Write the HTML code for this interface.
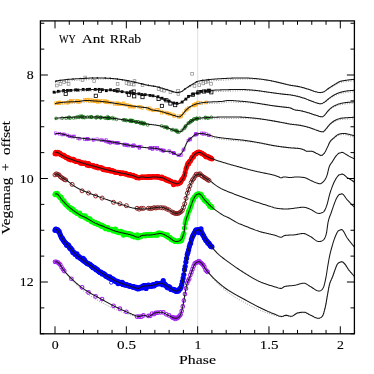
<!DOCTYPE html>
<html><head><meta charset="utf-8"><title>WY Ant RRab</title>
<style>html,body{margin:0;padding:0;background:#fff}svg{display:block}</style></head>
<body>
<svg width="374" height="374" viewBox="0 0 374 374">
<rect width="374" height="374" fill="#fff"/>
<defs><clipPath id="c"><rect x="40.4" y="20.9" width="314.0" height="312.90000000000003"/></clipPath></defs>
<g clip-path="url(#c)">
<line x1="197.65" y1="20.9" x2="197.65" y2="333.8" stroke="#d8d8d8" stroke-width="0.8"/>
<path d="M55.00,82.59 L56.16,82.31 L57.31,82.09 L58.47,81.92 L59.63,81.78 L60.78,81.66 L61.94,81.53 L63.10,81.40 L64.25,81.28 L65.41,81.16 L66.57,81.06 L67.72,80.96 L68.88,80.88 L70.04,80.80 L71.19,80.72 L72.35,80.65 L73.51,80.57 L74.66,80.50 L75.82,80.43 L76.98,80.35 L78.13,80.28 L79.29,80.21 L80.45,80.14 L81.60,80.07 L82.76,80.00 L83.92,79.93 L85.07,79.85 L86.23,79.78 L87.39,79.70 L88.54,79.62 L89.70,79.54 L90.86,79.46 L92.01,79.39 L93.17,79.32 L94.33,79.25 L95.48,79.19 L96.64,79.13 L97.80,79.09 L98.95,79.05 L100.11,79.02 L101.26,79.00 L102.42,78.98 L103.58,78.98 L104.73,78.97 L105.89,78.98 L107.05,78.99 L108.20,79.01 L109.36,79.03 L110.52,79.06 L111.67,79.09 L112.83,79.13 L113.99,79.18 L115.14,79.25 L116.30,79.32 L117.46,79.41 L118.61,79.51 L119.77,79.62 L120.93,79.74 L122.08,79.87 L123.24,80.01 L124.40,80.16 L125.55,80.31 L126.71,80.47 L127.87,80.64 L129.02,80.83 L130.18,81.04 L131.34,81.26 L132.49,81.49 L133.65,81.73 L134.81,81.98 L135.96,82.23 L137.12,82.48 L138.28,82.74 L139.43,83.00 L140.59,83.25 L141.75,83.51 L142.90,83.79 L144.06,84.07 L145.22,84.35 L146.37,84.61 L147.53,84.85 L148.69,85.05 L149.84,85.24 L151.00,85.42 L152.16,85.59 L153.31,85.77 L154.47,85.97 L155.63,86.19 L156.78,86.43 L157.94,86.72 L159.10,87.03 L160.25,87.37 L161.41,87.74 L162.57,88.12 L163.72,88.51 L164.88,88.90 L166.04,89.30 L167.19,89.70 L168.35,90.14 L169.51,90.60 L170.66,91.05 L171.82,91.48 L172.98,91.86 L174.13,92.21 L175.29,92.54 L176.45,92.77 L177.60,92.84 L178.76,92.76 L179.92,92.55 L181.07,92.21 L182.23,91.65 L183.39,90.86 L184.54,89.99 L185.70,89.18 L186.85,88.47 L188.01,87.78 L189.17,87.10 L190.32,86.44 L191.48,85.79 L192.64,85.15 L193.79,84.47 L194.95,83.79 L196.11,83.18 L197.26,82.71 L198.42,82.39 L199.58,82.16 L200.73,81.97 L201.89,81.82 L203.05,81.70 L204.20,81.57 L205.36,81.44 L206.52,81.32 L207.67,81.20 L208.83,81.09 L209.99,80.99 L211.14,80.91 L212.30,80.82 L213.46,80.75 L214.61,80.67 L215.77,80.60 L216.93,80.52 L218.08,80.45 L219.24,80.38 L220.40,80.30 L221.55,80.23 L222.71,80.16 L223.87,80.09 L225.02,80.02 L226.18,79.95 L227.34,79.88 L228.49,79.80 L229.65,79.73 L230.81,79.65 L231.96,79.57 L233.12,79.49 L234.28,79.41 L235.43,79.34 L236.59,79.27 L237.75,79.21 L238.90,79.15 L240.06,79.10 L241.22,79.06 L242.37,79.03 L243.53,79.01 L244.69,78.99 L245.84,78.98 L247.00,78.97 L248.16,78.98 L249.31,78.98 L250.47,79.00 L251.63,79.02 L252.78,79.05 L253.94,79.08 L255.10,79.11 L256.25,79.16 L257.41,79.22 L258.57,79.30 L259.72,79.38 L260.88,79.48 L262.04,79.59 L263.19,79.70 L264.35,79.83 L265.51,79.96 L266.66,80.11 L267.82,80.26 L268.98,80.41 L270.13,80.58 L271.29,80.77 L272.44,80.97 L273.60,81.18 L274.76,81.41 L275.91,81.65 L277.07,81.89 L278.23,82.14 L279.38,82.40 L280.54,82.65 L281.70,82.91 L282.85,83.17 L284.01,83.42 L285.17,83.70 L286.32,83.98 L287.48,84.26 L288.64,84.53 L289.79,84.77 L290.95,84.99 L292.11,85.18 L293.26,85.36 L294.42,85.54 L295.58,85.71 L296.73,85.90 L297.89,86.11 L299.05,86.35 L300.20,86.62 L301.36,86.92 L302.52,87.26 L303.67,87.61 L304.83,87.99 L305.99,88.38 L307.14,88.77 L308.30,89.17 L309.46,89.57 L310.61,89.99 L311.77,90.44 L312.93,90.90 L314.08,91.34 L315.24,91.74 L316.40,92.09 L317.55,92.44 L318.71,92.71 L319.87,92.83 L321.02,92.80 L322.18,92.63 L323.34,92.34 L324.49,91.87 L325.65,91.15 L326.81,90.28 L327.96,89.43 L329.12,88.70 L330.28,88.01 L331.43,87.33 L332.59,86.66 L333.75,86.01 L334.90,85.37 L336.06,84.70 L337.22,84.01 L338.37,83.37 L339.53,82.85 L340.69,82.49 L341.84,82.23 L343.00,82.03 L344.16,81.87 L345.31,81.74 L346.47,81.62 L347.63,81.49 L348.78,81.36 L349.94,81.24 L351.10,81.13 L352.25,81.03 L353.41,80.93 L354.56,80.85" fill="none" stroke="#777" stroke-width="0.85" stroke-dasharray="0.9 1.5"/>
<path d="M55.00,93.59 L56.16,93.31 L57.31,93.06 L58.47,92.84 L59.63,92.64 L60.78,92.47 L61.94,92.33 L63.10,92.21 L64.25,92.12 L65.41,92.04 L66.57,91.98 L67.72,91.92 L68.88,91.87 L70.04,91.82 L71.19,91.77 L72.35,91.72 L73.51,91.67 L74.66,91.62 L75.82,91.57 L76.98,91.52 L78.13,91.47 L79.29,91.42 L80.45,91.37 L81.60,91.33 L82.76,91.28 L83.92,91.24 L85.07,91.19 L86.23,91.15 L87.39,91.10 L88.54,91.05 L89.70,91.00 L90.86,90.96 L92.01,90.91 L93.17,90.86 L94.33,90.82 L95.48,90.77 L96.64,90.73 L97.80,90.69 L98.95,90.65 L100.11,90.63 L101.26,90.62 L102.42,90.62 L103.58,90.63 L104.73,90.65 L105.89,90.67 L107.05,90.70 L108.20,90.74 L109.36,90.79 L110.52,90.83 L111.67,90.88 L112.83,90.94 L113.99,91.01 L115.14,91.10 L116.30,91.21 L117.46,91.32 L118.61,91.44 L119.77,91.57 L120.93,91.71 L122.08,91.84 L123.24,91.97 L124.40,92.11 L125.55,92.23 L126.71,92.35 L127.87,92.47 L129.02,92.59 L130.18,92.71 L131.34,92.84 L132.49,92.97 L133.65,93.09 L134.81,93.22 L135.96,93.35 L137.12,93.47 L138.28,93.60 L139.43,93.73 L140.59,93.85 L141.75,93.96 L142.90,94.06 L144.06,94.15 L145.22,94.25 L146.37,94.38 L147.53,94.54 L148.69,94.72 L149.84,94.92 L151.00,95.14 L152.16,95.38 L153.31,95.64 L154.47,95.91 L155.63,96.21 L156.78,96.52 L157.94,96.86 L159.10,97.23 L160.25,97.63 L161.41,98.06 L162.57,98.50 L163.72,98.95 L164.88,99.41 L166.04,99.87 L167.19,100.33 L168.35,100.82 L169.51,101.34 L170.66,101.85 L171.82,102.33 L172.98,102.76 L174.13,103.16 L175.29,103.55 L176.45,103.87 L177.60,104.04 L178.76,103.97 L179.92,103.59 L181.07,103.02 L182.23,102.39 L183.39,101.55 L184.54,100.59 L185.70,99.68 L186.85,98.89 L188.01,98.10 L189.17,97.34 L190.32,96.62 L191.48,95.96 L192.64,95.39 L193.79,94.87 L194.95,94.42 L196.11,94.03 L197.26,93.69 L198.42,93.40 L199.58,93.14 L200.73,92.91 L201.89,92.70 L203.05,92.53 L204.20,92.37 L205.36,92.25 L206.52,92.15 L207.67,92.06 L208.83,92.00 L209.99,91.94 L211.14,91.88 L212.30,91.83 L213.46,91.78 L214.61,91.73 L215.77,91.68 L216.93,91.63 L218.08,91.58 L219.24,91.53 L220.40,91.48 L221.55,91.44 L222.71,91.39 L223.87,91.34 L225.02,91.30 L226.18,91.25 L227.34,91.21 L228.49,91.16 L229.65,91.11 L230.81,91.07 L231.96,91.02 L233.12,90.97 L234.28,90.93 L235.43,90.88 L236.59,90.83 L237.75,90.79 L238.90,90.74 L240.06,90.70 L241.22,90.66 L242.37,90.64 L243.53,90.62 L244.69,90.62 L245.84,90.62 L247.00,90.64 L248.16,90.66 L249.31,90.69 L250.47,90.73 L251.63,90.77 L252.78,90.82 L253.94,90.87 L255.10,90.92 L256.25,90.99 L257.41,91.07 L258.57,91.17 L259.72,91.28 L260.88,91.40 L262.04,91.53 L263.19,91.66 L264.35,91.80 L265.51,91.93 L266.66,92.06 L267.82,92.19 L268.98,92.31 L270.13,92.43 L271.29,92.55 L272.44,92.67 L273.60,92.80 L274.76,92.92 L275.91,93.05 L277.07,93.18 L278.23,93.30 L279.38,93.43 L280.54,93.56 L281.70,93.68 L282.85,93.81 L284.01,93.93 L285.17,94.02 L286.32,94.12 L287.48,94.21 L288.64,94.33 L289.79,94.48 L290.95,94.66 L292.11,94.85 L293.26,95.07 L294.42,95.30 L295.58,95.55 L296.73,95.82 L297.89,96.11 L299.05,96.42 L300.20,96.74 L301.36,97.11 L302.52,97.50 L303.67,97.92 L304.83,98.35 L305.99,98.80 L307.14,99.26 L308.30,99.72 L309.46,100.17 L310.61,100.66 L311.77,101.17 L312.93,101.68 L314.08,102.18 L315.24,102.62 L316.40,103.03 L317.55,103.43 L318.71,103.77 L319.87,104.00 L321.02,104.04 L322.18,103.74 L323.34,103.22 L324.49,102.62 L325.65,101.85 L326.81,100.91 L327.96,99.97 L329.12,99.15 L330.28,98.36 L331.43,97.59 L332.59,96.85 L333.75,96.17 L334.90,95.57 L336.06,95.04 L337.22,94.57 L338.37,94.15 L339.53,93.79 L340.69,93.49 L341.84,93.22 L343.00,92.98 L344.16,92.77 L345.31,92.58 L346.47,92.42 L347.63,92.29 L348.78,92.18 L349.94,92.09 L351.10,92.02 L352.25,91.96 L353.41,91.90 L354.56,91.85" fill="none" stroke="#777" stroke-width="0.85" stroke-dasharray="0.9 1.5"/>
<path d="M55.00,104.79 L56.16,104.55 L57.31,104.35 L58.47,104.18 L59.63,104.05 L60.78,103.93 L61.94,103.83 L63.10,103.74 L64.25,103.67 L65.41,103.61 L66.57,103.56 L67.72,103.52 L68.88,103.47 L70.04,103.42 L71.19,103.38 L72.35,103.34 L73.51,103.30 L74.66,103.26 L75.82,103.21 L76.98,103.15 L78.13,103.08 L79.29,102.99 L80.45,102.84 L81.60,102.63 L82.76,102.40 L83.92,102.18 L85.07,102.00 L86.23,101.91 L87.39,101.90 L88.54,101.93 L89.70,101.97 L90.86,102.04 L92.01,102.11 L93.17,102.19 L94.33,102.26 L95.48,102.31 L96.64,102.35 L97.80,102.39 L98.95,102.43 L100.11,102.47 L101.26,102.52 L102.42,102.57 L103.58,102.63 L104.73,102.70 L105.89,102.78 L107.05,102.88 L108.20,102.99 L109.36,103.11 L110.52,103.24 L111.67,103.37 L112.83,103.51 L113.99,103.64 L115.14,103.78 L116.30,103.91 L117.46,104.04 L118.61,104.17 L119.77,104.31 L120.93,104.46 L122.08,104.60 L123.24,104.75 L124.40,104.90 L125.55,105.04 L126.71,105.19 L127.87,105.33 L129.02,105.48 L130.18,105.62 L131.34,105.75 L132.49,105.88 L133.65,106.00 L134.81,106.12 L135.96,106.23 L137.12,106.34 L138.28,106.45 L139.43,106.56 L140.59,106.68 L141.75,106.80 L142.90,106.92 L144.06,107.03 L145.22,107.15 L146.37,107.31 L147.53,107.56 L148.69,108.00 L149.84,108.56 L151.00,109.11 L152.16,109.52 L153.31,109.77 L154.47,109.96 L155.63,110.12 L156.78,110.28 L157.94,110.48 L159.10,110.74 L160.25,111.04 L161.41,111.36 L162.57,111.71 L163.72,112.07 L164.88,112.45 L166.04,112.83 L167.19,113.22 L168.35,113.61 L169.51,114.02 L170.66,114.45 L171.82,114.90 L172.98,115.33 L174.13,115.74 L175.29,116.13 L176.45,116.54 L177.60,116.91 L178.76,117.16 L179.92,117.14 L181.07,116.38 L182.23,115.34 L183.39,114.00 L184.54,112.53 L185.70,111.21 L186.85,110.14 L188.01,109.14 L189.17,108.24 L190.32,107.50 L191.48,106.90 L192.64,106.38 L193.79,105.92 L194.95,105.52 L196.11,105.17 L197.26,104.88 L198.42,104.62 L199.58,104.41 L200.73,104.24 L201.89,104.09 L203.05,103.97 L204.20,103.86 L205.36,103.76 L206.52,103.69 L207.67,103.63 L208.83,103.58 L209.99,103.53 L211.14,103.48 L212.30,103.43 L213.46,103.39 L214.61,103.35 L215.77,103.31 L216.93,103.27 L218.08,103.23 L219.24,103.17 L220.40,103.11 L221.55,103.02 L222.71,102.90 L223.87,102.71 L225.02,102.48 L226.18,102.25 L227.34,102.05 L228.49,101.93 L229.65,101.90 L230.81,101.91 L231.96,101.96 L233.12,102.02 L234.28,102.09 L235.43,102.16 L236.59,102.23 L237.75,102.29 L238.90,102.34 L240.06,102.38 L241.22,102.42 L242.37,102.46 L243.53,102.50 L244.69,102.55 L245.84,102.60 L247.00,102.67 L248.16,102.75 L249.31,102.84 L250.47,102.95 L251.63,103.07 L252.78,103.19 L253.94,103.32 L255.10,103.46 L256.25,103.60 L257.41,103.73 L258.57,103.87 L259.72,104.00 L260.88,104.13 L262.04,104.27 L263.19,104.41 L264.35,104.55 L265.51,104.70 L266.66,104.85 L267.82,104.99 L268.98,105.14 L270.13,105.29 L271.29,105.43 L272.44,105.57 L273.60,105.71 L274.76,105.84 L275.91,105.96 L277.07,106.08 L278.23,106.19 L279.38,106.30 L280.54,106.41 L281.70,106.52 L282.85,106.64 L284.01,106.76 L285.17,106.89 L286.32,106.99 L287.48,107.11 L288.64,107.25 L289.79,107.47 L290.95,107.83 L292.11,108.36 L293.26,108.94 L294.42,109.41 L295.58,109.70 L296.73,109.91 L297.89,110.07 L299.05,110.23 L300.20,110.41 L301.36,110.65 L302.52,110.94 L303.67,111.25 L304.83,111.59 L305.99,111.95 L307.14,112.32 L308.30,112.70 L309.46,113.09 L310.61,113.48 L311.77,113.88 L312.93,114.31 L314.08,114.75 L315.24,115.19 L316.40,115.61 L317.55,116.00 L318.71,116.40 L319.87,116.80 L321.02,117.10 L322.18,117.22 L323.34,116.69 L324.49,115.71 L325.65,114.48 L326.81,113.02 L327.96,111.62 L329.12,110.49 L330.28,109.46 L331.43,108.53 L332.59,107.73 L333.75,107.09 L334.90,106.55 L336.06,106.07 L337.22,105.65 L338.37,105.29 L339.53,104.97 L340.69,104.70 L341.84,104.48 L343.00,104.29 L344.16,104.14 L345.31,104.00 L346.47,103.89 L347.63,103.79 L348.78,103.71 L349.94,103.65 L351.10,103.59 L352.25,103.55 L353.41,103.50 L354.56,103.45" fill="none" stroke="#777" stroke-width="0.85" stroke-dasharray="0.9 1.5"/>
<path d="M55.00,119.59 L56.16,119.43 L57.31,119.33 L58.47,119.26 L59.63,119.21 L60.78,119.16 L61.94,119.12 L63.10,119.06 L64.25,119.01 L65.41,118.96 L66.57,118.92 L67.72,118.89 L68.88,118.86 L70.04,118.84 L71.19,118.81 L72.35,118.79 L73.51,118.76 L74.66,118.73 L75.82,118.71 L76.98,118.68 L78.13,118.65 L79.29,118.63 L80.45,118.60 L81.60,118.58 L82.76,118.56 L83.92,118.55 L85.07,118.53 L86.23,118.51 L87.39,118.48 L88.54,118.46 L89.70,118.43 L90.86,118.41 L92.01,118.38 L93.17,118.36 L94.33,118.33 L95.48,118.32 L96.64,118.30 L97.80,118.29 L98.95,118.28 L100.11,118.29 L101.26,118.31 L102.42,118.34 L103.58,118.37 L104.73,118.41 L105.89,118.46 L107.05,118.52 L108.20,118.58 L109.36,118.64 L110.52,118.71 L111.67,118.78 L112.83,118.85 L113.99,118.93 L115.14,119.02 L116.30,119.12 L117.46,119.22 L118.61,119.33 L119.77,119.45 L120.93,119.58 L122.08,119.70 L123.24,119.84 L124.40,119.98 L125.55,120.12 L126.71,120.26 L127.87,120.41 L129.02,120.57 L130.18,120.74 L131.34,120.91 L132.49,121.09 L133.65,121.27 L134.81,121.46 L135.96,121.65 L137.12,121.85 L138.28,122.05 L139.43,122.25 L140.59,122.45 L141.75,122.66 L142.90,122.89 L144.06,123.12 L145.22,123.34 L146.37,123.55 L147.53,123.74 L148.69,123.89 L149.84,124.04 L151.00,124.17 L152.16,124.30 L153.31,124.43 L154.47,124.58 L155.63,124.75 L156.78,124.94 L157.94,125.17 L159.10,125.42 L160.25,125.69 L161.41,125.98 L162.57,126.29 L163.72,126.61 L164.88,126.96 L166.04,127.32 L167.19,127.70 L168.35,128.13 L169.51,128.61 L170.66,129.10 L171.82,129.60 L172.98,130.09 L174.13,130.53 L175.29,130.94 L176.45,131.35 L177.60,131.74 L178.76,132.05 L179.92,132.24 L181.07,131.97 L182.23,130.83 L183.39,129.50 L184.54,128.18 L185.70,126.73 L186.85,125.39 L188.01,124.32 L189.17,123.40 L190.32,122.58 L191.48,121.87 L192.64,121.28 L193.79,120.76 L194.95,120.30 L196.11,119.93 L197.26,119.65 L198.42,119.48 L199.58,119.36 L200.73,119.28 L201.89,119.22 L203.05,119.18 L204.20,119.13 L205.36,119.08 L206.52,119.03 L207.67,118.98 L208.83,118.94 L209.99,118.90 L211.14,118.87 L212.30,118.84 L213.46,118.82 L214.61,118.80 L215.77,118.77 L216.93,118.74 L218.08,118.71 L219.24,118.69 L220.40,118.66 L221.55,118.64 L222.71,118.61 L223.87,118.59 L225.02,118.57 L226.18,118.55 L227.34,118.53 L228.49,118.51 L229.65,118.49 L230.81,118.47 L231.96,118.44 L233.12,118.41 L234.28,118.39 L235.43,118.36 L236.59,118.34 L237.75,118.32 L238.90,118.30 L240.06,118.29 L241.22,118.28 L242.37,118.29 L243.53,118.30 L244.69,118.33 L245.84,118.36 L247.00,118.40 L248.16,118.45 L249.31,118.50 L250.47,118.56 L251.63,118.62 L252.78,118.69 L253.94,118.75 L255.10,118.82 L256.25,118.90 L257.41,118.99 L258.57,119.08 L259.72,119.19 L260.88,119.29 L262.04,119.41 L263.19,119.53 L264.35,119.66 L265.51,119.79 L266.66,119.93 L267.82,120.07 L268.98,120.21 L270.13,120.36 L271.29,120.52 L272.44,120.68 L273.60,120.85 L274.76,121.03 L275.91,121.21 L277.07,121.40 L278.23,121.59 L279.38,121.78 L280.54,121.98 L281.70,122.18 L282.85,122.38 L284.01,122.59 L285.17,122.81 L286.32,123.04 L287.48,123.27 L288.64,123.48 L289.79,123.68 L290.95,123.84 L292.11,123.99 L293.26,124.12 L294.42,124.25 L295.58,124.39 L296.73,124.53 L297.89,124.69 L299.05,124.87 L300.20,125.09 L301.36,125.33 L302.52,125.59 L303.67,125.88 L304.83,126.18 L305.99,126.50 L307.14,126.84 L308.30,127.20 L309.46,127.57 L310.61,127.98 L311.77,128.44 L312.93,128.94 L314.08,129.44 L315.24,129.93 L316.40,130.39 L317.55,130.80 L318.71,131.21 L319.87,131.62 L321.02,131.96 L322.18,132.20 L323.34,132.18 L324.49,131.27 L325.65,129.92 L326.81,128.65 L327.96,127.21 L329.12,125.81 L330.28,124.66 L331.43,123.70 L332.59,122.84 L333.75,122.10 L334.90,121.47 L336.06,120.93 L337.22,120.45 L338.37,120.04 L339.53,119.73 L340.69,119.53 L341.84,119.39 L343.00,119.30 L344.16,119.24 L345.31,119.19 L346.47,119.15 L347.63,119.10 L348.78,119.05 L349.94,119.00 L351.10,118.95 L352.25,118.91 L353.41,118.88 L354.56,118.85" fill="none" stroke="#777" stroke-width="0.85" stroke-dasharray="0.9 1.5"/>
<path d="M55.00,134.97 L56.16,134.73 L57.31,134.56 L58.47,134.58 L59.63,134.71 L60.78,134.93 L61.94,135.19 L63.10,135.48 L64.25,135.78 L65.41,136.09 L66.57,136.45 L67.72,136.85 L68.88,137.25 L70.04,137.64 L71.19,137.97 L72.35,138.23 L73.51,138.45 L74.66,138.64 L75.82,138.83 L76.98,139.00 L78.13,139.15 L79.29,139.30 L80.45,139.44 L81.60,139.57 L82.76,139.69 L83.92,139.81 L85.07,139.93 L86.23,140.04 L87.39,140.16 L88.54,140.27 L89.70,140.37 L90.86,140.46 L92.01,140.55 L93.17,140.63 L94.33,140.70 L95.48,140.78 L96.64,140.86 L97.80,140.94 L98.95,141.03 L100.11,141.13 L101.26,141.25 L102.42,141.37 L103.58,141.49 L104.73,141.62 L105.89,141.76 L107.05,141.90 L108.20,142.04 L109.36,142.19 L110.52,142.34 L111.67,142.50 L112.83,142.66 L113.99,142.82 L115.14,142.98 L116.30,143.14 L117.46,143.32 L118.61,143.50 L119.77,143.69 L120.93,143.89 L122.08,144.10 L123.24,144.30 L124.40,144.51 L125.55,144.72 L126.71,144.93 L127.87,145.13 L129.02,145.32 L130.18,145.51 L131.34,145.68 L132.49,145.85 L133.65,146.00 L134.81,146.16 L135.96,146.30 L137.12,146.45 L138.28,146.59 L139.43,146.73 L140.59,146.86 L141.75,147.00 L142.90,147.13 L144.06,147.25 L145.22,147.38 L146.37,147.50 L147.53,147.62 L148.69,147.73 L149.84,147.81 L151.00,147.89 L152.16,147.96 L153.31,148.04 L154.47,148.14 L155.63,148.27 L156.78,148.43 L157.94,148.67 L159.10,149.02 L160.25,149.46 L161.41,149.93 L162.57,150.55 L163.72,151.22 L164.88,151.31 L166.04,151.30 L167.19,151.29 L168.35,151.31 L169.51,151.51 L170.66,151.93 L171.82,152.50 L172.98,153.14 L174.13,153.74 L175.29,154.30 L176.45,154.98 L177.60,155.58 L178.76,155.84 L179.92,155.39 L181.07,154.32 L182.23,152.88 L183.39,150.76 L184.54,148.30 L185.70,145.86 L186.85,143.31 L188.01,141.64 L189.17,140.44 L190.32,139.44 L191.48,138.48 L192.64,137.50 L193.79,136.58 L194.95,135.80 L196.11,135.28 L197.26,135.04 L198.42,134.81 L199.58,134.60 L200.73,134.56 L201.89,134.66 L203.05,134.85 L204.20,135.10 L205.36,135.38 L206.52,135.69 L207.67,135.98 L208.83,136.32 L209.99,136.71 L211.14,137.12 L212.30,137.51 L213.46,137.87 L214.61,138.15 L215.77,138.38 L216.93,138.58 L218.08,138.77 L219.24,138.94 L220.40,139.10 L221.55,139.25 L222.71,139.39 L223.87,139.53 L225.02,139.65 L226.18,139.77 L227.34,139.89 L228.49,140.01 L229.65,140.12 L230.81,140.24 L231.96,140.34 L233.12,140.44 L234.28,140.52 L235.43,140.60 L236.59,140.68 L237.75,140.75 L238.90,140.83 L240.06,140.91 L241.22,141.00 L242.37,141.10 L243.53,141.21 L244.69,141.32 L245.84,141.45 L247.00,141.58 L248.16,141.71 L249.31,141.85 L250.47,141.99 L251.63,142.14 L252.78,142.29 L253.94,142.45 L255.10,142.60 L256.25,142.76 L257.41,142.93 L258.57,143.09 L259.72,143.26 L260.88,143.44 L262.04,143.63 L263.19,143.82 L264.35,144.03 L265.51,144.23 L266.66,144.44 L267.82,144.65 L268.98,144.86 L270.13,145.06 L271.29,145.26 L272.44,145.45 L273.60,145.63 L274.76,145.79 L275.91,145.95 L277.07,146.11 L278.23,146.26 L279.38,146.40 L280.54,146.54 L281.70,146.68 L282.85,146.82 L284.01,146.95 L285.17,147.08 L286.32,147.21 L287.48,147.34 L288.64,147.46 L289.79,147.58 L290.95,147.70 L292.11,147.79 L293.26,147.86 L294.42,147.94 L295.58,148.02 L296.73,148.11 L297.89,148.23 L299.05,148.37 L300.20,148.57 L301.36,148.89 L302.52,149.31 L303.67,149.77 L304.83,150.30 L305.99,151.05 L307.14,151.31 L308.30,151.31 L309.46,151.29 L310.61,151.30 L311.77,151.41 L312.93,151.77 L314.08,152.30 L315.24,152.92 L316.40,153.55 L317.55,154.10 L318.71,154.75 L319.87,155.41 L321.02,155.81 L322.18,155.62 L323.34,154.73 L324.49,153.41 L325.65,151.53 L326.81,149.13 L327.96,146.72 L329.12,144.11 L330.28,142.11 L331.43,140.81 L332.59,139.76 L333.75,138.81 L334.90,137.83 L336.06,136.87 L337.22,136.04 L338.37,135.42 L339.53,135.11 L340.69,134.89 L341.84,134.66 L343.00,134.55 L344.16,134.61 L345.31,134.78 L346.47,135.01 L347.63,135.29 L348.78,135.59 L349.94,135.88 L351.10,136.20 L352.25,136.58 L353.41,136.98 L354.56,137.38" fill="none" stroke="#777" stroke-width="0.85" stroke-dasharray="0.9 1.5"/>
<path d="M55.00,262.50 L56.16,262.21 L57.31,262.46 L58.47,263.37 L59.63,264.59 L60.78,266.22 L61.94,268.10 L63.10,269.88 L64.25,271.35 L65.41,272.73 L66.57,274.07 L67.72,275.48 L68.88,276.84 L70.04,278.16 L71.19,279.45 L72.35,280.69 L73.51,281.91 L74.66,283.09 L75.82,284.25 L76.98,285.37 L78.13,286.46 L79.29,287.52 L80.45,288.55 L81.60,289.54 L82.76,290.49 L83.92,291.40 L85.07,292.27 L86.23,293.10 L87.39,293.91 L88.54,294.69 L89.70,295.45 L90.86,296.20 L92.01,296.94 L93.17,297.65 L94.33,298.34 L95.48,299.01 L96.64,299.67 L97.80,300.32 L98.95,300.96 L100.11,301.60 L101.26,302.23 L102.42,302.87 L103.58,303.50 L104.73,304.12 L105.89,304.74 L107.05,305.35 L108.20,305.95 L109.36,306.54 L110.52,307.12 L111.67,307.69 L112.83,308.24 L113.99,308.77 L115.14,309.29 L116.30,309.79 L117.46,310.27 L118.61,310.74 L119.77,311.21 L120.93,311.66 L122.08,312.10 L123.24,312.53 L124.40,312.95 L125.55,313.35 L126.71,313.75 L127.87,314.12 L129.02,314.48 L130.18,314.83 L131.34,315.16 L132.49,315.48 L133.65,315.82 L134.81,316.17 L135.96,316.47 L137.12,316.69 L138.28,316.84 L139.43,316.89 L140.59,316.61 L141.75,316.18 L142.90,315.85 L144.06,315.84 L145.22,316.09 L146.37,316.43 L147.53,316.71 L148.69,316.79 L149.84,316.46 L151.00,315.80 L152.16,315.00 L153.31,314.21 L154.47,313.62 L155.63,313.31 L156.78,313.08 L157.94,312.91 L159.10,312.79 L160.25,312.72 L161.41,312.70 L162.57,312.91 L163.72,313.37 L164.88,313.98 L166.04,314.65 L167.19,315.27 L168.35,315.80 L169.51,316.38 L170.66,317.01 L171.82,317.61 L172.98,318.14 L174.13,318.52 L175.29,318.69 L176.45,318.63 L177.60,318.30 L178.76,317.59 L179.92,316.37 L181.07,313.61 L182.23,309.32 L183.39,303.92 L184.54,297.01 L185.70,290.52 L186.85,284.85 L188.01,281.50 L189.17,279.01 L190.32,276.08 L191.48,272.76 L192.64,269.59 L193.79,266.45 L194.95,264.30 L196.11,263.25 L197.26,262.66 L198.42,262.26 L199.58,262.29 L200.73,263.02 L201.89,264.16 L203.05,265.64 L204.20,267.47 L205.36,269.32 L206.52,270.88 L207.67,272.28 L208.83,273.62 L209.99,275.02 L211.14,276.39 L212.30,277.73 L213.46,279.02 L214.61,280.28 L215.77,281.51 L216.93,282.70 L218.08,283.87 L219.24,285.00 L220.40,286.10 L221.55,287.17 L222.71,288.21 L223.87,289.21 L225.02,290.18 L226.18,291.10 L227.34,291.99 L228.49,292.83 L229.65,293.64 L230.81,294.43 L231.96,295.20 L233.12,295.95 L234.28,296.69 L235.43,297.41 L236.59,298.11 L237.75,298.79 L238.90,299.45 L240.06,300.10 L241.22,300.75 L242.37,301.39 L243.53,302.02 L244.69,302.66 L245.84,303.29 L247.00,303.91 L248.16,304.54 L249.31,305.15 L250.47,305.75 L251.63,306.35 L252.78,306.93 L253.94,307.50 L255.10,308.06 L256.25,308.60 L257.41,309.12 L258.57,309.62 L259.72,310.11 L260.88,310.59 L262.04,311.05 L263.19,311.51 L264.35,311.96 L265.51,312.39 L266.66,312.81 L267.82,313.22 L268.98,313.62 L270.13,314.00 L271.29,314.36 L272.44,314.71 L273.60,315.05 L274.76,315.37 L275.91,315.70 L277.07,316.06 L278.23,316.38 L279.38,316.63 L280.54,316.79 L281.70,316.90 L282.85,316.74 L284.01,316.33 L285.17,315.93 L286.32,315.81 L287.48,315.99 L288.64,316.31 L289.79,316.63 L290.95,316.80 L292.11,316.61 L293.26,316.04 L294.42,315.27 L295.58,314.46 L296.73,313.79 L297.89,313.40 L299.05,313.15 L300.20,312.96 L301.36,312.82 L302.52,312.74 L303.67,312.70 L304.83,312.81 L305.99,313.19 L307.14,313.77 L308.30,314.43 L309.46,315.08 L310.61,315.62 L311.77,316.18 L312.93,316.80 L314.08,317.42 L315.24,317.97 L316.40,318.41 L317.55,318.66 L318.71,318.68 L319.87,318.45 L321.02,317.88 L322.18,316.84 L323.34,314.75 L324.49,310.86 L325.65,305.99 L326.81,299.30 L327.96,292.71 L329.12,286.48 L330.28,282.46 L331.43,279.83 L332.59,277.14 L333.75,273.86 L334.90,270.67 L336.06,267.44 L337.22,264.85 L338.37,263.53 L339.53,262.83 L340.69,262.36 L341.84,262.20 L343.00,262.71 L344.16,263.76 L345.31,265.09 L346.47,266.84 L347.63,268.72 L348.78,270.40 L349.94,271.82 L351.10,273.18 L352.25,274.55 L353.41,275.94 L354.56,277.29" fill="none" stroke="#777" stroke-width="0.85" stroke-dasharray="0.9 1.5"/>
<g fill="#ff0000"><circle cx="55.00" cy="153.66" r="2.5"/><circle cx="55.69" cy="152.37" r="2.5"/><circle cx="56.37" cy="154.09" r="2.5"/><circle cx="57.06" cy="152.49" r="2.5"/><circle cx="57.74" cy="152.24" r="2.5"/><circle cx="58.43" cy="152.92" r="2.5"/><circle cx="59.11" cy="153.36" r="2.5"/><circle cx="59.80" cy="153.10" r="2.5"/><circle cx="60.48" cy="154.60" r="2.5"/><circle cx="61.17" cy="154.84" r="2.5"/><circle cx="61.85" cy="154.77" r="2.5"/><circle cx="62.54" cy="155.38" r="2.5"/><circle cx="63.22" cy="156.07" r="2.5"/><circle cx="63.91" cy="155.37" r="2.5"/><circle cx="64.59" cy="156.55" r="2.5"/><circle cx="65.28" cy="156.41" r="2.5"/><circle cx="65.96" cy="157.54" r="2.5"/><circle cx="66.65" cy="157.68" r="2.5"/><circle cx="67.33" cy="158.04" r="2.5"/><circle cx="68.02" cy="157.61" r="2.5"/><circle cx="68.70" cy="159.15" r="2.5"/><circle cx="69.39" cy="158.81" r="2.5"/><circle cx="70.07" cy="158.84" r="2.5"/><circle cx="70.76" cy="160.05" r="2.5"/><circle cx="71.45" cy="159.46" r="2.5"/><circle cx="72.13" cy="159.13" r="2.5"/><circle cx="72.82" cy="159.78" r="2.5"/><circle cx="73.50" cy="159.26" r="2.5"/><circle cx="74.19" cy="160.82" r="2.5"/><circle cx="74.87" cy="160.46" r="2.5"/><circle cx="75.56" cy="161.17" r="2.5"/><circle cx="76.24" cy="161.50" r="2.5"/><circle cx="76.93" cy="161.36" r="2.5"/><circle cx="77.61" cy="161.71" r="2.5"/><circle cx="78.30" cy="161.29" r="2.5"/><circle cx="78.98" cy="161.66" r="2.5"/><circle cx="79.67" cy="161.65" r="2.5"/><circle cx="80.35" cy="162.93" r="2.5"/><circle cx="81.04" cy="163.26" r="2.5"/><circle cx="81.72" cy="162.62" r="2.5"/><circle cx="82.41" cy="163.30" r="2.5"/><circle cx="83.09" cy="163.10" r="2.5"/><circle cx="83.78" cy="163.60" r="2.5"/><circle cx="84.46" cy="163.28" r="2.5"/><circle cx="85.15" cy="163.10" r="2.5"/><circle cx="85.83" cy="163.26" r="2.5"/><circle cx="86.52" cy="164.33" r="2.5"/><circle cx="87.21" cy="165.28" r="2.5"/><circle cx="87.89" cy="164.68" r="2.5"/><circle cx="88.58" cy="163.61" r="2.5"/><circle cx="89.26" cy="165.72" r="2.5"/><circle cx="89.95" cy="165.24" r="2.5"/><circle cx="90.63" cy="165.38" r="2.5"/><circle cx="91.32" cy="165.63" r="2.5"/><circle cx="92.00" cy="165.66" r="2.5"/><circle cx="92.69" cy="165.78" r="2.5"/><circle cx="93.37" cy="165.52" r="2.5"/><circle cx="94.06" cy="166.48" r="2.5"/><circle cx="94.74" cy="166.43" r="2.5"/><circle cx="95.43" cy="167.13" r="2.5"/><circle cx="96.11" cy="166.69" r="2.5"/><circle cx="96.80" cy="166.26" r="2.5"/><circle cx="97.48" cy="167.17" r="2.5"/><circle cx="98.17" cy="168.08" r="2.5"/><circle cx="98.85" cy="167.44" r="2.5"/><circle cx="99.54" cy="167.42" r="2.5"/><circle cx="100.22" cy="167.49" r="2.5"/><circle cx="100.91" cy="167.73" r="2.5"/><circle cx="101.59" cy="168.22" r="2.5"/><circle cx="102.28" cy="168.05" r="2.5"/><circle cx="102.97" cy="169.31" r="2.5"/><circle cx="103.65" cy="169.85" r="2.5"/><circle cx="104.34" cy="169.12" r="2.5"/><circle cx="105.02" cy="169.83" r="2.5"/><circle cx="105.71" cy="170.04" r="2.5"/><circle cx="106.39" cy="169.53" r="2.5"/><circle cx="107.08" cy="169.92" r="2.5"/><circle cx="107.76" cy="170.25" r="2.5"/><circle cx="108.45" cy="170.05" r="2.5"/><circle cx="109.13" cy="169.59" r="2.5"/><circle cx="109.82" cy="170.73" r="2.5"/><circle cx="110.50" cy="170.99" r="2.5"/><circle cx="111.19" cy="170.96" r="2.5"/><circle cx="111.87" cy="170.59" r="2.5"/><circle cx="112.56" cy="171.04" r="2.5"/><circle cx="113.24" cy="171.04" r="2.5"/><circle cx="113.93" cy="171.31" r="2.5"/><circle cx="114.61" cy="172.11" r="2.5"/><circle cx="115.30" cy="172.36" r="2.5"/><circle cx="115.98" cy="172.17" r="2.5"/><circle cx="116.67" cy="172.27" r="2.5"/><circle cx="117.35" cy="172.47" r="2.5"/><circle cx="118.04" cy="172.35" r="2.5"/><circle cx="118.73" cy="172.47" r="2.5"/><circle cx="119.41" cy="172.38" r="2.5"/><circle cx="120.10" cy="172.76" r="2.5"/><circle cx="120.78" cy="173.83" r="2.5"/><circle cx="121.47" cy="173.40" r="2.5"/><circle cx="122.15" cy="173.04" r="2.5"/><circle cx="122.84" cy="173.12" r="2.5"/><circle cx="123.52" cy="173.09" r="2.5"/><circle cx="124.21" cy="173.72" r="2.5"/><circle cx="124.89" cy="173.86" r="2.5"/><circle cx="125.58" cy="173.26" r="2.5"/><circle cx="126.26" cy="174.18" r="2.5"/><circle cx="126.95" cy="173.91" r="2.5"/><circle cx="127.63" cy="174.87" r="2.5"/><circle cx="128.32" cy="174.52" r="2.5"/><circle cx="129.00" cy="175.31" r="2.5"/><circle cx="129.69" cy="174.61" r="2.5"/><circle cx="130.37" cy="174.85" r="2.5"/><circle cx="131.06" cy="175.27" r="2.5"/><circle cx="131.74" cy="175.76" r="2.5"/><circle cx="132.43" cy="175.76" r="2.5"/><circle cx="133.11" cy="175.25" r="2.5"/><circle cx="133.80" cy="176.03" r="2.5"/><circle cx="134.49" cy="176.20" r="2.5"/><circle cx="135.17" cy="176.27" r="2.5"/><circle cx="135.86" cy="176.45" r="2.5"/><circle cx="136.54" cy="177.76" r="2.5"/><circle cx="137.23" cy="177.28" r="2.5"/><circle cx="137.91" cy="177.38" r="2.5"/><circle cx="138.60" cy="178.05" r="2.5"/><circle cx="139.28" cy="177.70" r="2.5"/><circle cx="139.97" cy="177.67" r="2.5"/><circle cx="140.65" cy="177.41" r="2.5"/><circle cx="141.34" cy="177.11" r="2.5"/><circle cx="142.02" cy="177.05" r="2.5"/><circle cx="142.71" cy="177.35" r="2.5"/><circle cx="143.39" cy="177.16" r="2.5"/><circle cx="144.08" cy="176.90" r="2.5"/><circle cx="144.76" cy="177.11" r="2.5"/><circle cx="145.45" cy="177.14" r="2.5"/><circle cx="146.13" cy="177.52" r="2.5"/><circle cx="146.82" cy="177.06" r="2.5"/><circle cx="147.50" cy="176.77" r="2.5"/><circle cx="148.19" cy="177.51" r="2.5"/><circle cx="148.87" cy="176.89" r="2.5"/><circle cx="149.56" cy="176.58" r="2.5"/><circle cx="150.25" cy="177.43" r="2.5"/><circle cx="150.93" cy="176.92" r="2.5"/><circle cx="151.62" cy="177.32" r="2.5"/><circle cx="152.30" cy="176.85" r="2.5"/><circle cx="152.99" cy="176.57" r="2.5"/><circle cx="153.67" cy="177.08" r="2.5"/><circle cx="154.36" cy="176.80" r="2.5"/><circle cx="155.04" cy="176.90" r="2.5"/><circle cx="155.73" cy="176.70" r="2.5"/><circle cx="156.41" cy="176.93" r="2.5"/><circle cx="157.10" cy="176.46" r="2.5"/><circle cx="157.78" cy="177.13" r="2.5"/><circle cx="158.47" cy="176.45" r="2.5"/><circle cx="159.15" cy="177.16" r="2.5"/><circle cx="159.84" cy="177.59" r="2.5"/><circle cx="160.52" cy="177.84" r="2.5"/><circle cx="161.21" cy="178.20" r="2.5"/><circle cx="161.89" cy="177.02" r="2.5"/><circle cx="162.58" cy="178.12" r="2.5"/><circle cx="163.26" cy="178.54" r="2.5"/><circle cx="163.95" cy="178.74" r="2.5"/><circle cx="164.63" cy="178.30" r="2.5"/><circle cx="165.32" cy="179.18" r="2.5"/><circle cx="166.01" cy="180.12" r="2.5"/><circle cx="166.69" cy="179.14" r="2.5"/><circle cx="167.38" cy="180.27" r="2.5"/><circle cx="168.06" cy="180.85" r="2.5"/><circle cx="168.75" cy="180.00" r="2.5"/><circle cx="169.43" cy="181.26" r="2.5"/><circle cx="170.12" cy="181.02" r="2.5"/><circle cx="170.80" cy="181.34" r="2.5"/><circle cx="171.49" cy="181.64" r="2.5"/><circle cx="172.17" cy="182.35" r="2.5"/><circle cx="172.86" cy="182.51" r="2.5"/><circle cx="173.54" cy="184.85" r="2.5"/><circle cx="174.23" cy="182.66" r="2.5"/><circle cx="174.91" cy="182.29" r="2.5"/><circle cx="175.60" cy="183.70" r="2.5"/><circle cx="176.28" cy="183.85" r="2.5"/><circle cx="176.97" cy="183.17" r="2.5"/><circle cx="177.65" cy="183.91" r="2.5"/><circle cx="178.34" cy="183.23" r="2.5"/><circle cx="179.02" cy="183.21" r="2.5"/><circle cx="179.71" cy="182.69" r="2.5"/><circle cx="180.39" cy="182.48" r="2.5"/><circle cx="181.08" cy="181.37" r="2.5"/><circle cx="181.77" cy="179.78" r="2.5"/><circle cx="182.45" cy="178.94" r="2.5"/><circle cx="183.14" cy="178.52" r="2.5"/><circle cx="183.82" cy="176.63" r="2.5"/><circle cx="184.51" cy="175.37" r="2.5"/><circle cx="185.19" cy="172.32" r="2.5"/><circle cx="185.88" cy="168.91" r="2.5"/><circle cx="186.56" cy="167.20" r="2.5"/><circle cx="187.25" cy="164.93" r="2.5"/><circle cx="187.93" cy="163.28" r="2.5"/><circle cx="188.62" cy="163.98" r="2.5"/><circle cx="189.30" cy="161.47" r="2.5"/><circle cx="189.99" cy="161.46" r="2.5"/><circle cx="190.67" cy="160.47" r="2.5"/><circle cx="191.36" cy="159.02" r="2.5"/><circle cx="192.04" cy="157.20" r="2.5"/><circle cx="192.73" cy="157.28" r="2.5"/><circle cx="193.41" cy="156.88" r="2.5"/><circle cx="194.10" cy="154.62" r="2.5"/><circle cx="194.78" cy="154.26" r="2.5"/><circle cx="195.47" cy="154.07" r="2.5"/><circle cx="196.15" cy="153.36" r="2.5"/><circle cx="196.84" cy="153.29" r="2.5"/><circle cx="197.53" cy="152.36" r="2.5"/><circle cx="198.21" cy="152.53" r="2.5"/><circle cx="198.90" cy="151.91" r="2.5"/><circle cx="199.58" cy="152.19" r="2.5"/><circle cx="200.27" cy="152.73" r="2.5"/><circle cx="200.95" cy="152.72" r="2.5"/><circle cx="201.64" cy="153.47" r="2.5"/><circle cx="202.32" cy="153.50" r="2.5"/><circle cx="203.01" cy="153.89" r="2.5"/><circle cx="203.69" cy="154.54" r="2.5"/><circle cx="204.38" cy="154.86" r="2.5"/><circle cx="205.06" cy="155.60" r="2.5"/><circle cx="205.75" cy="156.59" r="2.5"/><circle cx="206.43" cy="156.90" r="2.5"/><circle cx="207.12" cy="156.49" r="2.5"/><circle cx="207.80" cy="156.84" r="2.5"/><circle cx="208.49" cy="156.84" r="2.5"/><circle cx="209.17" cy="157.59" r="2.5"/><circle cx="209.86" cy="158.15" r="2.5"/><circle cx="210.54" cy="157.87" r="2.5"/><circle cx="211.23" cy="158.42" r="2.5"/><circle cx="211.92" cy="158.99" r="2.5"/></g>
<g fill="#00ff00"><circle cx="55.00" cy="194.54" r="2.6"/><circle cx="55.69" cy="193.59" r="2.6"/><circle cx="56.37" cy="193.57" r="2.6"/><circle cx="57.06" cy="193.39" r="2.6"/><circle cx="57.74" cy="194.31" r="2.6"/><circle cx="58.43" cy="195.49" r="2.6"/><circle cx="59.11" cy="196.02" r="2.6"/><circle cx="59.80" cy="197.23" r="2.6"/><circle cx="60.48" cy="197.46" r="2.6"/><circle cx="61.17" cy="197.32" r="2.6"/><circle cx="61.85" cy="199.40" r="2.6"/><circle cx="62.54" cy="200.65" r="2.6"/><circle cx="63.22" cy="201.30" r="2.6"/><circle cx="63.91" cy="200.80" r="2.6"/><circle cx="64.59" cy="202.86" r="2.6"/><circle cx="65.28" cy="204.08" r="2.6"/><circle cx="65.96" cy="204.05" r="2.6"/><circle cx="66.65" cy="205.28" r="2.6"/><circle cx="67.33" cy="205.20" r="2.6"/><circle cx="68.02" cy="206.16" r="2.6"/><circle cx="68.70" cy="207.36" r="2.6"/><circle cx="69.39" cy="207.35" r="2.6"/><circle cx="70.07" cy="208.16" r="2.6"/><circle cx="70.76" cy="208.19" r="2.6"/><circle cx="71.45" cy="209.76" r="2.6"/><circle cx="72.13" cy="208.62" r="2.6"/><circle cx="72.82" cy="209.59" r="2.6"/><circle cx="73.50" cy="210.14" r="2.6"/><circle cx="74.19" cy="211.19" r="2.6"/><circle cx="74.87" cy="211.70" r="2.6"/><circle cx="75.56" cy="211.94" r="2.6"/><circle cx="76.24" cy="212.01" r="2.6"/><circle cx="76.93" cy="213.13" r="2.6"/><circle cx="77.61" cy="213.48" r="2.6"/><circle cx="78.30" cy="213.60" r="2.6"/><circle cx="78.98" cy="213.72" r="2.6"/><circle cx="79.67" cy="213.22" r="2.6"/><circle cx="80.35" cy="215.23" r="2.6"/><circle cx="81.04" cy="215.64" r="2.6"/><circle cx="81.72" cy="215.89" r="2.6"/><circle cx="82.41" cy="216.12" r="2.6"/><circle cx="83.09" cy="215.77" r="2.6"/><circle cx="83.78" cy="216.80" r="2.6"/><circle cx="84.46" cy="216.67" r="2.6"/><circle cx="85.15" cy="215.91" r="2.6"/><circle cx="85.83" cy="217.92" r="2.6"/><circle cx="86.52" cy="217.83" r="2.6"/><circle cx="87.21" cy="218.07" r="2.6"/><circle cx="87.89" cy="219.27" r="2.6"/><circle cx="88.58" cy="219.42" r="2.6"/><circle cx="89.26" cy="219.43" r="2.6"/><circle cx="89.95" cy="218.90" r="2.6"/><circle cx="90.63" cy="220.49" r="2.6"/><circle cx="91.32" cy="221.17" r="2.6"/><circle cx="92.00" cy="221.77" r="2.6"/><circle cx="92.69" cy="221.63" r="2.6"/><circle cx="93.37" cy="221.85" r="2.6"/><circle cx="94.06" cy="222.30" r="2.6"/><circle cx="94.74" cy="223.17" r="2.6"/><circle cx="95.43" cy="222.69" r="2.6"/><circle cx="96.11" cy="223.43" r="2.6"/><circle cx="96.80" cy="223.41" r="2.6"/><circle cx="97.48" cy="224.17" r="2.6"/><circle cx="98.17" cy="223.72" r="2.6"/><circle cx="98.85" cy="224.76" r="2.6"/><circle cx="99.54" cy="224.68" r="2.6"/><circle cx="100.22" cy="225.05" r="2.6"/><circle cx="100.91" cy="225.61" r="2.6"/><circle cx="101.59" cy="226.13" r="2.6"/><circle cx="102.28" cy="225.33" r="2.6"/><circle cx="102.97" cy="226.61" r="2.6"/><circle cx="103.65" cy="226.71" r="2.6"/><circle cx="104.34" cy="226.65" r="2.6"/><circle cx="105.02" cy="227.61" r="2.6"/><circle cx="105.71" cy="228.75" r="2.6"/><circle cx="106.39" cy="228.13" r="2.6"/><circle cx="107.08" cy="227.65" r="2.6"/><circle cx="107.76" cy="227.82" r="2.6"/><circle cx="108.45" cy="228.94" r="2.6"/><circle cx="109.13" cy="229.59" r="2.6"/><circle cx="109.82" cy="229.25" r="2.6"/><circle cx="110.50" cy="229.62" r="2.6"/><circle cx="111.19" cy="229.34" r="2.6"/><circle cx="111.87" cy="229.27" r="2.6"/><circle cx="112.56" cy="229.96" r="2.6"/><circle cx="113.24" cy="230.90" r="2.6"/><circle cx="113.93" cy="229.80" r="2.6"/><circle cx="114.61" cy="230.59" r="2.6"/><circle cx="115.30" cy="229.08" r="2.6"/><circle cx="115.98" cy="231.29" r="2.6"/><circle cx="116.67" cy="231.81" r="2.6"/><circle cx="117.35" cy="231.16" r="2.6"/><circle cx="118.04" cy="231.69" r="2.6"/><circle cx="118.73" cy="232.57" r="2.6"/><circle cx="119.41" cy="232.18" r="2.6"/><circle cx="120.10" cy="231.88" r="2.6"/><circle cx="120.78" cy="231.36" r="2.6"/><circle cx="121.47" cy="231.89" r="2.6"/><circle cx="122.15" cy="233.16" r="2.6"/><circle cx="122.84" cy="232.70" r="2.6"/><circle cx="123.52" cy="235.07" r="2.6"/><circle cx="124.21" cy="233.65" r="2.6"/><circle cx="124.89" cy="233.20" r="2.6"/><circle cx="125.58" cy="233.05" r="2.6"/><circle cx="126.26" cy="234.10" r="2.6"/><circle cx="126.95" cy="234.01" r="2.6"/><circle cx="127.63" cy="234.22" r="2.6"/><circle cx="128.32" cy="233.62" r="2.6"/><circle cx="129.00" cy="234.79" r="2.6"/><circle cx="129.69" cy="234.25" r="2.6"/><circle cx="130.37" cy="233.86" r="2.6"/><circle cx="131.06" cy="234.69" r="2.6"/><circle cx="131.74" cy="235.29" r="2.6"/><circle cx="132.43" cy="236.16" r="2.6"/><circle cx="133.11" cy="235.41" r="2.6"/><circle cx="133.80" cy="235.30" r="2.6"/><circle cx="134.49" cy="236.96" r="2.6"/><circle cx="135.17" cy="236.46" r="2.6"/><circle cx="135.86" cy="236.55" r="2.6"/><circle cx="136.54" cy="236.45" r="2.6"/><circle cx="137.23" cy="234.88" r="2.6"/><circle cx="137.91" cy="237.76" r="2.6"/><circle cx="138.60" cy="237.08" r="2.6"/><circle cx="139.28" cy="236.77" r="2.6"/><circle cx="139.97" cy="236.39" r="2.6"/><circle cx="140.65" cy="236.77" r="2.6"/><circle cx="141.34" cy="235.50" r="2.6"/><circle cx="142.02" cy="235.75" r="2.6"/><circle cx="142.71" cy="235.51" r="2.6"/><circle cx="143.39" cy="235.41" r="2.6"/><circle cx="144.08" cy="234.90" r="2.6"/><circle cx="144.76" cy="235.46" r="2.6"/><circle cx="145.45" cy="235.80" r="2.6"/><circle cx="146.13" cy="235.10" r="2.6"/><circle cx="146.82" cy="234.72" r="2.6"/><circle cx="147.50" cy="234.54" r="2.6"/><circle cx="148.19" cy="235.11" r="2.6"/><circle cx="148.87" cy="234.90" r="2.6"/><circle cx="149.56" cy="234.93" r="2.6"/><circle cx="150.25" cy="234.94" r="2.6"/><circle cx="150.93" cy="234.30" r="2.6"/><circle cx="151.62" cy="235.15" r="2.6"/><circle cx="152.30" cy="234.86" r="2.6"/><circle cx="152.99" cy="234.64" r="2.6"/><circle cx="153.67" cy="234.65" r="2.6"/><circle cx="154.36" cy="234.80" r="2.6"/><circle cx="155.04" cy="234.32" r="2.6"/><circle cx="155.73" cy="234.97" r="2.6"/><circle cx="156.41" cy="234.48" r="2.6"/><circle cx="157.10" cy="235.26" r="2.6"/><circle cx="157.78" cy="233.47" r="2.6"/><circle cx="158.47" cy="233.03" r="2.6"/><circle cx="159.15" cy="233.58" r="2.6"/><circle cx="159.84" cy="233.10" r="2.6"/><circle cx="160.52" cy="233.29" r="2.6"/><circle cx="161.21" cy="233.72" r="2.6"/><circle cx="161.89" cy="233.69" r="2.6"/><circle cx="162.58" cy="234.29" r="2.6"/><circle cx="163.26" cy="234.27" r="2.6"/><circle cx="163.95" cy="234.31" r="2.6"/><circle cx="164.63" cy="234.69" r="2.6"/><circle cx="165.32" cy="235.00" r="2.6"/><circle cx="166.01" cy="235.84" r="2.6"/><circle cx="166.69" cy="235.98" r="2.6"/><circle cx="167.38" cy="234.76" r="2.6"/><circle cx="168.06" cy="237.03" r="2.6"/><circle cx="168.75" cy="237.15" r="2.6"/><circle cx="169.43" cy="237.40" r="2.6"/><circle cx="170.12" cy="237.49" r="2.6"/><circle cx="170.80" cy="238.91" r="2.6"/><circle cx="171.49" cy="239.26" r="2.6"/><circle cx="172.17" cy="239.70" r="2.6"/><circle cx="172.86" cy="240.00" r="2.6"/><circle cx="173.54" cy="240.27" r="2.6"/><circle cx="174.23" cy="240.08" r="2.6"/><circle cx="174.91" cy="241.28" r="2.6"/><circle cx="175.60" cy="241.39" r="2.6"/><circle cx="176.28" cy="241.44" r="2.6"/><circle cx="176.97" cy="241.29" r="2.6"/><circle cx="177.65" cy="241.53" r="2.6"/><circle cx="178.34" cy="241.33" r="2.6"/><circle cx="179.02" cy="240.70" r="2.6"/><circle cx="179.71" cy="240.98" r="2.6"/><circle cx="180.39" cy="240.54" r="2.6"/><circle cx="181.08" cy="240.80" r="2.6"/><circle cx="181.77" cy="240.02" r="2.6"/><circle cx="182.45" cy="237.38" r="2.6"/><circle cx="183.14" cy="235.09" r="2.6"/><circle cx="183.82" cy="233.43" r="2.6"/><circle cx="184.51" cy="228.05" r="2.6"/><circle cx="185.19" cy="223.20" r="2.6"/><circle cx="185.88" cy="220.17" r="2.6"/><circle cx="186.56" cy="218.28" r="2.6"/><circle cx="187.25" cy="216.84" r="2.6"/><circle cx="187.93" cy="213.99" r="2.6"/><circle cx="188.62" cy="211.35" r="2.6"/><circle cx="189.30" cy="210.19" r="2.6"/><circle cx="189.99" cy="208.46" r="2.6"/><circle cx="190.67" cy="206.49" r="2.6"/><circle cx="191.36" cy="204.49" r="2.6"/><circle cx="192.04" cy="202.41" r="2.6"/><circle cx="192.73" cy="199.30" r="2.6"/><circle cx="193.41" cy="199.69" r="2.6"/><circle cx="194.10" cy="197.49" r="2.6"/><circle cx="194.78" cy="196.74" r="2.6"/><circle cx="195.47" cy="196.35" r="2.6"/><circle cx="196.15" cy="195.13" r="2.6"/><circle cx="196.84" cy="194.25" r="2.6"/><circle cx="197.53" cy="194.60" r="2.6"/><circle cx="198.21" cy="193.77" r="2.6"/><circle cx="198.90" cy="193.82" r="2.6"/><circle cx="199.58" cy="194.52" r="2.6"/><circle cx="200.27" cy="195.05" r="2.6"/><circle cx="200.95" cy="194.25" r="2.6"/><circle cx="201.64" cy="196.04" r="2.6"/><circle cx="202.32" cy="197.48" r="2.6"/><circle cx="203.01" cy="197.47" r="2.6"/><circle cx="203.69" cy="198.77" r="2.6"/><circle cx="204.38" cy="200.15" r="2.6"/><circle cx="205.06" cy="200.10" r="2.6"/><circle cx="205.75" cy="201.20" r="2.6"/><circle cx="206.43" cy="201.44" r="2.6"/><circle cx="207.12" cy="201.71" r="2.6"/><circle cx="207.80" cy="203.35" r="2.6"/><circle cx="208.49" cy="203.85" r="2.6"/><circle cx="209.17" cy="205.00" r="2.6"/><circle cx="209.86" cy="206.15" r="2.6"/><circle cx="210.54" cy="206.25" r="2.6"/><circle cx="211.23" cy="206.46" r="2.6"/><circle cx="211.92" cy="207.38" r="2.6"/></g>
<g fill="#0000ff"><circle cx="55.00" cy="230.33" r="2.6"/><circle cx="55.69" cy="229.03" r="2.6"/><circle cx="56.37" cy="229.32" r="2.6"/><circle cx="57.06" cy="230.21" r="2.6"/><circle cx="57.74" cy="229.92" r="2.6"/><circle cx="58.43" cy="231.49" r="2.6"/><circle cx="59.11" cy="231.35" r="2.6"/><circle cx="59.80" cy="233.48" r="2.6"/><circle cx="60.48" cy="235.34" r="2.6"/><circle cx="61.17" cy="236.79" r="2.6"/><circle cx="61.85" cy="238.26" r="2.6"/><circle cx="62.54" cy="238.33" r="2.6"/><circle cx="63.22" cy="240.20" r="2.6"/><circle cx="63.91" cy="240.77" r="2.6"/><circle cx="64.59" cy="242.01" r="2.6"/><circle cx="65.28" cy="242.87" r="2.6"/><circle cx="65.96" cy="243.39" r="2.6"/><circle cx="66.65" cy="245.30" r="2.6"/><circle cx="67.33" cy="244.23" r="2.6"/><circle cx="68.02" cy="245.20" r="2.6"/><circle cx="68.70" cy="245.26" r="2.6"/><circle cx="69.39" cy="247.20" r="2.6"/><circle cx="70.07" cy="248.50" r="2.6"/><circle cx="70.76" cy="248.20" r="2.6"/><circle cx="71.45" cy="249.56" r="2.6"/><circle cx="72.13" cy="249.92" r="2.6"/><circle cx="72.82" cy="252.34" r="2.6"/><circle cx="73.50" cy="252.52" r="2.6"/><circle cx="74.19" cy="252.68" r="2.6"/><circle cx="74.87" cy="253.99" r="2.6"/><circle cx="75.56" cy="254.48" r="2.6"/><circle cx="76.24" cy="254.29" r="2.6"/><circle cx="76.93" cy="253.84" r="2.6"/><circle cx="77.61" cy="256.70" r="2.6"/><circle cx="78.30" cy="256.28" r="2.6"/><circle cx="78.98" cy="256.54" r="2.6"/><circle cx="79.67" cy="257.81" r="2.6"/><circle cx="80.35" cy="258.11" r="2.6"/><circle cx="81.04" cy="258.13" r="2.6"/><circle cx="81.72" cy="258.94" r="2.6"/><circle cx="82.41" cy="259.64" r="2.6"/><circle cx="83.09" cy="258.46" r="2.6"/><circle cx="83.78" cy="260.89" r="2.6"/><circle cx="84.46" cy="259.97" r="2.6"/><circle cx="85.15" cy="261.45" r="2.6"/><circle cx="85.83" cy="262.33" r="2.6"/><circle cx="86.52" cy="262.72" r="2.6"/><circle cx="87.21" cy="263.53" r="2.6"/><circle cx="87.89" cy="263.49" r="2.6"/><circle cx="88.58" cy="264.05" r="2.6"/><circle cx="89.26" cy="264.11" r="2.6"/><circle cx="89.95" cy="264.37" r="2.6"/><circle cx="90.63" cy="264.99" r="2.6"/><circle cx="91.32" cy="266.12" r="2.6"/><circle cx="92.00" cy="266.16" r="2.6"/><circle cx="92.69" cy="267.13" r="2.6"/><circle cx="93.37" cy="267.76" r="2.6"/><circle cx="94.06" cy="267.28" r="2.6"/><circle cx="94.74" cy="268.31" r="2.6"/><circle cx="95.43" cy="268.15" r="2.6"/><circle cx="96.11" cy="269.87" r="2.6"/><circle cx="96.80" cy="269.58" r="2.6"/><circle cx="97.48" cy="269.57" r="2.6"/><circle cx="98.17" cy="270.76" r="2.6"/><circle cx="98.85" cy="271.60" r="2.6"/><circle cx="99.54" cy="272.11" r="2.6"/><circle cx="100.22" cy="272.47" r="2.6"/><circle cx="100.91" cy="272.09" r="2.6"/><circle cx="101.59" cy="272.78" r="2.6"/><circle cx="102.28" cy="273.93" r="2.6"/><circle cx="102.97" cy="273.42" r="2.6"/><circle cx="103.65" cy="274.01" r="2.6"/><circle cx="104.34" cy="274.20" r="2.6"/><circle cx="105.02" cy="274.80" r="2.6"/><circle cx="105.71" cy="275.92" r="2.6"/><circle cx="106.39" cy="276.15" r="2.6"/><circle cx="107.08" cy="276.46" r="2.6"/><circle cx="107.76" cy="276.63" r="2.6"/><circle cx="108.45" cy="277.51" r="2.6"/><circle cx="109.13" cy="278.11" r="2.6"/><circle cx="109.82" cy="276.94" r="2.6"/><circle cx="110.50" cy="278.15" r="2.6"/><circle cx="111.19" cy="278.27" r="2.6"/><circle cx="111.87" cy="279.49" r="2.6"/><circle cx="112.56" cy="279.22" r="2.6"/><circle cx="113.24" cy="279.18" r="2.6"/><circle cx="113.93" cy="280.03" r="2.6"/><circle cx="114.61" cy="280.49" r="2.6"/><circle cx="115.30" cy="281.15" r="2.6"/><circle cx="115.98" cy="281.54" r="2.6"/><circle cx="116.67" cy="281.16" r="2.6"/><circle cx="117.35" cy="281.80" r="2.6"/><circle cx="118.04" cy="283.61" r="2.6"/><circle cx="118.73" cy="281.85" r="2.6"/><circle cx="119.41" cy="282.57" r="2.6"/><circle cx="120.10" cy="283.07" r="2.6"/><circle cx="120.78" cy="283.16" r="2.6"/><circle cx="121.47" cy="282.75" r="2.6"/><circle cx="122.15" cy="282.28" r="2.6"/><circle cx="122.84" cy="284.41" r="2.6"/><circle cx="123.52" cy="283.72" r="2.6"/><circle cx="124.21" cy="284.66" r="2.6"/><circle cx="124.89" cy="284.84" r="2.6"/><circle cx="125.58" cy="284.68" r="2.6"/><circle cx="126.26" cy="284.63" r="2.6"/><circle cx="126.95" cy="285.33" r="2.6"/><circle cx="127.63" cy="285.11" r="2.6"/><circle cx="128.32" cy="285.60" r="2.6"/><circle cx="129.00" cy="285.93" r="2.6"/><circle cx="129.69" cy="285.80" r="2.6"/><circle cx="130.37" cy="286.21" r="2.6"/><circle cx="131.06" cy="286.38" r="2.6"/><circle cx="131.74" cy="286.57" r="2.6"/><circle cx="132.43" cy="286.85" r="2.6"/><circle cx="133.11" cy="286.89" r="2.6"/><circle cx="133.80" cy="286.65" r="2.6"/><circle cx="134.49" cy="287.47" r="2.6"/><circle cx="135.17" cy="287.71" r="2.6"/><circle cx="135.86" cy="287.77" r="2.6"/><circle cx="136.54" cy="287.36" r="2.6"/><circle cx="137.23" cy="288.62" r="2.6"/><circle cx="137.91" cy="288.65" r="2.6"/><circle cx="138.60" cy="288.65" r="2.6"/><circle cx="139.28" cy="288.30" r="2.6"/><circle cx="139.97" cy="287.24" r="2.6"/><circle cx="140.65" cy="287.55" r="2.6"/><circle cx="141.34" cy="287.33" r="2.6"/><circle cx="142.02" cy="287.89" r="2.6"/><circle cx="142.71" cy="286.15" r="2.6"/><circle cx="143.39" cy="286.50" r="2.6"/><circle cx="144.08" cy="285.51" r="2.6"/><circle cx="144.76" cy="285.57" r="2.6"/><circle cx="145.45" cy="285.75" r="2.6"/><circle cx="146.13" cy="288.45" r="2.6"/><circle cx="146.82" cy="286.06" r="2.6"/><circle cx="147.50" cy="285.90" r="2.6"/><circle cx="148.19" cy="284.99" r="2.6"/><circle cx="148.87" cy="286.12" r="2.6"/><circle cx="149.56" cy="285.24" r="2.6"/><circle cx="150.25" cy="286.18" r="2.6"/><circle cx="150.93" cy="286.20" r="2.6"/><circle cx="151.62" cy="285.69" r="2.6"/><circle cx="152.30" cy="285.64" r="2.6"/><circle cx="152.99" cy="284.60" r="2.6"/><circle cx="153.67" cy="285.97" r="2.6"/><circle cx="154.36" cy="284.83" r="2.6"/><circle cx="155.04" cy="284.94" r="2.6"/><circle cx="155.73" cy="283.99" r="2.6"/><circle cx="156.41" cy="284.10" r="2.6"/><circle cx="157.10" cy="283.45" r="2.6"/><circle cx="157.78" cy="283.64" r="2.6"/><circle cx="158.47" cy="283.59" r="2.6"/><circle cx="159.15" cy="283.52" r="2.6"/><circle cx="159.84" cy="283.86" r="2.6"/><circle cx="160.52" cy="283.42" r="2.6"/><circle cx="161.21" cy="283.30" r="2.6"/><circle cx="161.89" cy="283.27" r="2.6"/><circle cx="162.58" cy="284.65" r="2.6"/><circle cx="163.26" cy="280.72" r="2.6"/><circle cx="163.95" cy="284.58" r="2.6"/><circle cx="164.63" cy="283.75" r="2.6"/><circle cx="165.32" cy="284.64" r="2.6"/><circle cx="166.01" cy="286.10" r="2.6"/><circle cx="166.69" cy="285.85" r="2.6"/><circle cx="167.38" cy="287.53" r="2.6"/><circle cx="168.06" cy="287.73" r="2.6"/><circle cx="168.75" cy="286.50" r="2.6"/><circle cx="169.43" cy="287.13" r="2.6"/><circle cx="170.12" cy="287.97" r="2.6"/><circle cx="170.80" cy="289.20" r="2.6"/><circle cx="171.49" cy="289.43" r="2.6"/><circle cx="172.17" cy="289.57" r="2.6"/><circle cx="172.86" cy="289.29" r="2.6"/><circle cx="173.54" cy="289.90" r="2.6"/><circle cx="174.23" cy="289.48" r="2.6"/><circle cx="174.91" cy="290.18" r="2.6"/><circle cx="175.60" cy="291.12" r="2.6"/><circle cx="176.28" cy="291.32" r="2.6"/><circle cx="176.97" cy="290.42" r="2.6"/><circle cx="177.65" cy="290.78" r="2.6"/><circle cx="178.34" cy="291.04" r="2.6"/><circle cx="179.02" cy="289.94" r="2.6"/><circle cx="179.71" cy="289.03" r="2.6"/><circle cx="180.39" cy="288.46" r="2.6"/><circle cx="181.08" cy="286.99" r="2.6"/><circle cx="181.77" cy="284.46" r="2.6"/><circle cx="182.45" cy="281.25" r="2.6"/><circle cx="183.14" cy="278.03" r="2.6"/><circle cx="183.82" cy="274.57" r="2.6"/><circle cx="184.51" cy="269.71" r="2.6"/><circle cx="185.19" cy="266.27" r="2.6"/><circle cx="185.88" cy="262.03" r="2.6"/><circle cx="186.56" cy="258.34" r="2.6"/><circle cx="187.25" cy="254.60" r="2.6"/><circle cx="187.93" cy="252.43" r="2.6"/><circle cx="188.62" cy="249.74" r="2.6"/><circle cx="189.30" cy="246.87" r="2.6"/><circle cx="189.99" cy="244.30" r="2.6"/><circle cx="190.67" cy="243.05" r="2.6"/><circle cx="191.36" cy="239.75" r="2.6"/><circle cx="192.04" cy="237.82" r="2.6"/><circle cx="192.73" cy="235.98" r="2.6"/><circle cx="193.41" cy="234.80" r="2.6"/><circle cx="194.10" cy="233.39" r="2.6"/><circle cx="194.78" cy="232.38" r="2.6"/><circle cx="195.47" cy="230.95" r="2.6"/><circle cx="196.15" cy="229.83" r="2.6"/><circle cx="196.84" cy="230.40" r="2.6"/><circle cx="197.53" cy="230.44" r="2.6"/><circle cx="198.21" cy="229.71" r="2.6"/><circle cx="198.90" cy="232.53" r="2.6"/><circle cx="199.58" cy="230.02" r="2.6"/><circle cx="200.27" cy="231.04" r="2.6"/><circle cx="200.95" cy="228.90" r="2.6"/><circle cx="201.64" cy="232.04" r="2.6"/><circle cx="202.32" cy="233.69" r="2.6"/><circle cx="203.01" cy="235.19" r="2.6"/><circle cx="203.69" cy="235.83" r="2.6"/><circle cx="204.38" cy="238.02" r="2.6"/><circle cx="205.06" cy="238.37" r="2.6"/><circle cx="205.75" cy="240.37" r="2.6"/><circle cx="206.43" cy="240.57" r="2.6"/><circle cx="207.12" cy="241.25" r="2.6"/><circle cx="207.80" cy="242.90" r="2.6"/><circle cx="208.49" cy="242.88" r="2.6"/><circle cx="209.17" cy="243.68" r="2.6"/><circle cx="209.86" cy="244.89" r="2.6"/><circle cx="210.54" cy="245.93" r="2.6"/><circle cx="211.23" cy="246.40" r="2.6"/><circle cx="211.92" cy="246.81" r="2.6"/></g>
<circle cx="111.20" cy="282.60" r="1.7" fill="none" stroke="#0000ff" stroke-width="0.8"/>
<g><rect x="54.41" y="101.99" width="2.6" height="2.6" fill="none" stroke="#ffad1f" stroke-width="0.6"/><rect x="56.67" y="101.56" width="2.6" height="2.6" fill="none" stroke="#ffad1f" stroke-width="0.6"/><rect x="57.12" y="101.55" width="2.6" height="2.6" fill="none" stroke="#ffad1f" stroke-width="0.6"/><rect x="58.13" y="101.69" width="2.6" height="2.6" fill="none" stroke="#ffad1f" stroke-width="0.6"/><rect x="58.22" y="101.02" width="2.6" height="2.6" fill="none" stroke="#ffad1f" stroke-width="0.6"/><rect x="58.27" y="101.68" width="2.6" height="2.6" fill="none" stroke="#ffad1f" stroke-width="0.6"/><rect x="58.53" y="101.23" width="2.6" height="2.6" fill="none" stroke="#ffad1f" stroke-width="0.6"/><rect x="62.10" y="101.47" width="2.6" height="2.6" fill="none" stroke="#ffad1f" stroke-width="0.6"/><rect x="66.05" y="101.36" width="2.6" height="2.6" fill="none" stroke="#ffad1f" stroke-width="0.6"/><rect x="66.37" y="101.53" width="2.6" height="2.6" fill="none" stroke="#ffad1f" stroke-width="0.6"/><rect x="67.41" y="100.52" width="2.6" height="2.6" fill="none" stroke="#ffad1f" stroke-width="0.6"/><rect x="69.16" y="99.83" width="2.6" height="2.6" fill="none" stroke="#ffad1f" stroke-width="0.6"/><rect x="69.31" y="99.66" width="2.6" height="2.6" fill="none" stroke="#ffad1f" stroke-width="0.6"/><rect x="70.27" y="100.31" width="2.6" height="2.6" fill="none" stroke="#ffad1f" stroke-width="0.6"/><rect x="71.23" y="99.71" width="2.6" height="2.6" fill="none" stroke="#ffad1f" stroke-width="0.6"/><rect x="73.07" y="99.52" width="2.6" height="2.6" fill="none" stroke="#ffad1f" stroke-width="0.6"/><rect x="75.24" y="100.07" width="2.6" height="2.6" fill="none" stroke="#ffad1f" stroke-width="0.6"/><rect x="76.35" y="99.69" width="2.6" height="2.6" fill="none" stroke="#ffad1f" stroke-width="0.6"/><rect x="76.97" y="100.49" width="2.6" height="2.6" fill="none" stroke="#ffad1f" stroke-width="0.6"/><rect x="77.73" y="101.06" width="2.6" height="2.6" fill="none" stroke="#ffad1f" stroke-width="0.6"/><rect x="77.79" y="99.97" width="2.6" height="2.6" fill="none" stroke="#ffad1f" stroke-width="0.6"/><rect x="79.18" y="100.08" width="2.6" height="2.6" fill="none" stroke="#ffad1f" stroke-width="0.6"/><rect x="83.27" y="98.42" width="2.6" height="2.6" fill="none" stroke="#ffad1f" stroke-width="0.6"/><rect x="84.38" y="99.19" width="2.6" height="2.6" fill="none" stroke="#ffad1f" stroke-width="0.6"/><rect x="85.60" y="98.73" width="2.6" height="2.6" fill="none" stroke="#ffad1f" stroke-width="0.6"/><rect x="85.70" y="98.53" width="2.6" height="2.6" fill="none" stroke="#ffad1f" stroke-width="0.6"/><rect x="86.80" y="98.19" width="2.6" height="2.6" fill="none" stroke="#ffad1f" stroke-width="0.6"/><rect x="88.24" y="100.00" width="2.6" height="2.6" fill="none" stroke="#ffad1f" stroke-width="0.6"/><rect x="88.87" y="98.45" width="2.6" height="2.6" fill="none" stroke="#ffad1f" stroke-width="0.6"/><rect x="90.85" y="98.83" width="2.6" height="2.6" fill="none" stroke="#ffad1f" stroke-width="0.6"/><rect x="91.51" y="99.50" width="2.6" height="2.6" fill="none" stroke="#ffad1f" stroke-width="0.6"/><rect x="92.43" y="99.72" width="2.6" height="2.6" fill="none" stroke="#ffad1f" stroke-width="0.6"/><rect x="93.62" y="99.82" width="2.6" height="2.6" fill="none" stroke="#ffad1f" stroke-width="0.6"/><rect x="93.90" y="99.75" width="2.6" height="2.6" fill="none" stroke="#ffad1f" stroke-width="0.6"/><rect x="94.40" y="99.29" width="2.6" height="2.6" fill="none" stroke="#ffad1f" stroke-width="0.6"/><rect x="94.75" y="100.14" width="2.6" height="2.6" fill="none" stroke="#ffad1f" stroke-width="0.6"/><rect x="95.26" y="99.89" width="2.6" height="2.6" fill="none" stroke="#ffad1f" stroke-width="0.6"/><rect x="95.62" y="99.10" width="2.6" height="2.6" fill="none" stroke="#ffad1f" stroke-width="0.6"/><rect x="96.32" y="100.67" width="2.6" height="2.6" fill="none" stroke="#ffad1f" stroke-width="0.6"/><rect x="97.83" y="99.81" width="2.6" height="2.6" fill="none" stroke="#ffad1f" stroke-width="0.6"/><rect x="98.13" y="100.47" width="2.6" height="2.6" fill="none" stroke="#ffad1f" stroke-width="0.6"/><rect x="99.41" y="99.37" width="2.6" height="2.6" fill="none" stroke="#ffad1f" stroke-width="0.6"/><rect x="101.35" y="99.66" width="2.6" height="2.6" fill="none" stroke="#ffad1f" stroke-width="0.6"/><rect x="103.46" y="100.17" width="2.6" height="2.6" fill="none" stroke="#ffad1f" stroke-width="0.6"/><rect x="104.04" y="100.18" width="2.6" height="2.6" fill="none" stroke="#ffad1f" stroke-width="0.6"/><rect x="104.41" y="101.08" width="2.6" height="2.6" fill="none" stroke="#ffad1f" stroke-width="0.6"/><rect x="104.52" y="99.77" width="2.6" height="2.6" fill="none" stroke="#ffad1f" stroke-width="0.6"/><rect x="105.07" y="100.73" width="2.6" height="2.6" fill="none" stroke="#ffad1f" stroke-width="0.6"/><rect x="106.10" y="100.28" width="2.6" height="2.6" fill="none" stroke="#ffad1f" stroke-width="0.6"/><rect x="106.92" y="101.16" width="2.6" height="2.6" fill="none" stroke="#ffad1f" stroke-width="0.6"/><rect x="108.55" y="101.25" width="2.6" height="2.6" fill="none" stroke="#ffad1f" stroke-width="0.6"/><rect x="110.93" y="101.25" width="2.6" height="2.6" fill="none" stroke="#ffad1f" stroke-width="0.6"/><rect x="113.45" y="103.04" width="2.6" height="2.6" fill="none" stroke="#ffad1f" stroke-width="0.6"/><rect x="113.72" y="101.95" width="2.6" height="2.6" fill="none" stroke="#ffad1f" stroke-width="0.6"/><rect x="115.75" y="102.84" width="2.6" height="2.6" fill="none" stroke="#ffad1f" stroke-width="0.6"/><rect x="116.30" y="101.72" width="2.6" height="2.6" fill="none" stroke="#ffad1f" stroke-width="0.6"/><rect x="117.90" y="102.58" width="2.6" height="2.6" fill="none" stroke="#ffad1f" stroke-width="0.6"/><rect x="117.98" y="102.70" width="2.6" height="2.6" fill="none" stroke="#ffad1f" stroke-width="0.6"/><rect x="119.76" y="103.01" width="2.6" height="2.6" fill="none" stroke="#ffad1f" stroke-width="0.6"/><rect x="121.08" y="102.99" width="2.6" height="2.6" fill="none" stroke="#ffad1f" stroke-width="0.6"/><rect x="121.95" y="102.89" width="2.6" height="2.6" fill="none" stroke="#ffad1f" stroke-width="0.6"/><rect x="122.29" y="101.82" width="2.6" height="2.6" fill="none" stroke="#ffad1f" stroke-width="0.6"/><rect x="123.92" y="103.35" width="2.6" height="2.6" fill="none" stroke="#ffad1f" stroke-width="0.6"/><rect x="125.62" y="103.45" width="2.6" height="2.6" fill="none" stroke="#ffad1f" stroke-width="0.6"/><rect x="127.94" y="104.15" width="2.6" height="2.6" fill="none" stroke="#ffad1f" stroke-width="0.6"/><rect x="127.96" y="104.71" width="2.6" height="2.6" fill="none" stroke="#ffad1f" stroke-width="0.6"/><rect x="128.68" y="105.50" width="2.6" height="2.6" fill="none" stroke="#ffad1f" stroke-width="0.6"/><rect x="129.34" y="104.75" width="2.6" height="2.6" fill="none" stroke="#ffad1f" stroke-width="0.6"/><rect x="131.50" y="105.30" width="2.6" height="2.6" fill="none" stroke="#ffad1f" stroke-width="0.6"/><rect x="132.68" y="105.26" width="2.6" height="2.6" fill="none" stroke="#ffad1f" stroke-width="0.6"/><rect x="133.00" y="105.35" width="2.6" height="2.6" fill="none" stroke="#ffad1f" stroke-width="0.6"/><rect x="133.06" y="105.29" width="2.6" height="2.6" fill="none" stroke="#ffad1f" stroke-width="0.6"/><rect x="137.18" y="105.34" width="2.6" height="2.6" fill="none" stroke="#ffad1f" stroke-width="0.6"/><rect x="138.71" y="105.48" width="2.6" height="2.6" fill="none" stroke="#ffad1f" stroke-width="0.6"/><rect x="139.72" y="105.93" width="2.6" height="2.6" fill="none" stroke="#ffad1f" stroke-width="0.6"/><rect x="141.05" y="106.83" width="2.6" height="2.6" fill="none" stroke="#ffad1f" stroke-width="0.6"/><rect x="146.58" y="107.15" width="2.6" height="2.6" fill="none" stroke="#ffad1f" stroke-width="0.6"/><rect x="148.00" y="108.18" width="2.6" height="2.6" fill="none" stroke="#ffad1f" stroke-width="0.6"/><rect x="148.45" y="106.95" width="2.6" height="2.6" fill="none" stroke="#ffad1f" stroke-width="0.6"/><rect x="149.49" y="108.23" width="2.6" height="2.6" fill="none" stroke="#ffad1f" stroke-width="0.6"/><rect x="151.62" y="108.96" width="2.6" height="2.6" fill="none" stroke="#ffad1f" stroke-width="0.6"/><rect x="152.43" y="109.17" width="2.6" height="2.6" fill="none" stroke="#ffad1f" stroke-width="0.6"/><rect x="155.45" y="108.61" width="2.6" height="2.6" fill="none" stroke="#ffad1f" stroke-width="0.6"/><rect x="155.76" y="108.41" width="2.6" height="2.6" fill="none" stroke="#ffad1f" stroke-width="0.6"/><rect x="156.93" y="108.46" width="2.6" height="2.6" fill="none" stroke="#ffad1f" stroke-width="0.6"/><rect x="160.23" y="110.11" width="2.6" height="2.6" fill="none" stroke="#ffad1f" stroke-width="0.6"/><rect x="160.30" y="111.50" width="2.6" height="2.6" fill="none" stroke="#ffad1f" stroke-width="0.6"/><rect x="162.65" y="111.10" width="2.6" height="2.6" fill="none" stroke="#ffad1f" stroke-width="0.6"/><rect x="165.43" y="111.23" width="2.6" height="2.6" fill="none" stroke="#ffad1f" stroke-width="0.6"/><rect x="165.99" y="112.17" width="2.6" height="2.6" fill="none" stroke="#ffad1f" stroke-width="0.6"/><rect x="166.40" y="111.97" width="2.6" height="2.6" fill="none" stroke="#ffad1f" stroke-width="0.6"/><rect x="167.87" y="112.66" width="2.6" height="2.6" fill="none" stroke="#ffad1f" stroke-width="0.6"/><rect x="168.28" y="112.49" width="2.6" height="2.6" fill="none" stroke="#ffad1f" stroke-width="0.6"/><rect x="171.27" y="113.09" width="2.6" height="2.6" fill="none" stroke="#ffad1f" stroke-width="0.6"/><rect x="172.48" y="113.86" width="2.6" height="2.6" fill="none" stroke="#ffad1f" stroke-width="0.6"/><rect x="172.84" y="114.60" width="2.6" height="2.6" fill="none" stroke="#ffad1f" stroke-width="0.6"/><rect x="173.16" y="114.49" width="2.6" height="2.6" fill="none" stroke="#ffad1f" stroke-width="0.6"/><rect x="177.19" y="116.04" width="2.6" height="2.6" fill="none" stroke="#ffad1f" stroke-width="0.6"/><rect x="177.22" y="114.90" width="2.6" height="2.6" fill="none" stroke="#ffad1f" stroke-width="0.6"/><rect x="179.39" y="115.44" width="2.6" height="2.6" fill="none" stroke="#ffad1f" stroke-width="0.6"/><rect x="179.45" y="114.89" width="2.6" height="2.6" fill="none" stroke="#ffad1f" stroke-width="0.6"/><rect x="180.12" y="114.36" width="2.6" height="2.6" fill="none" stroke="#ffad1f" stroke-width="0.6"/><rect x="182.66" y="111.97" width="2.6" height="2.6" fill="none" stroke="#ffad1f" stroke-width="0.6"/><rect x="184.30" y="109.26" width="2.6" height="2.6" fill="none" stroke="#ffad1f" stroke-width="0.6"/><rect x="185.54" y="108.24" width="2.6" height="2.6" fill="none" stroke="#ffad1f" stroke-width="0.6"/><rect x="186.05" y="107.95" width="2.6" height="2.6" fill="none" stroke="#ffad1f" stroke-width="0.6"/><rect x="187.52" y="106.69" width="2.6" height="2.6" fill="none" stroke="#ffad1f" stroke-width="0.6"/><rect x="192.22" y="104.11" width="2.6" height="2.6" fill="none" stroke="#ffad1f" stroke-width="0.6"/><rect x="192.42" y="104.27" width="2.6" height="2.6" fill="none" stroke="#ffad1f" stroke-width="0.6"/><rect x="192.44" y="103.88" width="2.6" height="2.6" fill="none" stroke="#ffad1f" stroke-width="0.6"/><rect x="192.74" y="103.27" width="2.6" height="2.6" fill="none" stroke="#ffad1f" stroke-width="0.6"/><rect x="194.04" y="104.23" width="2.6" height="2.6" fill="none" stroke="#ffad1f" stroke-width="0.6"/><rect x="194.25" y="102.92" width="2.6" height="2.6" fill="none" stroke="#ffad1f" stroke-width="0.6"/><rect x="194.67" y="102.99" width="2.6" height="2.6" fill="none" stroke="#ffad1f" stroke-width="0.6"/><rect x="194.86" y="102.37" width="2.6" height="2.6" fill="none" stroke="#ffad1f" stroke-width="0.6"/><rect x="196.71" y="101.13" width="2.6" height="2.6" fill="none" stroke="#ffad1f" stroke-width="0.6"/><rect x="197.16" y="101.73" width="2.6" height="2.6" fill="none" stroke="#ffad1f" stroke-width="0.6"/><rect x="199.46" y="101.69" width="2.6" height="2.6" fill="none" stroke="#ffad1f" stroke-width="0.6"/><rect x="204.79" y="101.25" width="2.6" height="2.6" fill="none" stroke="#ffad1f" stroke-width="0.6"/><rect x="205.07" y="100.98" width="2.6" height="2.6" fill="none" stroke="#ffad1f" stroke-width="0.6"/></g>
<g><circle cx="55.98" cy="118.37" r="1.4" fill="none" stroke="#006400" stroke-width="0.65"/><circle cx="62.19" cy="118.11" r="1.4" fill="none" stroke="#006400" stroke-width="0.65"/><circle cx="66.09" cy="118.09" r="1.4" fill="none" stroke="#006400" stroke-width="0.65"/><circle cx="68.55" cy="117.70" r="1.4" fill="none" stroke="#006400" stroke-width="0.65"/><circle cx="69.26" cy="117.21" r="1.4" fill="none" stroke="#006400" stroke-width="0.65"/><circle cx="70.16" cy="118.14" r="1.4" fill="none" stroke="#006400" stroke-width="0.65"/><circle cx="73.52" cy="117.86" r="1.4" fill="none" stroke="#006400" stroke-width="0.65"/><circle cx="75.91" cy="117.50" r="1.4" fill="none" stroke="#006400" stroke-width="0.65"/><circle cx="77.65" cy="116.76" r="1.4" fill="none" stroke="#006400" stroke-width="0.65"/><circle cx="78.85" cy="117.22" r="1.4" fill="none" stroke="#006400" stroke-width="0.65"/><circle cx="80.15" cy="116.20" r="1.4" fill="none" stroke="#006400" stroke-width="0.65"/><circle cx="81.13" cy="116.90" r="1.4" fill="none" stroke="#006400" stroke-width="0.65"/><circle cx="82.09" cy="116.03" r="1.4" fill="none" stroke="#006400" stroke-width="0.65"/><circle cx="82.20" cy="116.85" r="1.4" fill="none" stroke="#006400" stroke-width="0.65"/><circle cx="82.75" cy="117.43" r="1.4" fill="none" stroke="#006400" stroke-width="0.65"/><circle cx="84.32" cy="117.02" r="1.4" fill="none" stroke="#006400" stroke-width="0.65"/><circle cx="84.61" cy="117.66" r="1.4" fill="none" stroke="#006400" stroke-width="0.65"/><circle cx="87.43" cy="117.02" r="1.4" fill="none" stroke="#006400" stroke-width="0.65"/><circle cx="89.71" cy="117.06" r="1.4" fill="none" stroke="#006400" stroke-width="0.65"/><circle cx="91.24" cy="116.90" r="1.4" fill="none" stroke="#006400" stroke-width="0.65"/><circle cx="91.48" cy="117.24" r="1.4" fill="none" stroke="#006400" stroke-width="0.65"/><circle cx="91.78" cy="117.01" r="1.4" fill="none" stroke="#006400" stroke-width="0.65"/><circle cx="95.65" cy="117.55" r="1.4" fill="none" stroke="#006400" stroke-width="0.65"/><circle cx="96.37" cy="117.73" r="1.4" fill="none" stroke="#006400" stroke-width="0.65"/><circle cx="96.64" cy="117.24" r="1.4" fill="none" stroke="#006400" stroke-width="0.65"/><circle cx="97.75" cy="116.67" r="1.4" fill="none" stroke="#006400" stroke-width="0.65"/><circle cx="100.36" cy="117.45" r="1.4" fill="none" stroke="#006400" stroke-width="0.65"/><circle cx="100.46" cy="117.77" r="1.4" fill="none" stroke="#006400" stroke-width="0.65"/><circle cx="100.51" cy="117.49" r="1.4" fill="none" stroke="#006400" stroke-width="0.65"/><circle cx="101.66" cy="117.41" r="1.4" fill="none" stroke="#006400" stroke-width="0.65"/><circle cx="104.59" cy="117.88" r="1.4" fill="none" stroke="#006400" stroke-width="0.65"/><circle cx="105.78" cy="118.14" r="1.4" fill="none" stroke="#006400" stroke-width="0.65"/><circle cx="107.57" cy="116.73" r="1.4" fill="none" stroke="#006400" stroke-width="0.65"/><circle cx="107.69" cy="118.39" r="1.4" fill="none" stroke="#006400" stroke-width="0.65"/><circle cx="107.93" cy="118.12" r="1.4" fill="none" stroke="#006400" stroke-width="0.65"/><circle cx="108.05" cy="118.01" r="1.4" fill="none" stroke="#006400" stroke-width="0.65"/><circle cx="108.64" cy="117.65" r="1.4" fill="none" stroke="#006400" stroke-width="0.65"/><circle cx="109.27" cy="118.03" r="1.4" fill="none" stroke="#006400" stroke-width="0.65"/><circle cx="109.79" cy="118.23" r="1.4" fill="none" stroke="#006400" stroke-width="0.65"/><circle cx="112.36" cy="117.66" r="1.4" fill="none" stroke="#006400" stroke-width="0.65"/><circle cx="112.81" cy="118.60" r="1.4" fill="none" stroke="#006400" stroke-width="0.65"/><circle cx="114.36" cy="118.51" r="1.4" fill="none" stroke="#006400" stroke-width="0.65"/><circle cx="116.53" cy="119.34" r="1.4" fill="none" stroke="#006400" stroke-width="0.65"/><circle cx="122.99" cy="119.97" r="1.4" fill="none" stroke="#006400" stroke-width="0.65"/><circle cx="124.21" cy="119.82" r="1.4" fill="none" stroke="#006400" stroke-width="0.65"/><circle cx="124.76" cy="120.00" r="1.4" fill="none" stroke="#006400" stroke-width="0.65"/><circle cx="126.30" cy="120.48" r="1.4" fill="none" stroke="#006400" stroke-width="0.65"/><circle cx="126.54" cy="120.32" r="1.4" fill="none" stroke="#006400" stroke-width="0.65"/><circle cx="129.73" cy="121.02" r="1.4" fill="none" stroke="#006400" stroke-width="0.65"/><circle cx="129.74" cy="120.51" r="1.4" fill="none" stroke="#006400" stroke-width="0.65"/><circle cx="130.27" cy="120.39" r="1.4" fill="none" stroke="#006400" stroke-width="0.65"/><circle cx="131.02" cy="120.80" r="1.4" fill="none" stroke="#006400" stroke-width="0.65"/><circle cx="131.42" cy="120.53" r="1.4" fill="none" stroke="#006400" stroke-width="0.65"/><circle cx="131.63" cy="120.83" r="1.4" fill="none" stroke="#006400" stroke-width="0.65"/><circle cx="131.97" cy="121.34" r="1.4" fill="none" stroke="#006400" stroke-width="0.65"/><circle cx="132.47" cy="120.64" r="1.4" fill="none" stroke="#006400" stroke-width="0.65"/><circle cx="133.23" cy="120.94" r="1.4" fill="none" stroke="#006400" stroke-width="0.65"/><circle cx="135.85" cy="122.22" r="1.4" fill="none" stroke="#006400" stroke-width="0.65"/><circle cx="135.92" cy="121.73" r="1.4" fill="none" stroke="#006400" stroke-width="0.65"/><circle cx="136.68" cy="122.08" r="1.4" fill="none" stroke="#006400" stroke-width="0.65"/><circle cx="138.27" cy="121.89" r="1.4" fill="none" stroke="#006400" stroke-width="0.65"/><circle cx="138.58" cy="122.03" r="1.4" fill="none" stroke="#006400" stroke-width="0.65"/><circle cx="140.41" cy="122.67" r="1.4" fill="none" stroke="#006400" stroke-width="0.65"/><circle cx="140.41" cy="123.44" r="1.4" fill="none" stroke="#006400" stroke-width="0.65"/><circle cx="141.79" cy="123.24" r="1.4" fill="none" stroke="#006400" stroke-width="0.65"/><circle cx="142.01" cy="122.43" r="1.4" fill="none" stroke="#006400" stroke-width="0.65"/><circle cx="142.42" cy="123.37" r="1.4" fill="none" stroke="#006400" stroke-width="0.65"/><circle cx="143.31" cy="123.74" r="1.4" fill="none" stroke="#006400" stroke-width="0.65"/><circle cx="143.65" cy="123.72" r="1.4" fill="none" stroke="#006400" stroke-width="0.65"/><circle cx="144.44" cy="123.12" r="1.4" fill="none" stroke="#006400" stroke-width="0.65"/><circle cx="144.69" cy="123.63" r="1.4" fill="none" stroke="#006400" stroke-width="0.65"/><circle cx="147.63" cy="125.02" r="1.4" fill="none" stroke="#006400" stroke-width="0.65"/><circle cx="161.53" cy="125.88" r="1.4" fill="none" stroke="#006400" stroke-width="0.65"/><circle cx="163.99" cy="127.00" r="1.4" fill="none" stroke="#006400" stroke-width="0.65"/><circle cx="165.37" cy="126.95" r="1.4" fill="none" stroke="#006400" stroke-width="0.65"/><circle cx="166.87" cy="127.17" r="1.4" fill="none" stroke="#006400" stroke-width="0.65"/><circle cx="166.92" cy="127.52" r="1.4" fill="none" stroke="#006400" stroke-width="0.65"/><circle cx="167.44" cy="128.27" r="1.4" fill="none" stroke="#006400" stroke-width="0.65"/><circle cx="171.74" cy="129.95" r="1.4" fill="none" stroke="#006400" stroke-width="0.65"/><circle cx="172.95" cy="129.59" r="1.4" fill="none" stroke="#006400" stroke-width="0.65"/><circle cx="175.03" cy="130.44" r="1.4" fill="none" stroke="#006400" stroke-width="0.65"/><circle cx="175.90" cy="130.55" r="1.4" fill="none" stroke="#006400" stroke-width="0.65"/><circle cx="176.88" cy="130.38" r="1.4" fill="none" stroke="#006400" stroke-width="0.65"/><circle cx="176.99" cy="131.49" r="1.4" fill="none" stroke="#006400" stroke-width="0.65"/><circle cx="177.37" cy="131.98" r="1.4" fill="none" stroke="#006400" stroke-width="0.65"/><circle cx="178.74" cy="132.28" r="1.4" fill="none" stroke="#006400" stroke-width="0.65"/><circle cx="182.02" cy="130.37" r="1.4" fill="none" stroke="#006400" stroke-width="0.65"/><circle cx="184.28" cy="128.41" r="1.4" fill="none" stroke="#006400" stroke-width="0.65"/><circle cx="184.78" cy="127.68" r="1.4" fill="none" stroke="#006400" stroke-width="0.65"/><circle cx="185.49" cy="126.19" r="1.4" fill="none" stroke="#006400" stroke-width="0.65"/><circle cx="185.78" cy="125.95" r="1.4" fill="none" stroke="#006400" stroke-width="0.65"/><circle cx="188.25" cy="123.19" r="1.4" fill="none" stroke="#006400" stroke-width="0.65"/><circle cx="188.89" cy="122.89" r="1.4" fill="none" stroke="#006400" stroke-width="0.65"/><circle cx="190.22" cy="122.51" r="1.4" fill="none" stroke="#006400" stroke-width="0.65"/><circle cx="190.75" cy="121.05" r="1.4" fill="none" stroke="#006400" stroke-width="0.65"/><circle cx="190.99" cy="120.78" r="1.4" fill="none" stroke="#006400" stroke-width="0.65"/><circle cx="192.30" cy="120.84" r="1.4" fill="none" stroke="#006400" stroke-width="0.65"/><circle cx="192.46" cy="120.43" r="1.4" fill="none" stroke="#006400" stroke-width="0.65"/><circle cx="193.77" cy="119.00" r="1.4" fill="none" stroke="#006400" stroke-width="0.65"/><circle cx="194.55" cy="119.00" r="1.4" fill="none" stroke="#006400" stroke-width="0.65"/><circle cx="196.31" cy="118.43" r="1.4" fill="none" stroke="#006400" stroke-width="0.65"/><circle cx="196.83" cy="118.37" r="1.4" fill="none" stroke="#006400" stroke-width="0.65"/><circle cx="196.87" cy="118.73" r="1.4" fill="none" stroke="#006400" stroke-width="0.65"/><circle cx="197.18" cy="118.93" r="1.4" fill="none" stroke="#006400" stroke-width="0.65"/><circle cx="199.57" cy="118.07" r="1.4" fill="none" stroke="#006400" stroke-width="0.65"/><circle cx="205.21" cy="117.76" r="1.4" fill="none" stroke="#006400" stroke-width="0.65"/><circle cx="205.31" cy="117.39" r="1.4" fill="none" stroke="#006400" stroke-width="0.65"/><circle cx="207.33" cy="117.96" r="1.4" fill="none" stroke="#006400" stroke-width="0.65"/><circle cx="208.39" cy="118.03" r="1.4" fill="none" stroke="#006400" stroke-width="0.65"/><circle cx="211.31" cy="117.25" r="1.4" fill="none" stroke="#006400" stroke-width="0.65"/></g>
<g><rect x="54.63" y="131.94" width="2.4" height="2.4" fill="none" stroke="#a020f0" stroke-width="0.6"/><rect x="58.31" y="132.67" width="2.4" height="2.4" fill="none" stroke="#a020f0" stroke-width="0.6"/><rect x="61.27" y="133.54" width="2.4" height="2.4" fill="none" stroke="#a020f0" stroke-width="0.6"/><rect x="62.55" y="133.04" width="2.4" height="2.4" fill="none" stroke="#a020f0" stroke-width="0.6"/><rect x="63.00" y="133.19" width="2.4" height="2.4" fill="none" stroke="#a020f0" stroke-width="0.6"/><rect x="66.38" y="134.04" width="2.4" height="2.4" fill="none" stroke="#a020f0" stroke-width="0.6"/><rect x="68.24" y="135.26" width="2.4" height="2.4" fill="none" stroke="#a020f0" stroke-width="0.6"/><rect x="68.77" y="134.96" width="2.4" height="2.4" fill="none" stroke="#a020f0" stroke-width="0.6"/><rect x="70.91" y="135.47" width="2.4" height="2.4" fill="none" stroke="#a020f0" stroke-width="0.6"/><rect x="72.37" y="135.11" width="2.4" height="2.4" fill="none" stroke="#a020f0" stroke-width="0.6"/><rect x="73.08" y="135.11" width="2.4" height="2.4" fill="none" stroke="#a020f0" stroke-width="0.6"/><rect x="77.08" y="137.14" width="2.4" height="2.4" fill="none" stroke="#a020f0" stroke-width="0.6"/><rect x="78.23" y="137.64" width="2.4" height="2.4" fill="none" stroke="#a020f0" stroke-width="0.6"/><rect x="83.43" y="137.86" width="2.4" height="2.4" fill="none" stroke="#a020f0" stroke-width="0.6"/><rect x="85.17" y="138.36" width="2.4" height="2.4" fill="none" stroke="#a020f0" stroke-width="0.6"/><rect x="86.16" y="137.40" width="2.4" height="2.4" fill="none" stroke="#a020f0" stroke-width="0.6"/><rect x="86.44" y="137.70" width="2.4" height="2.4" fill="none" stroke="#a020f0" stroke-width="0.6"/><rect x="87.32" y="138.03" width="2.4" height="2.4" fill="none" stroke="#a020f0" stroke-width="0.6"/><rect x="92.09" y="138.20" width="2.4" height="2.4" fill="none" stroke="#a020f0" stroke-width="0.6"/><rect x="92.19" y="139.22" width="2.4" height="2.4" fill="none" stroke="#a020f0" stroke-width="0.6"/><rect x="95.83" y="137.91" width="2.4" height="2.4" fill="none" stroke="#a020f0" stroke-width="0.6"/><rect x="99.71" y="138.76" width="2.4" height="2.4" fill="none" stroke="#a020f0" stroke-width="0.6"/><rect x="100.82" y="139.03" width="2.4" height="2.4" fill="none" stroke="#a020f0" stroke-width="0.6"/><rect x="102.87" y="139.12" width="2.4" height="2.4" fill="none" stroke="#a020f0" stroke-width="0.6"/><rect x="104.36" y="140.20" width="2.4" height="2.4" fill="none" stroke="#a020f0" stroke-width="0.6"/><rect x="105.26" y="138.77" width="2.4" height="2.4" fill="none" stroke="#a020f0" stroke-width="0.6"/><rect x="106.02" y="140.62" width="2.4" height="2.4" fill="none" stroke="#a020f0" stroke-width="0.6"/><rect x="107.38" y="140.71" width="2.4" height="2.4" fill="none" stroke="#a020f0" stroke-width="0.6"/><rect x="107.85" y="140.46" width="2.4" height="2.4" fill="none" stroke="#a020f0" stroke-width="0.6"/><rect x="108.32" y="141.13" width="2.4" height="2.4" fill="none" stroke="#a020f0" stroke-width="0.6"/><rect x="109.25" y="141.81" width="2.4" height="2.4" fill="none" stroke="#a020f0" stroke-width="0.6"/><rect x="111.29" y="140.97" width="2.4" height="2.4" fill="none" stroke="#a020f0" stroke-width="0.6"/><rect x="111.46" y="141.30" width="2.4" height="2.4" fill="none" stroke="#a020f0" stroke-width="0.6"/><rect x="113.50" y="141.47" width="2.4" height="2.4" fill="none" stroke="#a020f0" stroke-width="0.6"/><rect x="115.06" y="141.82" width="2.4" height="2.4" fill="none" stroke="#a020f0" stroke-width="0.6"/><rect x="115.33" y="141.30" width="2.4" height="2.4" fill="none" stroke="#a020f0" stroke-width="0.6"/><rect x="115.98" y="141.31" width="2.4" height="2.4" fill="none" stroke="#a020f0" stroke-width="0.6"/><rect x="116.73" y="142.18" width="2.4" height="2.4" fill="none" stroke="#a020f0" stroke-width="0.6"/><rect x="117.55" y="141.71" width="2.4" height="2.4" fill="none" stroke="#a020f0" stroke-width="0.6"/><rect x="122.76" y="143.60" width="2.4" height="2.4" fill="none" stroke="#a020f0" stroke-width="0.6"/><rect x="123.56" y="143.69" width="2.4" height="2.4" fill="none" stroke="#a020f0" stroke-width="0.6"/><rect x="123.68" y="143.03" width="2.4" height="2.4" fill="none" stroke="#a020f0" stroke-width="0.6"/><rect x="125.23" y="143.80" width="2.4" height="2.4" fill="none" stroke="#a020f0" stroke-width="0.6"/><rect x="125.71" y="143.74" width="2.4" height="2.4" fill="none" stroke="#a020f0" stroke-width="0.6"/><rect x="126.35" y="143.76" width="2.4" height="2.4" fill="none" stroke="#a020f0" stroke-width="0.6"/><rect x="126.90" y="144.56" width="2.4" height="2.4" fill="none" stroke="#a020f0" stroke-width="0.6"/><rect x="129.70" y="144.49" width="2.4" height="2.4" fill="none" stroke="#a020f0" stroke-width="0.6"/><rect x="131.64" y="144.91" width="2.4" height="2.4" fill="none" stroke="#a020f0" stroke-width="0.6"/><rect x="132.49" y="143.85" width="2.4" height="2.4" fill="none" stroke="#a020f0" stroke-width="0.6"/><rect x="132.58" y="145.26" width="2.4" height="2.4" fill="none" stroke="#a020f0" stroke-width="0.6"/><rect x="133.18" y="144.23" width="2.4" height="2.4" fill="none" stroke="#a020f0" stroke-width="0.6"/><rect x="136.18" y="145.24" width="2.4" height="2.4" fill="none" stroke="#a020f0" stroke-width="0.6"/><rect x="138.07" y="146.59" width="2.4" height="2.4" fill="none" stroke="#a020f0" stroke-width="0.6"/><rect x="138.16" y="146.70" width="2.4" height="2.4" fill="none" stroke="#a020f0" stroke-width="0.6"/><rect x="138.30" y="145.52" width="2.4" height="2.4" fill="none" stroke="#a020f0" stroke-width="0.6"/><rect x="139.66" y="145.22" width="2.4" height="2.4" fill="none" stroke="#a020f0" stroke-width="0.6"/><rect x="148.39" y="147.07" width="2.4" height="2.4" fill="none" stroke="#a020f0" stroke-width="0.6"/><rect x="149.22" y="146.68" width="2.4" height="2.4" fill="none" stroke="#a020f0" stroke-width="0.6"/><rect x="149.94" y="147.13" width="2.4" height="2.4" fill="none" stroke="#a020f0" stroke-width="0.6"/><rect x="151.01" y="146.27" width="2.4" height="2.4" fill="none" stroke="#a020f0" stroke-width="0.6"/><rect x="151.10" y="147.63" width="2.4" height="2.4" fill="none" stroke="#a020f0" stroke-width="0.6"/><rect x="151.45" y="147.88" width="2.4" height="2.4" fill="none" stroke="#a020f0" stroke-width="0.6"/><rect x="153.25" y="146.37" width="2.4" height="2.4" fill="none" stroke="#a020f0" stroke-width="0.6"/><rect x="153.43" y="146.76" width="2.4" height="2.4" fill="none" stroke="#a020f0" stroke-width="0.6"/><rect x="155.96" y="147.10" width="2.4" height="2.4" fill="none" stroke="#a020f0" stroke-width="0.6"/><rect x="155.99" y="147.89" width="2.4" height="2.4" fill="none" stroke="#a020f0" stroke-width="0.6"/><rect x="156.30" y="146.47" width="2.4" height="2.4" fill="none" stroke="#a020f0" stroke-width="0.6"/><rect x="159.40" y="148.64" width="2.4" height="2.4" fill="none" stroke="#a020f0" stroke-width="0.6"/><rect x="160.73" y="148.93" width="2.4" height="2.4" fill="none" stroke="#a020f0" stroke-width="0.6"/><rect x="161.80" y="149.30" width="2.4" height="2.4" fill="none" stroke="#a020f0" stroke-width="0.6"/><rect x="162.07" y="150.28" width="2.4" height="2.4" fill="none" stroke="#a020f0" stroke-width="0.6"/><rect x="162.48" y="149.00" width="2.4" height="2.4" fill="none" stroke="#a020f0" stroke-width="0.6"/><rect x="162.98" y="149.41" width="2.4" height="2.4" fill="none" stroke="#a020f0" stroke-width="0.6"/><rect x="167.94" y="149.71" width="2.4" height="2.4" fill="none" stroke="#a020f0" stroke-width="0.6"/><rect x="169.19" y="150.90" width="2.4" height="2.4" fill="none" stroke="#a020f0" stroke-width="0.6"/><rect x="172.22" y="151.79" width="2.4" height="2.4" fill="none" stroke="#a020f0" stroke-width="0.6"/><rect x="172.34" y="151.58" width="2.4" height="2.4" fill="none" stroke="#a020f0" stroke-width="0.6"/><rect x="172.47" y="152.36" width="2.4" height="2.4" fill="none" stroke="#a020f0" stroke-width="0.6"/><rect x="172.76" y="151.98" width="2.4" height="2.4" fill="none" stroke="#a020f0" stroke-width="0.6"/><rect x="173.32" y="152.14" width="2.4" height="2.4" fill="none" stroke="#a020f0" stroke-width="0.6"/><rect x="177.01" y="154.05" width="2.4" height="2.4" fill="none" stroke="#a020f0" stroke-width="0.6"/><rect x="178.70" y="153.97" width="2.4" height="2.4" fill="none" stroke="#a020f0" stroke-width="0.6"/><rect x="180.16" y="153.81" width="2.4" height="2.4" fill="none" stroke="#a020f0" stroke-width="0.6"/><rect x="181.91" y="148.99" width="2.4" height="2.4" fill="none" stroke="#a020f0" stroke-width="0.6"/><rect x="182.76" y="147.94" width="2.4" height="2.4" fill="none" stroke="#a020f0" stroke-width="0.6"/><rect x="187.01" y="139.42" width="2.4" height="2.4" fill="none" stroke="#a020f0" stroke-width="0.6"/><rect x="188.36" y="137.99" width="2.4" height="2.4" fill="none" stroke="#a020f0" stroke-width="0.6"/><rect x="188.80" y="138.58" width="2.4" height="2.4" fill="none" stroke="#a020f0" stroke-width="0.6"/><rect x="189.34" y="137.71" width="2.4" height="2.4" fill="none" stroke="#a020f0" stroke-width="0.6"/><rect x="194.08" y="133.86" width="2.4" height="2.4" fill="none" stroke="#a020f0" stroke-width="0.6"/><rect x="194.30" y="133.12" width="2.4" height="2.4" fill="none" stroke="#a020f0" stroke-width="0.6"/><rect x="194.59" y="132.77" width="2.4" height="2.4" fill="none" stroke="#a020f0" stroke-width="0.6"/><rect x="195.35" y="133.16" width="2.4" height="2.4" fill="none" stroke="#a020f0" stroke-width="0.6"/><rect x="195.59" y="132.79" width="2.4" height="2.4" fill="none" stroke="#a020f0" stroke-width="0.6"/><rect x="200.32" y="132.00" width="2.4" height="2.4" fill="none" stroke="#a020f0" stroke-width="0.6"/><rect x="201.90" y="132.88" width="2.4" height="2.4" fill="none" stroke="#a020f0" stroke-width="0.6"/><rect x="202.74" y="132.01" width="2.4" height="2.4" fill="none" stroke="#a020f0" stroke-width="0.6"/><rect x="205.02" y="132.80" width="2.4" height="2.4" fill="none" stroke="#a020f0" stroke-width="0.6"/><rect x="207.35" y="134.22" width="2.4" height="2.4" fill="none" stroke="#a020f0" stroke-width="0.6"/><rect x="208.16" y="133.99" width="2.4" height="2.4" fill="none" stroke="#a020f0" stroke-width="0.6"/></g>
<g><circle cx="55.00" cy="174.84" r="2.0" fill="none" stroke="#8b1a1a" stroke-width="0.95"/><circle cx="56.34" cy="173.84" r="2.0" fill="none" stroke="#8b1a1a" stroke-width="0.95"/><circle cx="57.67" cy="174.47" r="2.0" fill="none" stroke="#8b1a1a" stroke-width="0.95"/><circle cx="59.01" cy="174.90" r="2.0" fill="none" stroke="#8b1a1a" stroke-width="0.95"/><circle cx="60.35" cy="176.69" r="2.0" fill="none" stroke="#8b1a1a" stroke-width="0.95"/><circle cx="61.69" cy="177.66" r="2.0" fill="none" stroke="#8b1a1a" stroke-width="0.95"/><circle cx="63.02" cy="178.43" r="2.0" fill="none" stroke="#8b1a1a" stroke-width="0.95"/><circle cx="64.36" cy="179.54" r="2.0" fill="none" stroke="#8b1a1a" stroke-width="0.95"/><circle cx="65.70" cy="179.96" r="2.0" fill="none" stroke="#8b1a1a" stroke-width="0.95"/><circle cx="72.12" cy="184.42" r="2.0" fill="none" stroke="#8b1a1a" stroke-width="0.95"/><circle cx="82.10" cy="190.81" r="2.0" fill="none" stroke="#8b1a1a" stroke-width="0.95"/><circle cx="88.52" cy="193.00" r="2.0" fill="none" stroke="#8b1a1a" stroke-width="0.95"/><circle cx="95.66" cy="196.02" r="2.0" fill="none" stroke="#8b1a1a" stroke-width="0.95"/><circle cx="102.07" cy="198.07" r="2.0" fill="none" stroke="#8b1a1a" stroke-width="0.95"/><circle cx="113.49" cy="202.31" r="2.0" fill="none" stroke="#8b1a1a" stroke-width="0.95"/><circle cx="119.91" cy="203.78" r="2.0" fill="none" stroke="#8b1a1a" stroke-width="0.95"/><circle cx="126.33" cy="205.66" r="2.0" fill="none" stroke="#8b1a1a" stroke-width="0.95"/><circle cx="137.02" cy="208.29" r="2.0" fill="none" stroke="#8b1a1a" stroke-width="0.95"/><circle cx="139.16" cy="209.13" r="2.0" fill="none" stroke="#8b1a1a" stroke-width="0.95"/><circle cx="141.30" cy="208.36" r="2.0" fill="none" stroke="#8b1a1a" stroke-width="0.95"/><circle cx="143.44" cy="208.41" r="2.0" fill="none" stroke="#8b1a1a" stroke-width="0.95"/><circle cx="148.44" cy="208.29" r="2.0" fill="none" stroke="#8b1a1a" stroke-width="0.95"/><circle cx="150.29" cy="208.54" r="2.0" fill="none" stroke="#8b1a1a" stroke-width="0.95"/><circle cx="152.14" cy="208.33" r="2.0" fill="none" stroke="#8b1a1a" stroke-width="0.95"/><circle cx="154.00" cy="207.70" r="2.0" fill="none" stroke="#8b1a1a" stroke-width="0.95"/><circle cx="155.85" cy="207.96" r="2.0" fill="none" stroke="#8b1a1a" stroke-width="0.95"/><circle cx="157.71" cy="207.56" r="2.0" fill="none" stroke="#8b1a1a" stroke-width="0.95"/><circle cx="160.56" cy="207.61" r="2.0" fill="none" stroke="#8b1a1a" stroke-width="0.95"/><circle cx="162.70" cy="207.81" r="2.0" fill="none" stroke="#8b1a1a" stroke-width="0.95"/><circle cx="164.84" cy="208.01" r="2.0" fill="none" stroke="#8b1a1a" stroke-width="0.95"/><circle cx="166.98" cy="209.13" r="2.0" fill="none" stroke="#8b1a1a" stroke-width="0.95"/><circle cx="169.12" cy="209.98" r="2.0" fill="none" stroke="#8b1a1a" stroke-width="0.95"/><circle cx="171.97" cy="211.94" r="2.0" fill="none" stroke="#8b1a1a" stroke-width="0.95"/><circle cx="173.25" cy="212.61" r="2.0" fill="none" stroke="#8b1a1a" stroke-width="0.95"/><circle cx="174.53" cy="213.13" r="2.0" fill="none" stroke="#8b1a1a" stroke-width="0.95"/><circle cx="175.81" cy="213.64" r="2.0" fill="none" stroke="#8b1a1a" stroke-width="0.95"/><circle cx="177.09" cy="213.43" r="2.0" fill="none" stroke="#8b1a1a" stroke-width="0.95"/><circle cx="178.37" cy="213.38" r="2.0" fill="none" stroke="#8b1a1a" stroke-width="0.95"/><circle cx="179.65" cy="212.66" r="2.0" fill="none" stroke="#8b1a1a" stroke-width="0.95"/><circle cx="180.93" cy="211.77" r="2.0" fill="none" stroke="#8b1a1a" stroke-width="0.95"/><circle cx="182.20" cy="210.47" r="2.0" fill="none" stroke="#8b1a1a" stroke-width="0.95"/><circle cx="183.48" cy="207.47" r="2.0" fill="none" stroke="#8b1a1a" stroke-width="0.95"/><circle cx="184.76" cy="203.70" r="2.0" fill="none" stroke="#8b1a1a" stroke-width="0.95"/><circle cx="186.04" cy="198.29" r="2.0" fill="none" stroke="#8b1a1a" stroke-width="0.95"/><circle cx="187.32" cy="193.25" r="2.0" fill="none" stroke="#8b1a1a" stroke-width="0.95"/><circle cx="188.60" cy="189.47" r="2.0" fill="none" stroke="#8b1a1a" stroke-width="0.95"/><circle cx="189.88" cy="185.99" r="2.0" fill="none" stroke="#8b1a1a" stroke-width="0.95"/><circle cx="191.16" cy="182.40" r="2.0" fill="none" stroke="#8b1a1a" stroke-width="0.95"/><circle cx="192.44" cy="179.99" r="2.0" fill="none" stroke="#8b1a1a" stroke-width="0.95"/><circle cx="193.71" cy="178.57" r="2.0" fill="none" stroke="#8b1a1a" stroke-width="0.95"/><circle cx="194.99" cy="176.27" r="2.0" fill="none" stroke="#8b1a1a" stroke-width="0.95"/><circle cx="196.27" cy="174.14" r="2.0" fill="none" stroke="#8b1a1a" stroke-width="0.95"/><circle cx="197.55" cy="174.63" r="2.0" fill="none" stroke="#8b1a1a" stroke-width="0.95"/><circle cx="198.83" cy="174.21" r="2.0" fill="none" stroke="#8b1a1a" stroke-width="0.95"/><circle cx="200.11" cy="173.82" r="2.0" fill="none" stroke="#8b1a1a" stroke-width="0.95"/><circle cx="201.39" cy="175.59" r="2.0" fill="none" stroke="#8b1a1a" stroke-width="0.95"/><circle cx="202.67" cy="176.33" r="2.0" fill="none" stroke="#8b1a1a" stroke-width="0.95"/><circle cx="203.95" cy="177.37" r="2.0" fill="none" stroke="#8b1a1a" stroke-width="0.95"/><circle cx="205.23" cy="177.97" r="2.0" fill="none" stroke="#8b1a1a" stroke-width="0.95"/><circle cx="206.50" cy="178.94" r="2.0" fill="none" stroke="#8b1a1a" stroke-width="0.95"/><circle cx="207.78" cy="179.78" r="2.0" fill="none" stroke="#8b1a1a" stroke-width="0.95"/><circle cx="209.06" cy="180.44" r="2.0" fill="none" stroke="#8b1a1a" stroke-width="0.95"/></g>
<g><circle cx="55.00" cy="261.80" r="1.8" fill="none" stroke="#a020f0" stroke-width="1.1"/><circle cx="56.32" cy="261.84" r="1.8" fill="none" stroke="#a020f0" stroke-width="1.1"/><circle cx="57.65" cy="262.29" r="1.8" fill="none" stroke="#a020f0" stroke-width="1.1"/><circle cx="58.97" cy="263.56" r="1.8" fill="none" stroke="#a020f0" stroke-width="1.1"/><circle cx="60.30" cy="264.64" r="1.8" fill="none" stroke="#a020f0" stroke-width="1.1"/><circle cx="61.62" cy="267.25" r="1.8" fill="none" stroke="#a020f0" stroke-width="1.1"/><circle cx="62.95" cy="269.23" r="1.8" fill="none" stroke="#a020f0" stroke-width="1.1"/><circle cx="64.27" cy="271.03" r="1.8" fill="none" stroke="#a020f0" stroke-width="1.1"/><circle cx="71.40" cy="278.75" r="1.8" fill="none" stroke="#a020f0" stroke-width="1.1"/><circle cx="82.10" cy="287.29" r="1.8" fill="none" stroke="#a020f0" stroke-width="1.1"/><circle cx="88.52" cy="292.43" r="1.8" fill="none" stroke="#a020f0" stroke-width="1.1"/><circle cx="95.66" cy="296.47" r="1.8" fill="none" stroke="#a020f0" stroke-width="1.1"/><circle cx="102.07" cy="299.10" r="1.8" fill="none" stroke="#a020f0" stroke-width="1.1"/><circle cx="113.49" cy="305.79" r="1.8" fill="none" stroke="#a020f0" stroke-width="1.1"/><circle cx="119.91" cy="308.64" r="1.8" fill="none" stroke="#a020f0" stroke-width="1.1"/><circle cx="126.33" cy="311.74" r="1.8" fill="none" stroke="#a020f0" stroke-width="1.1"/><circle cx="137.02" cy="316.55" r="1.8" fill="none" stroke="#a020f0" stroke-width="1.1"/><circle cx="139.16" cy="316.67" r="1.8" fill="none" stroke="#a020f0" stroke-width="1.1"/><circle cx="141.30" cy="316.70" r="1.8" fill="none" stroke="#a020f0" stroke-width="1.1"/><circle cx="143.44" cy="315.39" r="1.8" fill="none" stroke="#a020f0" stroke-width="1.1"/><circle cx="148.44" cy="315.91" r="1.8" fill="none" stroke="#a020f0" stroke-width="1.1"/><circle cx="150.29" cy="315.83" r="1.8" fill="none" stroke="#a020f0" stroke-width="1.1"/><circle cx="152.14" cy="313.58" r="1.8" fill="none" stroke="#a020f0" stroke-width="1.1"/><circle cx="154.00" cy="314.09" r="1.8" fill="none" stroke="#a020f0" stroke-width="1.1"/><circle cx="155.85" cy="312.92" r="1.8" fill="none" stroke="#a020f0" stroke-width="1.1"/><circle cx="157.71" cy="312.66" r="1.8" fill="none" stroke="#a020f0" stroke-width="1.1"/><circle cx="160.56" cy="312.32" r="1.8" fill="none" stroke="#a020f0" stroke-width="1.1"/><circle cx="163.41" cy="312.43" r="1.8" fill="none" stroke="#a020f0" stroke-width="1.1"/><circle cx="166.27" cy="314.28" r="1.8" fill="none" stroke="#a020f0" stroke-width="1.1"/><circle cx="169.12" cy="315.41" r="1.8" fill="none" stroke="#a020f0" stroke-width="1.1"/><circle cx="171.97" cy="317.03" r="1.8" fill="none" stroke="#a020f0" stroke-width="1.1"/><circle cx="173.05" cy="317.84" r="1.8" fill="none" stroke="#a020f0" stroke-width="1.1"/><circle cx="174.13" cy="317.58" r="1.8" fill="none" stroke="#a020f0" stroke-width="1.1"/><circle cx="175.22" cy="318.88" r="1.8" fill="none" stroke="#a020f0" stroke-width="1.1"/><circle cx="176.30" cy="317.77" r="1.8" fill="none" stroke="#a020f0" stroke-width="1.1"/><circle cx="177.38" cy="318.26" r="1.8" fill="none" stroke="#a020f0" stroke-width="1.1"/><circle cx="178.46" cy="317.10" r="1.8" fill="none" stroke="#a020f0" stroke-width="1.1"/><circle cx="179.54" cy="315.87" r="1.8" fill="none" stroke="#a020f0" stroke-width="1.1"/><circle cx="180.62" cy="314.61" r="1.8" fill="none" stroke="#a020f0" stroke-width="1.1"/><circle cx="181.70" cy="311.00" r="1.8" fill="none" stroke="#a020f0" stroke-width="1.1"/><circle cx="182.78" cy="306.47" r="1.8" fill="none" stroke="#a020f0" stroke-width="1.1"/><circle cx="183.86" cy="300.61" r="1.8" fill="none" stroke="#a020f0" stroke-width="1.1"/><circle cx="184.94" cy="294.07" r="1.8" fill="none" stroke="#a020f0" stroke-width="1.1"/><circle cx="186.02" cy="288.43" r="1.8" fill="none" stroke="#a020f0" stroke-width="1.1"/><circle cx="187.10" cy="283.32" r="1.8" fill="none" stroke="#a020f0" stroke-width="1.1"/><circle cx="188.18" cy="280.64" r="1.8" fill="none" stroke="#a020f0" stroke-width="1.1"/><circle cx="189.26" cy="278.76" r="1.8" fill="none" stroke="#a020f0" stroke-width="1.1"/><circle cx="190.34" cy="275.01" r="1.8" fill="none" stroke="#a020f0" stroke-width="1.1"/><circle cx="191.43" cy="272.20" r="1.8" fill="none" stroke="#a020f0" stroke-width="1.1"/><circle cx="192.51" cy="269.21" r="1.8" fill="none" stroke="#a020f0" stroke-width="1.1"/><circle cx="193.59" cy="266.17" r="1.8" fill="none" stroke="#a020f0" stroke-width="1.1"/><circle cx="194.67" cy="263.66" r="1.8" fill="none" stroke="#a020f0" stroke-width="1.1"/><circle cx="195.75" cy="262.91" r="1.8" fill="none" stroke="#a020f0" stroke-width="1.1"/><circle cx="196.83" cy="262.42" r="1.8" fill="none" stroke="#a020f0" stroke-width="1.1"/><circle cx="197.91" cy="261.86" r="1.8" fill="none" stroke="#a020f0" stroke-width="1.1"/><circle cx="198.99" cy="261.07" r="1.8" fill="none" stroke="#a020f0" stroke-width="1.1"/><circle cx="200.07" cy="262.30" r="1.8" fill="none" stroke="#a020f0" stroke-width="1.1"/><circle cx="201.15" cy="263.19" r="1.8" fill="none" stroke="#a020f0" stroke-width="1.1"/><circle cx="202.23" cy="264.07" r="1.8" fill="none" stroke="#a020f0" stroke-width="1.1"/><circle cx="203.31" cy="265.14" r="1.8" fill="none" stroke="#a020f0" stroke-width="1.1"/><circle cx="204.39" cy="266.94" r="1.8" fill="none" stroke="#a020f0" stroke-width="1.1"/><circle cx="205.47" cy="269.77" r="1.8" fill="none" stroke="#a020f0" stroke-width="1.1"/><circle cx="206.55" cy="271.12" r="1.8" fill="none" stroke="#a020f0" stroke-width="1.1"/><circle cx="207.64" cy="271.92" r="1.8" fill="none" stroke="#a020f0" stroke-width="1.1"/></g>
<g><rect x="55.45" y="84.15" width="2.7" height="2.7" fill="none" stroke="#8a8a8a" stroke-width="0.7"/><rect x="59.15" y="82.55" width="2.7" height="2.7" fill="none" stroke="#8a8a8a" stroke-width="0.7"/><rect x="62.75" y="80.95" width="2.7" height="2.7" fill="none" stroke="#8a8a8a" stroke-width="0.7"/><rect x="65.15" y="79.65" width="2.7" height="2.7" fill="none" stroke="#8a8a8a" stroke-width="0.7"/><rect x="67.25" y="82.55" width="2.7" height="2.7" fill="none" stroke="#8a8a8a" stroke-width="0.7"/><rect x="81.15" y="78.85" width="2.7" height="2.7" fill="none" stroke="#8a8a8a" stroke-width="0.7"/><rect x="83.85" y="76.15" width="2.7" height="2.7" fill="none" stroke="#8a8a8a" stroke-width="0.7"/><rect x="92.85" y="79.65" width="2.7" height="2.7" fill="none" stroke="#8a8a8a" stroke-width="0.7"/><rect x="116.25" y="82.55" width="2.7" height="2.7" fill="none" stroke="#8a8a8a" stroke-width="0.7"/><rect x="125.15" y="81.65" width="2.7" height="2.7" fill="none" stroke="#8a8a8a" stroke-width="0.7"/><rect x="127.55" y="82.55" width="2.7" height="2.7" fill="none" stroke="#8a8a8a" stroke-width="0.7"/><rect x="129.95" y="82.95" width="2.7" height="2.7" fill="none" stroke="#8a8a8a" stroke-width="0.7"/><rect x="132.35" y="83.25" width="2.7" height="2.7" fill="none" stroke="#8a8a8a" stroke-width="0.7"/><rect x="133.15" y="79.65" width="2.7" height="2.7" fill="none" stroke="#8a8a8a" stroke-width="0.7"/><rect x="141.15" y="83.75" width="2.7" height="2.7" fill="none" stroke="#8a8a8a" stroke-width="0.7"/><rect x="157.25" y="87.65" width="2.7" height="2.7" fill="none" stroke="#8a8a8a" stroke-width="0.7"/><rect x="160.25" y="88.55" width="2.7" height="2.7" fill="none" stroke="#8a8a8a" stroke-width="0.7"/><rect x="162.65" y="89.35" width="2.7" height="2.7" fill="none" stroke="#8a8a8a" stroke-width="0.7"/><rect x="169.05" y="90.95" width="2.7" height="2.7" fill="none" stroke="#8a8a8a" stroke-width="0.7"/><rect x="176.65" y="89.35" width="2.7" height="2.7" fill="none" stroke="#8a8a8a" stroke-width="0.7"/><rect x="177.05" y="92.55" width="2.7" height="2.7" fill="none" stroke="#8a8a8a" stroke-width="0.7"/><rect x="190.75" y="72.45" width="2.7" height="2.7" fill="none" stroke="#8a8a8a" stroke-width="0.7"/><rect x="193.15" y="84.55" width="2.7" height="2.7" fill="none" stroke="#8a8a8a" stroke-width="0.7"/><rect x="197.95" y="83.75" width="2.7" height="2.7" fill="none" stroke="#8a8a8a" stroke-width="0.7"/><rect x="201.95" y="82.05" width="2.7" height="2.7" fill="none" stroke="#8a8a8a" stroke-width="0.7"/><rect x="204.35" y="80.95" width="2.7" height="2.7" fill="none" stroke="#8a8a8a" stroke-width="0.7"/><rect x="206.75" y="80.15" width="2.7" height="2.7" fill="none" stroke="#8a8a8a" stroke-width="0.7"/><rect x="209.65" y="82.45" width="2.7" height="2.7" fill="none" stroke="#8a8a8a" stroke-width="0.7"/></g>
<g fill="#000"><circle cx="56.10" cy="81.09" r="0.8"/><circle cx="60.04" cy="80.38" r="0.8"/><circle cx="67.84" cy="79.43" r="0.8"/><circle cx="73.12" cy="79.01" r="0.8"/><circle cx="80.21" cy="78.57" r="0.8"/><circle cx="85.87" cy="78.29" r="0.8"/><circle cx="92.61" cy="77.99" r="0.8"/><circle cx="97.37" cy="77.90" r="0.8"/><circle cx="105.25" cy="78.08" r="0.8"/><circle cx="110.21" cy="78.37" r="0.8"/><circle cx="117.32" cy="79.03" r="0.8"/><circle cx="122.31" cy="79.74" r="0.8"/><circle cx="128.12" cy="80.73" r="0.8"/><circle cx="134.75" cy="82.21" r="0.8"/><circle cx="141.67" cy="83.86" r="0.8"/><circle cx="148.40" cy="85.40" r="0.8"/><circle cx="153.59" cy="86.19" r="0.8"/><circle cx="159.38" cy="87.38" r="0.8"/><circle cx="166.91" cy="89.67" r="0.8"/><circle cx="172.64" cy="91.61" r="0.8"/><circle cx="178.14" cy="92.44" r="0.8"/><circle cx="184.76" cy="89.17" r="0.8"/><circle cx="190.01" cy="85.73" r="0.8"/><circle cx="196.73" cy="81.75" r="0.8"/><circle cx="202.67" cy="80.39" r="0.8"/><circle cx="208.48" cy="79.63" r="0.8"/></g>
<g fill="#000"><rect x="52.66" y="90.76" width="2.8" height="2.8"/><rect x="56.93" y="89.88" width="2.8" height="2.8"/><rect x="62.18" y="89.09" width="2.8" height="2.8"/><rect x="66.04" y="89.07" width="2.8" height="2.8"/><rect x="69.26" y="88.98" width="2.8" height="2.8"/><rect x="74.22" y="88.43" width="2.8" height="2.8"/><rect x="76.52" y="88.62" width="2.8" height="2.8"/><rect x="81.79" y="87.98" width="2.8" height="2.8"/><rect x="85.80" y="88.09" width="2.8" height="2.8"/><rect x="88.16" y="87.87" width="2.8" height="2.8"/><rect x="93.94" y="87.96" width="2.8" height="2.8"/><rect x="97.68" y="87.94" width="2.8" height="2.8"/><rect x="100.92" y="88.27" width="2.8" height="2.8"/><rect x="104.94" y="89.29" width="2.8" height="2.8"/><rect x="109.10" y="88.42" width="2.8" height="2.8"/><rect x="112.81" y="89.07" width="2.8" height="2.8"/><rect x="115.79" y="89.68" width="2.8" height="2.8"/><rect x="120.60" y="90.27" width="2.8" height="2.8"/><rect x="125.54" y="91.33" width="2.8" height="2.8"/><rect x="128.73" y="91.16" width="2.8" height="2.8"/><rect x="132.02" y="92.06" width="2.8" height="2.8"/><rect x="137.49" y="92.39" width="2.8" height="2.8"/><rect x="140.34" y="93.12" width="2.8" height="2.8"/><rect x="143.74" y="93.27" width="2.8" height="2.8"/><rect x="148.63" y="94.01" width="2.8" height="2.8"/><rect x="151.61" y="94.39" width="2.8" height="2.8"/><rect x="156.59" y="95.31" width="2.8" height="2.8"/><rect x="160.66" y="96.83" width="2.8" height="2.8"/><rect x="163.51" y="98.32" width="2.8" height="2.8"/><rect x="167.74" y="99.69" width="2.8" height="2.8"/><rect x="172.31" y="101.61" width="2.8" height="2.8"/><rect x="175.42" y="101.89" width="2.8" height="2.8"/><rect x="180.74" y="100.65" width="2.8" height="2.8"/><rect x="184.49" y="97.69" width="2.8" height="2.8"/><rect x="187.17" y="94.95" width="2.8" height="2.8"/><rect x="192.06" y="92.66" width="2.8" height="2.8"/><rect x="195.98" y="91.56" width="2.8" height="2.8"/><rect x="199.47" y="89.99" width="2.8" height="2.8"/><rect x="204.07" y="89.66" width="2.8" height="2.8"/><rect x="207.50" y="89.10" width="2.8" height="2.8"/></g>
<g><rect x="64.10" y="92.30" width="3.2" height="3.2" fill="none" stroke="#000" stroke-width="0.8"/><rect x="94.20" y="94.20" width="3.2" height="3.2" fill="none" stroke="#000" stroke-width="0.8"/><rect x="98.40" y="89.10" width="3.2" height="3.2" fill="none" stroke="#000" stroke-width="0.8"/><rect x="116.00" y="88.70" width="3.2" height="3.2" fill="none" stroke="#000" stroke-width="0.8"/><rect x="127.30" y="93.10" width="3.2" height="3.2" fill="none" stroke="#000" stroke-width="0.8"/><rect x="129.70" y="90.70" width="3.2" height="3.2" fill="none" stroke="#000" stroke-width="0.8"/><rect x="132.10" y="89.90" width="3.2" height="3.2" fill="none" stroke="#000" stroke-width="0.8"/><rect x="132.60" y="94.70" width="3.2" height="3.2" fill="none" stroke="#000" stroke-width="0.8"/><rect x="140.90" y="95.50" width="3.2" height="3.2" fill="none" stroke="#000" stroke-width="0.8"/><rect x="157.00" y="97.40" width="3.2" height="3.2" fill="none" stroke="#000" stroke-width="0.8"/><rect x="160.30" y="104.30" width="3.2" height="3.2" fill="none" stroke="#000" stroke-width="0.8"/><rect x="164.80" y="98.70" width="3.2" height="3.2" fill="none" stroke="#000" stroke-width="0.8"/><rect x="168.80" y="101.90" width="3.2" height="3.2" fill="none" stroke="#000" stroke-width="0.8"/><rect x="173.60" y="103.50" width="3.2" height="3.2" fill="none" stroke="#000" stroke-width="0.8"/><rect x="191.30" y="93.10" width="3.2" height="3.2" fill="none" stroke="#000" stroke-width="0.8"/><rect x="196.90" y="90.70" width="3.2" height="3.2" fill="none" stroke="#000" stroke-width="0.8"/><rect x="202.50" y="89.90" width="3.2" height="3.2" fill="none" stroke="#000" stroke-width="0.8"/><rect x="207.30" y="89.10" width="3.2" height="3.2" fill="none" stroke="#000" stroke-width="0.8"/><rect x="209.70" y="90.70" width="3.2" height="3.2" fill="none" stroke="#000" stroke-width="0.8"/></g>
<path d="M55.00,81.40 L55.70,81.20 L56.40,81.02 L57.09,80.87 L57.79,80.73 L58.49,80.61 L59.19,80.50 L59.89,80.41 L60.59,80.31 L61.28,80.22 L61.98,80.12 L62.68,80.02 L63.38,79.93 L64.08,79.84 L64.78,79.75 L65.47,79.67 L66.17,79.59 L66.87,79.52 L67.57,79.45 L68.27,79.39 L68.97,79.32 L69.66,79.27 L70.36,79.21 L71.06,79.16 L71.76,79.11 L72.46,79.05 L73.16,79.00 L73.85,78.96 L74.55,78.91 L75.25,78.86 L75.95,78.82 L76.65,78.77 L77.35,78.73 L78.04,78.69 L78.74,78.65 L79.44,78.61 L80.14,78.57 L80.84,78.53 L81.53,78.50 L82.23,78.46 L82.93,78.43 L83.63,78.40 L84.33,78.36 L85.03,78.33 L85.72,78.29 L86.42,78.26 L87.12,78.23 L87.82,78.19 L88.52,78.16 L89.22,78.13 L89.91,78.10 L90.61,78.07 L91.31,78.04 L92.01,78.01 L92.71,77.99 L93.41,77.97 L94.10,77.95 L94.80,77.93 L95.50,77.92 L96.20,77.91 L96.90,77.90 L97.60,77.90 L98.29,77.90 L98.99,77.90 L99.69,77.91 L100.39,77.92 L101.09,77.94 L101.79,77.95 L102.48,77.97 L103.18,78.00 L103.88,78.02 L104.58,78.05 L105.28,78.08 L105.97,78.11 L106.67,78.15 L107.37,78.19 L108.07,78.23 L108.77,78.27 L109.47,78.32 L110.16,78.36 L110.86,78.41 L111.56,78.46 L112.26,78.52 L112.96,78.57 L113.66,78.63 L114.35,78.70 L115.05,78.77 L115.75,78.85 L116.45,78.93 L117.15,79.01 L117.85,79.10 L118.54,79.19 L119.24,79.28 L119.94,79.38 L120.64,79.48 L121.34,79.59 L122.04,79.69 L122.73,79.80 L123.43,79.91 L124.13,80.03 L124.83,80.14 L125.53,80.26 L126.23,80.38 L126.92,80.51 L127.62,80.64 L128.32,80.77 L129.02,80.91 L129.72,81.06 L130.41,81.21 L131.11,81.36 L131.81,81.52 L132.51,81.68 L133.21,81.84 L133.91,82.00 L134.60,82.17 L135.30,82.34 L136.00,82.51 L136.70,82.67 L137.40,82.84 L138.10,83.01 L138.79,83.18 L139.49,83.34 L140.19,83.51 L140.89,83.67 L141.59,83.84 L142.29,84.01 L142.98,84.19 L143.68,84.36 L144.38,84.54 L145.08,84.71 L145.78,84.87 L146.48,85.03 L147.17,85.18 L147.87,85.31 L148.57,85.43 L149.27,85.55 L149.97,85.66 L150.67,85.76 L151.36,85.86 L152.06,85.96 L152.76,86.06 L153.46,86.17 L154.16,86.27 L154.86,86.39 L155.55,86.51 L156.25,86.65 L156.95,86.79 L157.65,86.95 L158.35,87.12 L159.04,87.30 L159.74,87.48 L160.44,87.68 L161.14,87.88 L161.84,88.09 L162.54,88.30 L163.23,88.52 L163.93,88.73 L164.63,88.95 L165.33,89.17 L166.03,89.39 L166.73,89.61 L167.42,89.84 L168.12,90.07 L168.82,90.32 L169.52,90.58 L170.22,90.83 L170.92,91.07 L171.61,91.30 L172.31,91.52 L173.01,91.71 L173.71,91.90 L174.41,92.08 L175.11,92.25 L175.80,92.38 L176.50,92.47 L177.20,92.50 L177.90,92.47 L178.60,92.38 L179.30,92.25 L179.99,92.08 L180.69,91.85 L181.39,91.58 L182.09,91.19 L182.79,90.72 L183.48,90.19 L184.18,89.63 L184.88,89.07 L185.58,88.56 L186.28,88.09 L186.98,87.64 L187.67,87.19 L188.37,86.75 L189.07,86.31 L189.77,85.88 L190.47,85.45 L191.17,85.03 L191.86,84.62 L192.56,84.20 L193.26,83.77 L193.96,83.32 L194.66,82.89 L195.36,82.47 L196.05,82.08 L196.75,81.74 L197.45,81.47 L198.15,81.25 L198.85,81.07 L199.55,80.91 L200.24,80.77 L200.94,80.64 L201.64,80.53 L202.34,80.43 L203.04,80.34 L203.74,80.24 L204.43,80.15 L205.13,80.05 L205.83,79.95 L206.53,79.86 L207.23,79.78 L207.92,79.69 L208.62,79.61 L209.32,79.54 L210.02,79.47 L210.72,79.40 L211.42,79.34 L212.11,79.28 L212.81,79.23 L213.51,79.17 L214.21,79.12 L214.91,79.07 L215.61,79.02 L216.30,78.97 L217.00,78.92 L217.70,78.88 L218.40,78.83 L219.10,78.79 L219.80,78.74 L220.49,78.70 L221.19,78.66 L221.89,78.62 L222.59,78.58 L223.29,78.54 L223.99,78.51 L224.68,78.47 L225.38,78.44 L226.08,78.40 L226.78,78.37 L227.48,78.34 L228.18,78.30 L228.87,78.27 L229.57,78.24 L230.27,78.20 L230.97,78.17 L231.67,78.14 L232.36,78.11 L233.06,78.08 L233.76,78.05 L234.46,78.02 L235.16,78.00 L235.86,77.97 L236.55,77.95 L237.25,77.94 L237.95,77.92 L238.65,77.91 L239.35,77.90 L240.05,77.90 L240.74,77.90 L241.44,77.90 L242.14,77.91 L242.84,77.92 L243.54,77.93 L244.24,77.95 L244.93,77.97 L245.63,77.99 L246.33,78.01 L247.03,78.04 L247.73,78.07 L248.43,78.10 L249.12,78.14 L249.82,78.18 L250.52,78.22 L251.22,78.26 L251.92,78.30 L252.62,78.35 L253.31,78.40 L254.01,78.45 L254.71,78.50 L255.41,78.56 L256.11,78.62 L256.80,78.68 L257.50,78.75 L258.20,78.83 L258.90,78.90 L259.60,78.99 L260.30,79.07 L260.99,79.16 L261.69,79.26 L262.39,79.35 L263.09,79.45 L263.79,79.56 L264.49,79.66 L265.18,79.77 L265.88,79.88 L266.58,80.00 L267.28,80.11 L267.98,80.23 L268.68,80.35 L269.37,80.47 L270.07,80.60 L270.77,80.73 L271.47,80.87 L272.17,81.01 L272.87,81.16 L273.56,81.31 L274.26,81.47 L274.96,81.63 L275.66,81.79 L276.36,81.96 L277.06,82.12 L277.75,82.29 L278.45,82.46 L279.15,82.63 L279.85,82.80 L280.55,82.96 L281.24,83.13 L281.94,83.30 L282.64,83.46 L283.34,83.62 L284.04,83.79 L284.74,83.96 L285.43,84.14 L286.13,84.31 L286.83,84.49 L287.53,84.66 L288.23,84.83 L288.93,84.99 L289.62,85.14 L290.32,85.27 L291.02,85.40 L291.72,85.52 L292.42,85.63 L293.12,85.73 L293.81,85.83 L294.51,85.93 L295.21,86.03 L295.91,86.14 L296.61,86.24 L297.31,86.36 L298.00,86.48 L298.70,86.61 L299.40,86.75 L300.10,86.90 L300.80,87.07 L301.50,87.24 L302.19,87.43 L302.89,87.62 L303.59,87.82 L304.29,88.03 L304.99,88.24 L305.68,88.45 L306.38,88.67 L307.08,88.89 L307.78,89.11 L308.48,89.33 L309.18,89.55 L309.87,89.77 L310.57,90.01 L311.27,90.25 L311.97,90.50 L312.67,90.76 L313.37,91.00 L314.06,91.24 L314.76,91.46 L315.46,91.66 L316.16,91.84 L316.86,92.03 L317.56,92.20 L318.25,92.35 L318.95,92.45 L319.65,92.50 L320.35,92.48 L321.05,92.41 L321.75,92.30 L322.44,92.13 L323.14,91.92 L323.84,91.66 L324.54,91.31 L325.24,90.86 L325.94,90.34 L326.63,89.79 L327.33,89.23 L328.03,88.70 L328.73,88.22 L329.43,87.77 L330.12,87.32 L330.82,86.87 L331.52,86.44 L332.22,86.00 L332.92,85.57 L333.62,85.15 L334.31,84.73 L335.01,84.32 L335.71,83.89 L336.41,83.45 L337.11,83.01 L337.81,82.58 L338.50,82.19 L339.20,81.83 L339.90,81.54 L340.60,81.31 L341.30,81.12 L342.00,80.95 L342.69,80.81 L343.39,80.68 L344.09,80.56 L344.79,80.46 L345.49,80.36 L346.19,80.27 L346.88,80.18 L347.58,80.08 L348.28,79.98 L348.98,79.89 L349.68,79.80 L350.38,79.72 L351.07,79.64 L351.77,79.56 L352.47,79.49 L353.17,79.42 L353.87,79.36 L354.56,79.30" fill="none" stroke="#161616" stroke-width="1.05" stroke-linejoin="round"/>
<path d="M55.00,92.40 L55.70,92.20 L56.40,92.02 L57.09,91.85 L57.79,91.68 L58.49,91.53 L59.19,91.39 L59.89,91.25 L60.59,91.13 L61.28,91.02 L61.98,90.92 L62.68,90.83 L63.38,90.75 L64.08,90.67 L64.78,90.61 L65.47,90.55 L66.17,90.50 L66.87,90.45 L67.57,90.40 L68.27,90.36 L68.97,90.32 L69.66,90.28 L70.36,90.24 L71.06,90.20 L71.76,90.16 L72.46,90.13 L73.16,90.09 L73.85,90.06 L74.55,90.02 L75.25,89.99 L75.95,89.96 L76.65,89.93 L77.35,89.90 L78.04,89.87 L78.74,89.85 L79.44,89.82 L80.14,89.80 L80.84,89.78 L81.53,89.75 L82.23,89.73 L82.93,89.72 L83.63,89.70 L84.33,89.68 L85.03,89.66 L85.72,89.65 L86.42,89.63 L87.12,89.62 L87.82,89.61 L88.52,89.59 L89.22,89.58 L89.91,89.57 L90.61,89.56 L91.31,89.55 L92.01,89.54 L92.71,89.53 L93.41,89.52 L94.10,89.52 L94.80,89.51 L95.50,89.51 L96.20,89.50 L96.90,89.50 L97.60,89.50 L98.29,89.50 L98.99,89.51 L99.69,89.52 L100.39,89.54 L101.09,89.56 L101.79,89.58 L102.48,89.61 L103.18,89.64 L103.88,89.68 L104.58,89.72 L105.28,89.76 L105.97,89.81 L106.67,89.86 L107.37,89.91 L108.07,89.96 L108.77,90.02 L109.47,90.08 L110.16,90.13 L110.86,90.19 L111.56,90.26 L112.26,90.32 L112.96,90.39 L113.66,90.46 L114.35,90.54 L115.05,90.63 L115.75,90.72 L116.45,90.81 L117.15,90.91 L117.85,91.01 L118.54,91.12 L119.24,91.22 L119.94,91.33 L120.64,91.44 L121.34,91.55 L122.04,91.66 L122.73,91.77 L123.43,91.88 L124.13,91.98 L124.83,92.09 L125.53,92.19 L126.23,92.29 L126.92,92.38 L127.62,92.48 L128.32,92.57 L129.02,92.67 L129.72,92.77 L130.41,92.86 L131.11,92.96 L131.81,93.06 L132.51,93.15 L133.21,93.25 L133.91,93.34 L134.60,93.44 L135.30,93.53 L136.00,93.62 L136.70,93.71 L137.40,93.80 L138.10,93.89 L138.79,93.98 L139.49,94.07 L140.19,94.15 L140.89,94.23 L141.59,94.31 L142.29,94.38 L142.98,94.44 L143.68,94.50 L144.38,94.56 L145.08,94.63 L145.78,94.70 L146.48,94.79 L147.17,94.88 L147.87,94.99 L148.57,95.10 L149.27,95.22 L149.97,95.34 L150.67,95.47 L151.36,95.60 L152.06,95.74 L152.76,95.89 L153.46,96.04 L154.16,96.20 L154.86,96.36 L155.55,96.53 L156.25,96.71 L156.95,96.89 L157.65,97.08 L158.35,97.28 L159.04,97.49 L159.74,97.72 L160.44,97.95 L161.14,98.19 L161.84,98.43 L162.54,98.68 L163.23,98.94 L163.93,99.19 L164.63,99.45 L165.33,99.70 L166.03,99.96 L166.73,100.21 L167.42,100.47 L168.12,100.75 L168.82,101.03 L169.52,101.32 L170.22,101.60 L170.92,101.88 L171.61,102.15 L172.31,102.39 L173.01,102.61 L173.71,102.83 L174.41,103.04 L175.11,103.25 L175.80,103.43 L176.50,103.58 L177.20,103.67 L177.90,103.70 L178.60,103.61 L179.30,103.40 L179.99,103.10 L180.69,102.74 L181.39,102.34 L182.09,101.94 L182.79,101.44 L183.48,100.87 L184.18,100.25 L184.88,99.64 L185.58,99.07 L186.28,98.56 L186.98,98.05 L187.67,97.54 L188.37,97.04 L189.07,96.55 L189.77,96.08 L190.47,95.63 L191.17,95.20 L191.86,94.80 L192.56,94.43 L193.26,94.08 L193.96,93.76 L194.66,93.46 L195.36,93.17 L196.05,92.91 L196.75,92.68 L197.45,92.46 L198.15,92.26 L198.85,92.07 L199.55,91.89 L200.24,91.73 L200.94,91.57 L201.64,91.43 L202.34,91.29 L203.04,91.17 L203.74,91.05 L204.43,90.95 L205.13,90.85 L205.83,90.77 L206.53,90.70 L207.23,90.63 L207.92,90.57 L208.62,90.51 L209.32,90.46 L210.02,90.41 L210.72,90.37 L211.42,90.33 L212.11,90.29 L212.81,90.25 L213.51,90.21 L214.21,90.17 L214.91,90.14 L215.61,90.10 L216.30,90.07 L217.00,90.03 L217.70,90.00 L218.40,89.97 L219.10,89.94 L219.80,89.91 L220.49,89.88 L221.19,89.86 L221.89,89.83 L222.59,89.81 L223.29,89.78 L223.99,89.76 L224.68,89.74 L225.38,89.72 L226.08,89.70 L226.78,89.69 L227.48,89.67 L228.18,89.65 L228.87,89.64 L229.57,89.62 L230.27,89.61 L230.97,89.60 L231.67,89.58 L232.36,89.57 L233.06,89.56 L233.76,89.55 L234.46,89.54 L235.16,89.53 L235.86,89.52 L236.55,89.52 L237.25,89.51 L237.95,89.51 L238.65,89.50 L239.35,89.50 L240.05,89.50 L240.74,89.50 L241.44,89.51 L242.14,89.52 L242.84,89.53 L243.54,89.55 L244.24,89.57 L244.93,89.60 L245.63,89.63 L246.33,89.67 L247.03,89.71 L247.73,89.75 L248.43,89.80 L249.12,89.84 L249.82,89.89 L250.52,89.95 L251.22,90.00 L251.92,90.06 L252.62,90.12 L253.31,90.18 L254.01,90.24 L254.71,90.30 L255.41,90.37 L256.11,90.44 L256.80,90.52 L257.50,90.60 L258.20,90.69 L258.90,90.78 L259.60,90.88 L260.30,90.98 L260.99,91.09 L261.69,91.19 L262.39,91.30 L263.09,91.41 L263.79,91.52 L264.49,91.63 L265.18,91.74 L265.88,91.85 L266.58,91.95 L267.28,92.06 L267.98,92.16 L268.68,92.26 L269.37,92.35 L270.07,92.45 L270.77,92.55 L271.47,92.64 L272.17,92.74 L272.87,92.84 L273.56,92.93 L274.26,93.03 L274.96,93.12 L275.66,93.22 L276.36,93.31 L277.06,93.41 L277.75,93.50 L278.45,93.59 L279.15,93.69 L279.85,93.78 L280.55,93.87 L281.24,93.96 L281.94,94.04 L282.64,94.13 L283.34,94.21 L284.04,94.29 L284.74,94.36 L285.43,94.42 L286.13,94.48 L286.83,94.55 L287.53,94.61 L288.23,94.68 L288.93,94.76 L289.62,94.85 L290.32,94.96 L291.02,95.07 L291.72,95.18 L292.42,95.31 L293.12,95.43 L293.81,95.57 L294.51,95.70 L295.21,95.85 L295.91,96.00 L296.61,96.15 L297.31,96.31 L298.00,96.48 L298.70,96.66 L299.40,96.84 L300.10,97.02 L300.80,97.22 L301.50,97.43 L302.19,97.65 L302.89,97.88 L303.59,98.12 L304.29,98.36 L304.99,98.61 L305.68,98.86 L306.38,99.12 L307.08,99.37 L307.78,99.63 L308.48,99.89 L309.18,100.14 L309.87,100.40 L310.57,100.67 L311.27,100.95 L311.97,101.24 L312.67,101.52 L313.37,101.80 L314.06,102.07 L314.76,102.32 L315.46,102.55 L316.16,102.76 L316.86,102.98 L317.56,103.19 L318.25,103.38 L318.95,103.54 L319.65,103.65 L320.35,103.70 L321.05,103.65 L321.75,103.47 L322.44,103.19 L323.14,102.85 L323.84,102.46 L324.54,102.06 L325.24,101.59 L325.94,101.03 L326.63,100.43 L327.33,99.81 L328.03,99.23 L328.73,98.70 L329.43,98.19 L330.12,97.69 L330.82,97.18 L331.52,96.69 L332.22,96.21 L332.92,95.75 L333.62,95.32 L334.31,94.91 L335.01,94.53 L335.71,94.18 L336.41,93.85 L337.11,93.54 L337.81,93.25 L338.50,92.99 L339.20,92.74 L339.90,92.52 L340.60,92.31 L341.30,92.12 L342.00,91.94 L342.69,91.77 L343.39,91.61 L344.09,91.47 L344.79,91.33 L345.49,91.20 L346.19,91.08 L346.88,90.98 L347.58,90.88 L348.28,90.79 L348.98,90.72 L349.68,90.65 L350.38,90.58 L351.07,90.53 L351.77,90.47 L352.47,90.43 L353.17,90.38 L353.87,90.34 L354.56,90.30" fill="none" stroke="#161616" stroke-width="1.05" stroke-linejoin="round"/>
<path d="M55.00,103.60 L55.70,103.43 L56.40,103.27 L57.09,103.13 L57.79,103.00 L58.49,102.88 L59.19,102.77 L59.89,102.67 L60.59,102.58 L61.28,102.50 L61.98,102.42 L62.68,102.34 L63.38,102.28 L64.08,102.22 L64.78,102.17 L65.47,102.12 L66.17,102.08 L66.87,102.03 L67.57,102.00 L68.27,101.96 L68.97,101.92 L69.66,101.88 L70.36,101.84 L71.06,101.81 L71.76,101.78 L72.46,101.75 L73.16,101.72 L73.85,101.69 L74.55,101.67 L75.25,101.64 L75.95,101.61 L76.65,101.57 L77.35,101.53 L78.04,101.49 L78.74,101.44 L79.44,101.38 L80.14,101.30 L80.84,101.20 L81.53,101.07 L82.23,100.94 L82.93,100.81 L83.63,100.68 L84.33,100.57 L85.03,100.48 L85.72,100.42 L86.42,100.40 L87.12,100.41 L87.82,100.43 L88.52,100.46 L89.22,100.51 L89.91,100.56 L90.61,100.62 L91.31,100.68 L92.01,100.74 L92.71,100.81 L93.41,100.87 L94.10,100.93 L94.80,100.99 L95.50,101.04 L96.20,101.09 L96.90,101.14 L97.60,101.19 L98.29,101.24 L98.99,101.29 L99.69,101.34 L100.39,101.39 L101.09,101.44 L101.79,101.50 L102.48,101.56 L103.18,101.62 L103.88,101.69 L104.58,101.76 L105.28,101.84 L105.97,101.92 L106.67,102.01 L107.37,102.10 L108.07,102.20 L108.77,102.30 L109.47,102.41 L110.16,102.51 L110.86,102.62 L111.56,102.73 L112.26,102.85 L112.96,102.96 L113.66,103.07 L114.35,103.19 L115.05,103.30 L115.75,103.41 L116.45,103.52 L117.15,103.63 L117.85,103.74 L118.54,103.85 L119.24,103.96 L119.94,104.08 L120.64,104.19 L121.34,104.31 L122.04,104.42 L122.73,104.54 L123.43,104.65 L124.13,104.77 L124.83,104.88 L125.53,105.00 L126.23,105.11 L126.92,105.23 L127.62,105.34 L128.32,105.45 L129.02,105.56 L129.72,105.66 L130.41,105.77 L131.11,105.87 L131.81,105.97 L132.51,106.07 L133.21,106.16 L133.91,106.25 L134.60,106.33 L135.30,106.42 L136.00,106.50 L136.70,106.58 L137.40,106.66 L138.10,106.74 L138.79,106.82 L139.49,106.90 L140.19,106.98 L140.89,107.06 L141.59,107.15 L142.29,107.23 L142.98,107.31 L143.68,107.38 L144.38,107.45 L145.08,107.53 L145.78,107.62 L146.48,107.73 L147.17,107.87 L147.87,108.07 L148.57,108.34 L149.27,108.67 L149.97,109.01 L150.67,109.35 L151.36,109.65 L152.06,109.88 L152.76,110.04 L153.46,110.17 L154.16,110.28 L154.86,110.37 L155.55,110.45 L156.25,110.54 L156.95,110.63 L157.65,110.73 L158.35,110.86 L159.04,111.00 L159.74,111.17 L160.44,111.34 L161.14,111.51 L161.84,111.70 L162.54,111.89 L163.23,112.09 L163.93,112.30 L164.63,112.50 L165.33,112.71 L166.03,112.92 L166.73,113.13 L167.42,113.35 L168.12,113.56 L168.82,113.77 L169.52,114.00 L170.22,114.23 L170.92,114.47 L171.61,114.72 L172.31,114.95 L173.01,115.19 L173.71,115.41 L174.41,115.62 L175.11,115.82 L175.80,116.04 L176.50,116.26 L177.20,116.46 L177.90,116.63 L178.60,116.75 L179.30,116.80 L179.99,116.66 L180.69,116.21 L181.39,115.60 L182.09,114.94 L182.79,114.16 L183.48,113.27 L184.18,112.35 L184.88,111.45 L185.58,110.64 L186.28,109.94 L186.98,109.27 L187.67,108.63 L188.37,108.03 L189.07,107.46 L189.77,106.96 L190.47,106.51 L191.17,106.12 L191.86,105.76 L192.56,105.42 L193.26,105.11 L193.96,104.81 L194.66,104.54 L195.36,104.29 L196.05,104.06 L196.75,103.85 L197.45,103.65 L198.15,103.47 L198.85,103.31 L199.55,103.17 L200.24,103.03 L200.94,102.91 L201.64,102.80 L202.34,102.70 L203.04,102.61 L203.74,102.52 L204.43,102.44 L205.13,102.36 L205.83,102.30 L206.53,102.24 L207.23,102.18 L207.92,102.13 L208.62,102.09 L209.32,102.05 L210.02,102.01 L210.72,101.97 L211.42,101.93 L212.11,101.89 L212.81,101.85 L213.51,101.82 L214.21,101.79 L214.91,101.76 L215.61,101.73 L216.30,101.70 L217.00,101.67 L217.70,101.65 L218.40,101.62 L219.10,101.58 L219.80,101.54 L220.49,101.50 L221.19,101.45 L221.89,101.40 L222.59,101.33 L223.29,101.23 L223.99,101.11 L224.68,100.98 L225.38,100.84 L226.08,100.71 L226.78,100.60 L227.48,100.50 L228.18,100.43 L228.87,100.40 L229.57,100.40 L230.27,100.42 L230.97,100.45 L231.67,100.49 L232.36,100.54 L233.06,100.60 L233.76,100.66 L234.46,100.72 L235.16,100.79 L235.86,100.85 L236.55,100.92 L237.25,100.97 L237.95,101.03 L238.65,101.08 L239.35,101.13 L240.05,101.18 L240.74,101.22 L241.44,101.27 L242.14,101.32 L242.84,101.38 L243.54,101.43 L244.24,101.48 L244.93,101.54 L245.63,101.60 L246.33,101.67 L247.03,101.74 L247.73,101.82 L248.43,101.90 L249.12,101.98 L249.82,102.08 L250.52,102.17 L251.22,102.27 L251.92,102.38 L252.62,102.48 L253.31,102.59 L254.01,102.70 L254.71,102.81 L255.41,102.93 L256.11,103.04 L256.80,103.15 L257.50,103.27 L258.20,103.38 L258.90,103.49 L259.60,103.59 L260.30,103.70 L260.99,103.82 L261.69,103.93 L262.39,104.04 L263.09,104.16 L263.79,104.27 L264.49,104.39 L265.18,104.50 L265.88,104.62 L266.58,104.74 L267.28,104.85 L267.98,104.97 L268.68,105.08 L269.37,105.19 L270.07,105.31 L270.77,105.42 L271.47,105.53 L272.17,105.63 L272.87,105.74 L273.56,105.84 L274.26,105.94 L274.96,106.04 L275.66,106.13 L276.36,106.22 L277.06,106.31 L277.75,106.39 L278.45,106.48 L279.15,106.56 L279.85,106.64 L280.55,106.72 L281.24,106.80 L281.94,106.88 L282.64,106.96 L283.34,107.04 L284.04,107.12 L284.74,107.21 L285.43,107.29 L286.13,107.36 L286.83,107.43 L287.53,107.50 L288.23,107.59 L288.93,107.70 L289.62,107.83 L290.32,108.00 L291.02,108.26 L291.72,108.57 L292.42,108.92 L293.12,109.26 L293.81,109.57 L294.51,109.82 L295.21,110.00 L295.91,110.14 L296.61,110.25 L297.31,110.34 L298.00,110.43 L298.70,110.51 L299.40,110.60 L300.10,110.70 L300.80,110.82 L301.50,110.96 L302.19,111.12 L302.89,111.29 L303.59,111.46 L304.29,111.65 L304.99,111.84 L305.68,112.04 L306.38,112.24 L307.08,112.44 L307.78,112.65 L308.48,112.86 L309.18,113.07 L309.87,113.29 L310.57,113.50 L311.27,113.71 L311.97,113.93 L312.67,114.17 L313.37,114.40 L314.06,114.65 L314.76,114.89 L315.46,115.12 L316.16,115.35 L316.86,115.56 L317.56,115.76 L318.25,115.98 L318.95,116.20 L319.65,116.40 L320.35,116.58 L321.05,116.72 L321.75,116.79 L322.44,116.73 L323.14,116.36 L323.84,115.78 L324.54,115.13 L325.24,114.39 L325.94,113.53 L326.63,112.61 L327.33,111.70 L328.03,110.86 L328.73,110.14 L329.43,109.46 L330.12,108.81 L330.82,108.19 L331.52,107.62 L332.22,107.10 L332.92,106.63 L333.62,106.23 L334.31,105.86 L335.01,105.52 L335.71,105.19 L336.41,104.90 L337.11,104.62 L337.81,104.36 L338.50,104.12 L339.20,103.91 L339.90,103.71 L340.60,103.52 L341.30,103.36 L342.00,103.21 L342.69,103.07 L343.39,102.94 L344.09,102.83 L344.79,102.73 L345.49,102.63 L346.19,102.54 L346.88,102.46 L347.58,102.38 L348.28,102.31 L348.98,102.25 L349.68,102.20 L350.38,102.15 L351.07,102.10 L351.77,102.06 L352.47,102.02 L353.17,101.98 L353.87,101.94 L354.56,101.90" fill="none" stroke="#161616" stroke-width="1.05" stroke-linejoin="round"/>
<path d="M55.00,118.40 L55.70,118.28 L56.40,118.17 L57.09,118.09 L57.79,118.01 L58.49,117.95 L59.19,117.90 L59.89,117.85 L60.59,117.80 L61.28,117.76 L61.98,117.71 L62.68,117.66 L63.38,117.61 L64.08,117.56 L64.78,117.52 L65.47,117.48 L66.17,117.44 L66.87,117.40 L67.57,117.37 L68.27,117.34 L68.97,117.31 L69.66,117.29 L70.36,117.26 L71.06,117.24 L71.76,117.22 L72.46,117.20 L73.16,117.18 L73.85,117.16 L74.55,117.14 L75.25,117.12 L75.95,117.10 L76.65,117.09 L77.35,117.07 L78.04,117.06 L78.74,117.04 L79.44,117.03 L80.14,117.02 L80.84,117.01 L81.53,117.01 L82.23,117.00 L82.93,117.00 L83.63,117.00 L84.33,117.00 L85.03,117.00 L85.72,117.00 L86.42,117.00 L87.12,117.00 L87.82,117.00 L88.52,117.00 L89.22,117.00 L89.91,117.00 L90.61,117.00 L91.31,117.00 L92.01,117.01 L92.71,117.01 L93.41,117.02 L94.10,117.03 L94.80,117.04 L95.50,117.05 L96.20,117.06 L96.90,117.08 L97.60,117.09 L98.29,117.11 L98.99,117.14 L99.69,117.17 L100.39,117.20 L101.09,117.24 L101.79,117.28 L102.48,117.33 L103.18,117.38 L103.88,117.43 L104.58,117.48 L105.28,117.54 L105.97,117.60 L106.67,117.67 L107.37,117.73 L108.07,117.80 L108.77,117.86 L109.47,117.93 L110.16,118.00 L110.86,118.08 L111.56,118.15 L112.26,118.22 L112.96,118.30 L113.66,118.38 L114.35,118.46 L115.05,118.54 L115.75,118.63 L116.45,118.72 L117.15,118.81 L117.85,118.91 L118.54,119.01 L119.24,119.11 L119.94,119.21 L120.64,119.31 L121.34,119.42 L122.04,119.52 L122.73,119.63 L123.43,119.74 L124.13,119.85 L124.83,119.96 L125.53,120.07 L126.23,120.18 L126.92,120.30 L127.62,120.41 L128.32,120.53 L129.02,120.65 L129.72,120.77 L130.41,120.89 L131.11,121.02 L131.81,121.15 L132.51,121.28 L133.21,121.40 L133.91,121.54 L134.60,121.67 L135.30,121.80 L136.00,121.93 L136.70,122.06 L137.40,122.20 L138.10,122.33 L138.79,122.46 L139.49,122.59 L140.19,122.73 L140.89,122.86 L141.59,122.99 L142.29,123.14 L142.98,123.28 L143.68,123.43 L144.38,123.57 L145.08,123.71 L145.78,123.84 L146.48,123.97 L147.17,124.08 L147.87,124.18 L148.57,124.28 L149.27,124.37 L149.97,124.45 L150.67,124.52 L151.36,124.60 L152.06,124.67 L152.76,124.74 L153.46,124.82 L154.16,124.90 L154.86,124.98 L155.55,125.08 L156.25,125.18 L156.95,125.29 L157.65,125.42 L158.35,125.55 L159.04,125.68 L159.74,125.83 L160.44,125.98 L161.14,126.14 L161.84,126.30 L162.54,126.47 L163.23,126.65 L163.93,126.83 L164.63,127.02 L165.33,127.21 L166.03,127.41 L166.73,127.61 L167.42,127.83 L168.12,128.06 L168.82,128.32 L169.52,128.58 L170.22,128.86 L170.92,129.14 L171.61,129.41 L172.31,129.68 L173.01,129.94 L173.71,130.19 L174.41,130.42 L175.11,130.63 L175.80,130.85 L176.50,131.07 L177.20,131.28 L177.90,131.47 L178.60,131.63 L179.30,131.74 L179.99,131.80 L180.69,131.70 L181.39,131.21 L182.09,130.45 L182.79,129.59 L183.48,128.79 L184.18,127.98 L184.88,127.09 L185.58,126.18 L186.28,125.30 L186.98,124.50 L187.67,123.83 L188.37,123.21 L189.07,122.62 L189.77,122.08 L190.47,121.58 L191.17,121.12 L191.86,120.70 L192.56,120.32 L193.26,119.97 L193.96,119.64 L194.66,119.33 L195.36,119.06 L196.05,118.81 L196.75,118.61 L197.45,118.44 L198.15,118.31 L198.85,118.20 L199.55,118.11 L200.24,118.03 L200.94,117.97 L201.64,117.91 L202.34,117.86 L203.04,117.82 L203.74,117.77 L204.43,117.73 L205.13,117.67 L205.83,117.62 L206.53,117.58 L207.23,117.53 L207.92,117.49 L208.62,117.45 L209.32,117.41 L210.02,117.38 L210.72,117.34 L211.42,117.32 L212.11,117.29 L212.81,117.27 L213.51,117.25 L214.21,117.23 L214.91,117.21 L215.61,117.18 L216.30,117.16 L217.00,117.14 L217.70,117.13 L218.40,117.11 L219.10,117.09 L219.80,117.08 L220.49,117.06 L221.19,117.05 L221.89,117.04 L222.59,117.03 L223.29,117.02 L223.99,117.01 L224.68,117.00 L225.38,117.00 L226.08,117.00 L226.78,117.00 L227.48,117.00 L228.18,117.00 L228.87,117.00 L229.57,117.00 L230.27,117.00 L230.97,117.00 L231.67,117.00 L232.36,117.00 L233.06,117.00 L233.76,117.00 L234.46,117.01 L235.16,117.01 L235.86,117.02 L236.55,117.03 L237.25,117.03 L237.95,117.05 L238.65,117.06 L239.35,117.07 L240.05,117.09 L240.74,117.11 L241.44,117.13 L242.14,117.16 L242.84,117.19 L243.54,117.23 L244.24,117.27 L244.93,117.32 L245.63,117.36 L246.33,117.41 L247.03,117.47 L247.73,117.53 L248.43,117.59 L249.12,117.65 L249.82,117.71 L250.52,117.78 L251.22,117.85 L251.92,117.91 L252.62,117.98 L253.31,118.06 L254.01,118.13 L254.71,118.20 L255.41,118.27 L256.11,118.35 L256.80,118.43 L257.50,118.52 L258.20,118.60 L258.90,118.69 L259.60,118.79 L260.30,118.88 L260.99,118.98 L261.69,119.08 L262.39,119.18 L263.09,119.28 L263.79,119.39 L264.49,119.49 L265.18,119.60 L265.88,119.71 L266.58,119.82 L267.28,119.93 L267.98,120.04 L268.68,120.15 L269.37,120.26 L270.07,120.38 L270.77,120.50 L271.47,120.61 L272.17,120.74 L272.87,120.86 L273.56,120.98 L274.26,121.11 L274.96,121.24 L275.66,121.37 L276.36,121.50 L277.06,121.63 L277.75,121.76 L278.45,121.89 L279.15,122.03 L279.85,122.16 L280.55,122.29 L281.24,122.42 L281.94,122.56 L282.64,122.69 L283.34,122.82 L284.04,122.95 L284.74,123.09 L285.43,123.24 L286.13,123.38 L286.83,123.53 L287.53,123.67 L288.23,123.80 L288.93,123.93 L289.62,124.05 L290.32,124.16 L291.02,124.25 L291.72,124.34 L292.42,124.42 L293.12,124.50 L293.81,124.57 L294.51,124.65 L295.21,124.72 L295.91,124.80 L296.61,124.87 L297.31,124.96 L298.00,125.05 L298.70,125.15 L299.40,125.26 L300.10,125.38 L300.80,125.51 L301.50,125.64 L302.19,125.79 L302.89,125.94 L303.59,126.09 L304.29,126.26 L304.99,126.42 L305.68,126.60 L306.38,126.78 L307.08,126.96 L307.78,127.16 L308.48,127.35 L309.18,127.55 L309.87,127.76 L310.57,127.99 L311.27,128.24 L311.97,128.51 L312.67,128.78 L313.37,129.06 L314.06,129.33 L314.76,129.61 L315.46,129.87 L316.16,130.12 L316.86,130.35 L317.56,130.57 L318.25,130.78 L318.95,131.01 L319.65,131.22 L320.35,131.42 L321.05,131.59 L321.75,131.71 L322.44,131.79 L323.14,131.77 L323.84,131.38 L324.54,130.68 L325.24,129.84 L325.94,129.01 L326.63,128.22 L327.33,127.35 L328.03,126.44 L328.73,125.55 L329.43,124.72 L330.12,124.01 L330.82,123.38 L331.52,122.79 L332.22,122.23 L332.92,121.72 L333.62,121.25 L334.31,120.82 L335.01,120.43 L335.71,120.07 L336.41,119.73 L337.11,119.42 L337.81,119.13 L338.50,118.88 L339.20,118.66 L339.90,118.48 L340.60,118.34 L341.30,118.23 L342.00,118.13 L342.69,118.05 L343.39,117.99 L344.09,117.93 L344.79,117.88 L345.49,117.83 L346.19,117.79 L346.88,117.74 L347.58,117.69 L348.28,117.64 L348.98,117.59 L349.68,117.54 L350.38,117.50 L351.07,117.46 L351.77,117.42 L352.47,117.38 L353.17,117.35 L353.87,117.32 L354.56,117.30" fill="none" stroke="#161616" stroke-width="1.05" stroke-linejoin="round"/>
<path d="M55.00,133.90 L55.70,133.74 L56.40,133.58 L57.09,133.45 L57.79,133.40 L58.49,133.42 L59.19,133.47 L59.89,133.56 L60.59,133.67 L61.28,133.81 L61.98,133.96 L62.68,134.12 L63.38,134.29 L64.08,134.45 L64.78,134.62 L65.47,134.80 L66.17,135.00 L66.87,135.22 L67.57,135.45 L68.27,135.69 L68.97,135.92 L69.66,136.15 L70.36,136.37 L71.06,136.56 L71.76,136.73 L72.46,136.86 L73.16,136.99 L73.85,137.11 L74.55,137.23 L75.25,137.34 L75.95,137.45 L76.65,137.55 L77.35,137.65 L78.04,137.74 L78.74,137.84 L79.44,137.93 L80.14,138.01 L80.84,138.10 L81.53,138.18 L82.23,138.26 L82.93,138.34 L83.63,138.42 L84.33,138.50 L85.03,138.58 L85.72,138.66 L86.42,138.74 L87.12,138.82 L87.82,138.90 L88.52,138.98 L89.22,139.06 L89.91,139.13 L90.61,139.20 L91.31,139.27 L92.01,139.33 L92.71,139.39 L93.41,139.46 L94.10,139.52 L94.80,139.58 L95.50,139.65 L96.20,139.71 L96.90,139.78 L97.60,139.85 L98.29,139.93 L98.99,140.00 L99.69,140.08 L100.39,140.17 L101.09,140.26 L101.79,140.35 L102.48,140.44 L103.18,140.54 L103.88,140.64 L104.58,140.74 L105.28,140.85 L105.97,140.95 L106.67,141.06 L107.37,141.17 L108.07,141.28 L108.77,141.40 L109.47,141.51 L110.16,141.63 L110.86,141.75 L111.56,141.87 L112.26,141.98 L112.96,142.11 L113.66,142.23 L114.35,142.35 L115.05,142.47 L115.75,142.60 L116.45,142.72 L117.15,142.85 L117.85,142.98 L118.54,143.11 L119.24,143.25 L119.94,143.39 L120.64,143.53 L121.34,143.68 L122.04,143.83 L122.73,143.97 L123.43,144.12 L124.13,144.27 L124.83,144.42 L125.53,144.56 L126.23,144.71 L126.92,144.85 L127.62,144.99 L128.32,145.13 L129.02,145.27 L129.72,145.40 L130.41,145.53 L131.11,145.65 L131.81,145.76 L132.51,145.88 L133.21,145.99 L133.91,146.09 L134.60,146.20 L135.30,146.30 L136.00,146.40 L136.70,146.50 L137.40,146.60 L138.10,146.70 L138.79,146.79 L139.49,146.88 L140.19,146.97 L140.89,147.06 L141.59,147.15 L142.29,147.23 L142.98,147.32 L143.68,147.40 L144.38,147.48 L145.08,147.56 L145.78,147.64 L146.48,147.71 L147.17,147.79 L147.87,147.86 L148.57,147.92 L149.27,147.97 L149.97,148.02 L150.67,148.06 L151.36,148.10 L152.06,148.14 L152.76,148.18 L153.46,148.23 L154.16,148.28 L154.86,148.34 L155.55,148.41 L156.25,148.50 L156.95,148.59 L157.65,148.72 L158.35,148.90 L159.04,149.11 L159.74,149.35 L160.44,149.61 L161.14,149.88 L161.84,150.16 L162.54,150.57 L163.23,151.01 L163.93,151.28 L164.63,151.30 L165.33,151.28 L166.03,151.26 L166.73,151.23 L167.42,151.21 L168.12,151.20 L168.82,151.24 L169.52,151.37 L170.22,151.59 L170.92,151.87 L171.61,152.19 L172.31,152.55 L173.01,152.91 L173.71,153.26 L174.41,153.58 L175.11,153.89 L175.80,154.26 L176.50,154.66 L177.20,155.01 L177.90,155.28 L178.60,155.40 L179.30,155.27 L179.99,154.85 L180.69,154.21 L181.39,153.43 L182.09,152.53 L182.79,151.35 L183.48,149.95 L184.18,148.44 L184.88,146.94 L185.58,145.45 L186.28,143.83 L186.98,142.36 L187.67,141.30 L188.37,140.46 L189.07,139.73 L189.77,139.08 L190.47,138.48 L191.17,137.88 L191.86,137.27 L192.56,136.65 L193.26,136.05 L193.96,135.49 L194.66,135.00 L195.36,134.58 L196.05,134.28 L196.75,134.09 L197.45,133.94 L198.15,133.79 L198.85,133.62 L199.55,133.48 L200.24,133.41 L200.94,133.41 L201.64,133.45 L202.34,133.53 L203.04,133.64 L203.74,133.77 L204.43,133.91 L205.13,134.07 L205.83,134.24 L206.53,134.41 L207.23,134.57 L207.92,134.74 L208.62,134.94 L209.32,135.15 L210.02,135.38 L210.72,135.62 L211.42,135.86 L212.11,136.09 L212.81,136.31 L213.51,136.51 L214.21,136.68 L214.91,136.83 L215.61,136.95 L216.30,137.08 L217.00,137.20 L217.70,137.31 L218.40,137.42 L219.10,137.52 L219.80,137.62 L220.49,137.72 L221.19,137.81 L221.89,137.90 L222.59,137.99 L223.29,138.08 L223.99,138.16 L224.68,138.24 L225.38,138.32 L226.08,138.40 L226.78,138.48 L227.48,138.56 L228.18,138.64 L228.87,138.72 L229.57,138.80 L230.27,138.88 L230.97,138.96 L231.67,139.04 L232.36,139.11 L233.06,139.18 L233.76,139.25 L234.46,139.31 L235.16,139.38 L235.86,139.44 L236.55,139.50 L237.25,139.57 L237.95,139.63 L238.65,139.70 L239.35,139.76 L240.05,139.83 L240.74,139.90 L241.44,139.98 L242.14,140.06 L242.84,140.14 L243.54,140.23 L244.24,140.32 L244.93,140.42 L245.63,140.51 L246.33,140.61 L247.03,140.71 L247.73,140.82 L248.43,140.92 L249.12,141.03 L249.82,141.14 L250.52,141.25 L251.22,141.37 L251.92,141.48 L252.62,141.60 L253.31,141.71 L254.01,141.83 L254.71,141.95 L255.41,142.07 L256.11,142.19 L256.80,142.31 L257.50,142.44 L258.20,142.56 L258.90,142.68 L259.60,142.81 L260.30,142.94 L260.99,143.07 L261.69,143.21 L262.39,143.35 L263.09,143.49 L263.79,143.64 L264.49,143.78 L265.18,143.93 L265.88,144.08 L266.58,144.23 L267.28,144.38 L267.98,144.52 L268.68,144.67 L269.37,144.81 L270.07,144.95 L270.77,145.09 L271.47,145.23 L272.17,145.36 L272.87,145.49 L273.56,145.61 L274.26,145.73 L274.96,145.84 L275.66,145.96 L276.36,146.06 L277.06,146.17 L277.75,146.27 L278.45,146.38 L279.15,146.48 L279.85,146.57 L280.55,146.67 L281.24,146.76 L281.94,146.86 L282.64,146.95 L283.34,147.04 L284.04,147.12 L284.74,147.21 L285.43,147.29 L286.13,147.38 L286.83,147.46 L287.53,147.54 L288.23,147.61 L288.93,147.69 L289.62,147.77 L290.32,147.84 L291.02,147.90 L291.72,147.96 L292.42,148.00 L293.12,148.05 L293.81,148.09 L294.51,148.13 L295.21,148.17 L295.91,148.22 L296.61,148.27 L297.31,148.33 L298.00,148.39 L298.70,148.47 L299.40,148.56 L300.10,148.68 L300.80,148.84 L301.50,149.04 L302.19,149.28 L302.89,149.53 L303.59,149.80 L304.29,150.08 L304.99,150.44 L305.68,150.89 L306.38,151.24 L307.08,151.30 L307.78,151.29 L308.48,151.26 L309.18,151.24 L309.87,151.22 L310.57,151.20 L311.27,151.21 L311.97,151.32 L312.67,151.52 L313.37,151.78 L314.06,152.10 L314.76,152.44 L315.46,152.80 L316.16,153.16 L316.86,153.50 L317.56,153.80 L318.25,154.15 L318.95,154.54 L319.65,154.92 L320.35,155.22 L321.05,155.38 L321.75,155.34 L322.44,155.00 L323.14,154.42 L323.84,153.66 L324.54,152.81 L325.24,151.72 L325.94,150.37 L326.63,148.88 L327.33,147.36 L328.03,145.90 L328.73,144.29 L329.43,142.75 L330.12,141.57 L330.82,140.69 L331.52,139.93 L332.22,139.26 L332.92,138.65 L333.62,138.05 L334.31,137.44 L335.01,136.82 L335.71,136.22 L336.41,135.65 L337.11,135.13 L337.81,134.69 L338.50,134.35 L339.20,134.13 L339.90,133.98 L340.60,133.83 L341.30,133.67 L342.00,133.52 L342.69,133.42 L343.39,133.40 L344.09,133.44 L344.79,133.50 L345.49,133.60 L346.19,133.73 L346.88,133.87 L347.58,134.03 L348.28,134.19 L348.98,134.36 L349.68,134.53 L350.38,134.69 L351.07,134.88 L351.77,135.09 L352.47,135.32 L353.17,135.55 L353.87,135.79 L354.56,136.02" fill="none" stroke="#161616" stroke-width="1.05" stroke-linejoin="round"/>
<path d="M55.00,152.80 L55.70,152.55 L56.40,152.33 L57.09,152.34 L57.79,152.57 L58.49,152.96 L59.19,153.41 L59.89,153.86 L60.59,154.25 L61.28,154.67 L61.98,155.10 L62.68,155.53 L63.38,155.96 L64.08,156.37 L64.78,156.74 L65.47,157.08 L66.17,157.42 L66.87,157.73 L67.57,158.03 L68.27,158.32 L68.97,158.59 L69.66,158.85 L70.36,159.10 L71.06,159.34 L71.76,159.59 L72.46,159.83 L73.16,160.06 L73.85,160.29 L74.55,160.52 L75.25,160.75 L75.95,160.97 L76.65,161.20 L77.35,161.41 L78.04,161.63 L78.74,161.85 L79.44,162.06 L80.14,162.28 L80.84,162.49 L81.53,162.70 L82.23,162.91 L82.93,163.12 L83.63,163.33 L84.33,163.54 L85.03,163.74 L85.72,163.95 L86.42,164.15 L87.12,164.35 L87.82,164.55 L88.52,164.75 L89.22,164.95 L89.91,165.14 L90.61,165.33 L91.31,165.53 L92.01,165.72 L92.71,165.91 L93.41,166.10 L94.10,166.29 L94.80,166.48 L95.50,166.67 L96.20,166.86 L96.90,167.05 L97.60,167.25 L98.29,167.44 L98.99,167.63 L99.69,167.82 L100.39,168.01 L101.09,168.20 L101.79,168.39 L102.48,168.58 L103.18,168.77 L103.88,168.96 L104.58,169.14 L105.28,169.33 L105.97,169.51 L106.67,169.69 L107.37,169.86 L108.07,170.04 L108.77,170.21 L109.47,170.38 L110.16,170.55 L110.86,170.71 L111.56,170.88 L112.26,171.05 L112.96,171.21 L113.66,171.37 L114.35,171.53 L115.05,171.69 L115.75,171.85 L116.45,172.00 L117.15,172.16 L117.85,172.31 L118.54,172.46 L119.24,172.61 L119.94,172.76 L120.64,172.89 L121.34,173.03 L122.04,173.16 L122.73,173.29 L123.43,173.42 L124.13,173.55 L124.83,173.69 L125.53,173.83 L126.23,173.98 L126.92,174.13 L127.62,174.29 L128.32,174.46 L129.02,174.63 L129.72,174.80 L130.41,174.98 L131.11,175.17 L131.81,175.36 L132.51,175.56 L133.21,175.77 L133.91,176.00 L134.60,176.24 L135.30,176.49 L136.00,176.78 L136.70,177.15 L137.40,177.52 L138.10,177.76 L138.79,177.77 L139.49,177.57 L140.19,177.28 L140.89,177.01 L141.59,176.90 L142.29,176.92 L142.98,176.99 L143.68,177.08 L144.38,177.19 L145.08,177.30 L145.78,177.40 L146.48,177.47 L147.17,177.50 L147.87,177.49 L148.57,177.45 L149.27,177.39 L149.97,177.31 L150.67,177.23 L151.36,177.15 L152.06,177.08 L152.76,177.03 L153.46,177.00 L154.16,177.00 L154.86,177.01 L155.55,177.02 L156.25,177.04 L156.95,177.07 L157.65,177.11 L158.35,177.16 L159.04,177.22 L159.74,177.30 L160.44,177.39 L161.14,177.50 L161.84,177.63 L162.54,177.81 L163.23,178.05 L163.93,178.34 L164.63,178.67 L165.33,179.02 L166.03,179.39 L166.73,179.75 L167.42,180.11 L168.12,180.44 L168.82,180.75 L169.52,181.07 L170.22,181.39 L170.92,181.71 L171.61,182.03 L172.31,182.33 L173.01,182.61 L173.71,182.86 L174.41,183.10 L175.11,183.33 L175.80,183.53 L176.50,183.66 L177.20,183.70 L177.90,183.58 L178.60,183.30 L179.30,182.88 L179.99,182.34 L180.69,181.71 L181.39,180.99 L182.09,180.06 L182.79,178.90 L183.48,177.49 L184.18,175.85 L184.88,173.53 L185.58,170.50 L186.28,167.66 L186.98,165.80 L187.67,164.51 L188.37,163.48 L189.07,162.55 L189.77,161.55 L190.47,160.43 L191.17,159.28 L191.86,158.15 L192.56,157.10 L193.26,156.18 L193.96,155.33 L194.66,154.54 L195.36,153.85 L196.05,153.31 L196.75,152.99 L197.45,152.85 L198.15,152.63 L198.85,152.38 L199.55,152.31 L200.24,152.49 L200.94,152.84 L201.64,153.28 L202.34,153.74 L203.04,154.14 L203.74,154.55 L204.43,154.97 L205.13,155.41 L205.83,155.84 L206.53,156.25 L207.23,156.64 L207.92,156.99 L208.62,157.32 L209.32,157.64 L210.02,157.95 L210.72,158.24 L211.42,158.51 L212.11,158.77 L212.81,159.02 L213.51,159.27 L214.21,159.52 L214.91,159.76 L215.61,159.99 L216.30,160.23 L217.00,160.46 L217.70,160.69 L218.40,160.91 L219.10,161.13 L219.80,161.35 L220.49,161.57 L221.19,161.79 L221.89,162.00 L222.59,162.22 L223.29,162.43 L223.99,162.64 L224.68,162.85 L225.38,163.06 L226.08,163.27 L226.78,163.48 L227.48,163.69 L228.18,163.89 L228.87,164.09 L229.57,164.30 L230.27,164.49 L230.97,164.69 L231.67,164.89 L232.36,165.08 L233.06,165.28 L233.76,165.47 L234.46,165.66 L235.16,165.86 L235.86,166.05 L236.55,166.24 L237.25,166.43 L237.95,166.62 L238.65,166.81 L239.35,167.00 L240.05,167.19 L240.74,167.38 L241.44,167.57 L242.14,167.77 L242.84,167.96 L243.54,168.15 L244.24,168.34 L244.93,168.53 L245.63,168.72 L246.33,168.90 L247.03,169.09 L247.73,169.27 L248.43,169.46 L249.12,169.64 L249.82,169.81 L250.52,169.99 L251.22,170.16 L251.92,170.33 L252.62,170.50 L253.31,170.67 L254.01,170.83 L254.71,171.00 L255.41,171.16 L256.11,171.32 L256.80,171.48 L257.50,171.64 L258.20,171.80 L258.90,171.96 L259.60,172.11 L260.30,172.27 L260.99,172.42 L261.69,172.57 L262.39,172.72 L263.09,172.86 L263.79,172.99 L264.49,173.12 L265.18,173.25 L265.88,173.38 L266.58,173.51 L267.28,173.65 L267.98,173.79 L268.68,173.93 L269.37,174.09 L270.07,174.25 L270.77,174.41 L271.47,174.58 L272.17,174.75 L272.87,174.93 L273.56,175.11 L274.26,175.30 L274.96,175.50 L275.66,175.71 L276.36,175.93 L277.06,176.17 L277.75,176.42 L278.45,176.68 L279.15,177.04 L279.85,177.43 L280.55,177.71 L281.24,177.79 L281.94,177.64 L282.64,177.36 L283.34,177.08 L284.04,176.91 L284.74,176.91 L285.43,176.97 L286.13,177.05 L286.83,177.16 L287.53,177.27 L288.23,177.37 L288.93,177.45 L289.62,177.49 L290.32,177.50 L291.02,177.46 L291.72,177.41 L292.42,177.33 L293.12,177.25 L293.81,177.17 L294.51,177.10 L295.21,177.04 L295.91,177.01 L296.61,177.00 L297.31,177.00 L298.00,177.02 L298.70,177.03 L299.40,177.06 L300.10,177.10 L300.80,177.15 L301.50,177.21 L302.19,177.28 L302.89,177.37 L303.59,177.47 L304.29,177.59 L304.99,177.75 L305.68,177.97 L306.38,178.25 L307.08,178.57 L307.78,178.92 L308.48,179.28 L309.18,179.65 L309.87,180.01 L310.57,180.35 L311.27,180.66 L311.97,180.97 L312.67,181.30 L313.37,181.62 L314.06,181.94 L314.76,182.24 L315.46,182.53 L316.16,182.79 L316.86,183.03 L317.56,183.26 L318.25,183.47 L318.95,183.63 L319.65,183.70 L320.35,183.63 L321.05,183.40 L321.75,183.02 L322.44,182.51 L323.14,181.90 L323.84,181.21 L324.54,180.35 L325.24,179.25 L325.94,177.92 L326.63,176.34 L327.33,174.30 L328.03,171.38 L328.73,168.40 L329.43,166.24 L330.12,164.84 L330.82,163.76 L331.52,162.82 L332.22,161.86 L332.92,160.76 L333.62,159.61 L334.31,158.47 L335.01,157.39 L335.71,156.43 L336.41,155.56 L337.11,154.75 L337.81,154.04 L338.50,153.45 L339.20,153.05 L339.90,152.89 L340.60,152.70 L341.30,152.44 L342.00,152.30 L342.69,152.42 L343.39,152.73 L344.09,153.15 L344.79,153.61 L345.49,154.03 L346.19,154.43 L346.88,154.85 L347.58,155.29 L348.28,155.72 L348.98,156.14 L349.68,156.53 L350.38,156.89 L351.07,157.23 L351.77,157.55 L352.47,157.86 L353.17,158.16 L353.87,158.44 L354.56,158.70" fill="none" stroke="#161616" stroke-width="1.05" stroke-linejoin="round"/>
<path d="M55.00,174.60 L55.70,174.32 L56.40,174.04 L57.09,174.04 L57.79,174.27 L58.49,174.68 L59.19,175.22 L59.89,175.83 L60.59,176.46 L61.28,177.07 L61.98,177.60 L62.68,178.05 L63.38,178.47 L64.08,178.87 L64.78,179.28 L65.47,179.68 L66.17,180.10 L66.87,180.54 L67.57,181.01 L68.27,181.51 L68.97,182.05 L69.66,182.61 L70.36,183.17 L71.06,183.74 L71.76,184.29 L72.46,184.83 L73.16,185.33 L73.85,185.80 L74.55,186.26 L75.25,186.70 L75.95,187.12 L76.65,187.54 L77.35,187.94 L78.04,188.33 L78.74,188.70 L79.44,189.07 L80.14,189.42 L80.84,189.75 L81.53,190.06 L82.23,190.36 L82.93,190.64 L83.63,190.92 L84.33,191.19 L85.03,191.47 L85.72,191.74 L86.42,192.02 L87.12,192.30 L87.82,192.57 L88.52,192.85 L89.22,193.13 L89.91,193.40 L90.61,193.68 L91.31,193.95 L92.01,194.22 L92.71,194.49 L93.41,194.76 L94.10,195.03 L94.80,195.29 L95.50,195.56 L96.20,195.82 L96.90,196.08 L97.60,196.34 L98.29,196.60 L98.99,196.86 L99.69,197.12 L100.39,197.37 L101.09,197.63 L101.79,197.88 L102.48,198.13 L103.18,198.38 L103.88,198.63 L104.58,198.88 L105.28,199.12 L105.97,199.37 L106.67,199.61 L107.37,199.85 L108.07,200.09 L108.77,200.33 L109.47,200.57 L110.16,200.80 L110.86,201.04 L111.56,201.27 L112.26,201.51 L112.96,201.74 L113.66,201.97 L114.35,202.20 L115.05,202.43 L115.75,202.66 L116.45,202.89 L117.15,203.12 L117.85,203.34 L118.54,203.56 L119.24,203.79 L119.94,204.01 L120.64,204.22 L121.34,204.44 L122.04,204.66 L122.73,204.88 L123.43,205.09 L124.13,205.31 L124.83,205.53 L125.53,205.75 L126.23,205.97 L126.92,206.20 L127.62,206.44 L128.32,206.69 L129.02,206.94 L129.72,207.18 L130.41,207.41 L131.11,207.61 L131.81,207.79 L132.51,207.94 L133.21,208.07 L133.91,208.20 L134.60,208.32 L135.30,208.43 L136.00,208.54 L136.70,208.63 L137.40,208.71 L138.10,208.78 L138.79,208.84 L139.49,208.88 L140.19,208.90 L140.89,208.90 L141.59,208.90 L142.29,208.90 L142.98,208.90 L143.68,208.90 L144.38,208.90 L145.08,208.90 L145.78,208.88 L146.48,208.85 L147.17,208.80 L147.87,208.73 L148.57,208.65 L149.27,208.56 L149.97,208.47 L150.67,208.37 L151.36,208.27 L152.06,208.17 L152.76,208.07 L153.46,207.97 L154.16,207.88 L154.86,207.80 L155.55,207.72 L156.25,207.62 L156.95,207.53 L157.65,207.43 L158.35,207.34 L159.04,207.27 L159.74,207.22 L160.44,207.20 L161.14,207.22 L161.84,207.31 L162.54,207.44 L163.23,207.63 L163.93,207.85 L164.63,208.09 L165.33,208.36 L166.03,208.64 L166.73,208.92 L167.42,209.20 L168.12,209.48 L168.82,209.82 L169.52,210.21 L170.22,210.63 L170.92,211.08 L171.61,211.53 L172.31,211.96 L173.01,212.37 L173.71,212.73 L174.41,213.03 L175.11,213.25 L175.80,213.38 L176.50,213.40 L177.20,213.35 L177.90,213.23 L178.60,213.04 L179.30,212.77 L179.99,212.41 L180.69,211.95 L181.39,211.36 L182.09,210.36 L182.79,208.90 L183.48,207.13 L184.18,205.17 L184.88,202.84 L185.58,200.01 L186.28,197.06 L186.98,194.39 L187.67,192.14 L188.37,190.02 L189.07,188.03 L189.77,186.17 L190.47,184.45 L191.17,182.86 L191.86,181.39 L192.56,180.04 L193.26,178.80 L193.96,177.69 L194.66,176.68 L195.36,175.80 L196.05,175.11 L196.75,174.70 L197.45,174.64 L198.15,174.41 L198.85,174.10 L199.55,174.01 L200.24,174.18 L200.94,174.55 L201.64,175.05 L202.34,175.65 L203.04,176.28 L203.74,176.90 L204.43,177.46 L205.13,177.92 L205.83,178.35 L206.53,178.76 L207.23,179.16 L207.92,179.57 L208.62,179.98 L209.32,180.41 L210.02,180.87 L210.72,181.37 L211.42,181.89 L212.11,182.44 L212.81,183.01 L213.51,183.58 L214.21,184.13 L214.91,184.68 L215.61,185.19 L216.30,185.67 L217.00,186.13 L217.70,186.57 L218.40,187.00 L219.10,187.42 L219.80,187.83 L220.49,188.22 L221.19,188.60 L221.89,188.96 L222.59,189.32 L223.29,189.65 L223.99,189.97 L224.68,190.27 L225.38,190.56 L226.08,190.84 L226.78,191.12 L227.48,191.39 L228.18,191.66 L228.87,191.94 L229.57,192.22 L230.27,192.50 L230.97,192.77 L231.67,193.05 L232.36,193.33 L233.06,193.60 L233.76,193.87 L234.46,194.15 L235.16,194.42 L235.86,194.68 L236.55,194.95 L237.25,195.22 L237.95,195.48 L238.65,195.74 L239.35,196.01 L240.05,196.27 L240.74,196.53 L241.44,196.79 L242.14,197.04 L242.84,197.30 L243.54,197.55 L244.24,197.81 L244.93,198.06 L245.63,198.31 L246.33,198.56 L247.03,198.81 L247.73,199.05 L248.43,199.30 L249.12,199.54 L249.82,199.78 L250.52,200.02 L251.22,200.26 L251.92,200.50 L252.62,200.74 L253.31,200.97 L254.01,201.21 L254.71,201.44 L255.41,201.67 L256.11,201.91 L256.80,202.14 L257.50,202.37 L258.20,202.60 L258.90,202.82 L259.60,203.05 L260.30,203.28 L260.99,203.50 L261.69,203.72 L262.39,203.94 L263.09,204.16 L263.79,204.38 L264.49,204.60 L265.18,204.81 L265.88,205.03 L266.58,205.25 L267.28,205.47 L267.98,205.69 L268.68,205.91 L269.37,206.13 L270.07,206.37 L270.77,206.62 L271.47,206.87 L272.17,207.11 L272.87,207.34 L273.56,207.56 L274.26,207.75 L274.96,207.90 L275.66,208.03 L276.36,208.16 L277.06,208.28 L277.75,208.40 L278.45,208.51 L279.15,208.60 L279.85,208.69 L280.55,208.76 L281.24,208.82 L281.94,208.87 L282.64,208.89 L283.34,208.90 L284.04,208.90 L284.74,208.90 L285.43,208.90 L286.13,208.90 L286.83,208.90 L287.53,208.90 L288.23,208.89 L288.93,208.86 L289.62,208.81 L290.32,208.75 L291.02,208.68 L291.72,208.59 L292.42,208.50 L293.12,208.40 L293.81,208.30 L294.51,208.20 L295.21,208.09 L295.91,208.00 L296.61,207.91 L297.31,207.82 L298.00,207.74 L298.70,207.65 L299.40,207.55 L300.10,207.46 L300.80,207.37 L301.50,207.29 L302.19,207.23 L302.89,207.20 L303.59,207.21 L304.29,207.28 L304.99,207.40 L305.68,207.57 L306.38,207.78 L307.08,208.02 L307.78,208.28 L308.48,208.56 L309.18,208.84 L309.87,209.12 L310.57,209.39 L311.27,209.71 L311.97,210.09 L312.67,210.51 L313.37,210.95 L314.06,211.40 L314.76,211.84 L315.46,212.26 L316.16,212.63 L316.86,212.95 L317.56,213.20 L318.25,213.35 L318.95,213.40 L319.65,213.37 L320.35,213.27 L321.05,213.11 L321.75,212.86 L322.44,212.52 L323.14,212.09 L323.84,211.55 L324.54,210.70 L325.24,209.36 L325.94,207.66 L326.63,205.74 L327.33,203.57 L328.03,200.85 L328.73,197.89 L329.43,195.11 L330.12,192.77 L330.82,190.62 L331.52,188.59 L332.22,186.69 L332.92,184.93 L333.62,183.30 L334.31,181.80 L335.01,180.41 L335.71,179.14 L336.41,177.99 L337.11,176.96 L337.81,176.03 L338.50,175.28 L339.20,174.78 L339.90,174.65 L340.60,174.50 L341.30,174.18 L342.00,174.00 L342.69,174.11 L343.39,174.43 L344.09,174.90 L344.79,175.47 L345.49,176.10 L346.19,176.73 L346.88,177.31 L347.58,177.80 L348.28,178.23 L348.98,178.64 L349.68,179.05 L350.38,179.45 L351.07,179.86 L351.77,180.29 L352.47,180.74 L353.17,181.22 L353.87,181.74 L354.56,182.29" fill="none" stroke="#161616" stroke-width="1.05" stroke-linejoin="round"/>
<path d="M55.00,194.30 L55.70,194.00 L56.40,193.80 L57.09,193.96 L57.79,194.44 L58.49,195.15 L59.19,196.03 L59.89,197.01 L60.59,198.02 L61.28,198.99 L61.98,199.84 L62.68,200.58 L63.38,201.32 L64.08,202.07 L64.78,202.81 L65.47,203.55 L66.17,204.27 L66.87,204.98 L67.57,205.66 L68.27,206.32 L68.97,206.94 L69.66,207.53 L70.36,208.11 L71.06,208.68 L71.76,209.23 L72.46,209.77 L73.16,210.30 L73.85,210.82 L74.55,211.33 L75.25,211.83 L75.95,212.32 L76.65,212.80 L77.35,213.26 L78.04,213.72 L78.74,214.16 L79.44,214.60 L80.14,215.02 L80.84,215.41 L81.53,215.77 L82.23,216.10 L82.93,216.41 L83.63,216.71 L84.33,217.02 L85.03,217.34 L85.72,217.68 L86.42,218.05 L87.12,218.44 L87.82,218.84 L88.52,219.24 L89.22,219.66 L89.91,220.08 L90.61,220.50 L91.31,220.92 L92.01,221.33 L92.71,221.73 L93.41,222.13 L94.10,222.50 L94.80,222.86 L95.50,223.20 L96.20,223.52 L96.90,223.82 L97.60,224.11 L98.29,224.39 L98.99,224.67 L99.69,224.94 L100.39,225.20 L101.09,225.47 L101.79,225.74 L102.48,226.02 L103.18,226.30 L103.88,226.58 L104.58,226.87 L105.28,227.15 L105.97,227.44 L106.67,227.72 L107.37,228.01 L108.07,228.29 L108.77,228.58 L109.47,228.86 L110.16,229.13 L110.86,229.41 L111.56,229.68 L112.26,229.94 L112.96,230.20 L113.66,230.45 L114.35,230.70 L115.05,230.94 L115.75,231.17 L116.45,231.39 L117.15,231.60 L117.85,231.80 L118.54,231.99 L119.24,232.17 L119.94,232.34 L120.64,232.51 L121.34,232.67 L122.04,232.82 L122.73,232.98 L123.43,233.13 L124.13,233.29 L124.83,233.45 L125.53,233.61 L126.23,233.78 L126.92,233.94 L127.62,234.11 L128.32,234.27 L129.02,234.44 L129.72,234.61 L130.41,234.78 L131.11,234.95 L131.81,235.14 L132.51,235.35 L133.21,235.59 L133.91,235.87 L134.60,236.16 L135.30,236.45 L136.00,236.71 L136.70,236.93 L137.40,237.10 L138.10,237.19 L138.79,237.16 L139.49,236.88 L140.19,236.45 L140.89,235.99 L141.59,235.62 L142.29,235.46 L142.98,235.37 L143.68,235.29 L144.38,235.23 L145.08,235.18 L145.78,235.14 L146.48,235.10 L147.17,235.07 L147.87,235.05 L148.57,235.02 L149.27,234.99 L149.97,234.96 L150.67,234.91 L151.36,234.86 L152.06,234.79 L152.76,234.71 L153.46,234.60 L154.16,234.47 L154.86,234.33 L155.55,234.19 L156.25,234.05 L156.95,233.91 L157.65,233.78 L158.35,233.67 L159.04,233.59 L159.74,233.53 L160.44,233.50 L161.14,233.53 L161.84,233.66 L162.54,233.87 L163.23,234.14 L163.93,234.46 L164.63,234.82 L165.33,235.20 L166.03,235.60 L166.73,235.99 L167.42,236.36 L168.12,236.73 L168.82,237.16 L169.52,237.65 L170.22,238.17 L170.92,238.72 L171.61,239.26 L172.31,239.78 L173.01,240.27 L173.71,240.70 L174.41,241.06 L175.11,241.32 L175.80,241.47 L176.50,241.50 L177.20,241.45 L177.90,241.35 L178.60,241.16 L179.30,240.89 L179.99,240.50 L180.69,240.00 L181.39,239.35 L182.09,238.25 L182.79,236.59 L183.48,234.38 L184.18,231.57 L184.88,225.32 L185.58,221.51 L186.28,218.87 L186.98,216.69 L187.67,214.99 L188.37,213.22 L189.07,211.18 L189.77,209.07 L190.47,207.03 L191.17,205.11 L191.86,203.17 L192.56,201.32 L193.26,199.63 L193.96,198.19 L194.66,196.94 L195.36,195.86 L196.05,195.01 L196.75,194.46 L197.45,194.34 L198.15,194.09 L198.85,193.83 L199.55,193.88 L200.24,194.27 L200.94,194.93 L201.64,195.77 L202.34,196.73 L203.04,197.73 L203.74,198.72 L204.43,199.61 L205.13,200.37 L205.83,201.11 L206.53,201.85 L207.23,202.60 L207.92,203.34 L208.62,204.07 L209.32,204.78 L210.02,205.47 L210.72,206.14 L211.42,206.77 L212.11,207.37 L212.81,207.95 L213.51,208.51 L214.21,209.07 L214.91,209.62 L215.61,210.15 L216.30,210.68 L217.00,211.19 L217.70,211.69 L218.40,212.18 L219.10,212.66 L219.80,213.13 L220.49,213.59 L221.19,214.04 L221.89,214.47 L222.59,214.90 L223.29,215.30 L223.99,215.67 L224.68,216.01 L225.38,216.32 L226.08,216.63 L226.78,216.93 L227.48,217.25 L228.18,217.58 L228.87,217.94 L229.57,218.32 L230.27,218.72 L230.97,219.13 L231.67,219.54 L232.36,219.96 L233.06,220.38 L233.76,220.80 L234.46,221.21 L235.16,221.62 L235.86,222.01 L236.55,222.40 L237.25,222.76 L237.95,223.10 L238.65,223.43 L239.35,223.74 L240.05,224.03 L240.74,224.31 L241.44,224.59 L242.14,224.86 L242.84,225.13 L243.54,225.39 L244.24,225.66 L244.93,225.94 L245.63,226.22 L246.33,226.50 L247.03,226.78 L247.73,227.07 L248.43,227.36 L249.12,227.64 L249.82,227.93 L250.52,228.21 L251.22,228.50 L251.92,228.78 L252.62,229.06 L253.31,229.33 L254.01,229.60 L254.71,229.87 L255.41,230.13 L256.11,230.38 L256.80,230.63 L257.50,230.87 L258.20,231.10 L258.90,231.33 L259.60,231.54 L260.30,231.74 L260.99,231.94 L261.69,232.12 L262.39,232.29 L263.09,232.46 L263.79,232.62 L264.49,232.78 L265.18,232.94 L265.88,233.09 L266.58,233.24 L267.28,233.40 L267.98,233.56 L268.68,233.73 L269.37,233.90 L270.07,234.06 L270.77,234.23 L271.47,234.39 L272.17,234.56 L272.87,234.73 L273.56,234.90 L274.26,235.09 L274.96,235.28 L275.66,235.52 L276.36,235.79 L277.06,236.08 L277.75,236.37 L278.45,236.64 L279.15,236.87 L279.85,237.06 L280.55,237.17 L281.24,237.19 L281.94,236.98 L282.64,236.58 L283.34,236.11 L284.04,235.71 L284.74,235.49 L285.43,235.39 L286.13,235.31 L286.83,235.24 L287.53,235.19 L288.23,235.15 L288.93,235.11 L289.62,235.08 L290.32,235.06 L291.02,235.03 L291.72,235.00 L292.42,234.97 L293.12,234.93 L293.81,234.88 L294.51,234.81 L295.21,234.73 L295.91,234.63 L296.61,234.51 L297.31,234.37 L298.00,234.23 L298.70,234.09 L299.40,233.95 L300.10,233.82 L300.80,233.70 L301.50,233.61 L302.19,233.54 L302.89,233.50 L303.59,233.52 L304.29,233.62 L304.99,233.80 L305.68,234.05 L306.38,234.36 L307.08,234.71 L307.78,235.09 L308.48,235.48 L309.18,235.88 L309.87,236.26 L310.57,236.62 L311.27,237.03 L311.97,237.50 L312.67,238.02 L313.37,238.56 L314.06,239.11 L314.76,239.64 L315.46,240.14 L316.16,240.59 L316.86,240.97 L317.56,241.26 L318.25,241.44 L318.95,241.50 L319.65,241.47 L320.35,241.38 L321.05,241.22 L321.75,240.97 L322.44,240.62 L323.14,240.15 L323.84,239.55 L324.54,238.62 L325.24,237.12 L325.94,235.07 L326.63,232.48 L327.33,227.17 L328.03,222.42 L328.73,219.56 L329.43,217.26 L330.12,215.45 L330.82,213.77 L331.52,211.77 L332.22,209.67 L332.92,207.60 L333.62,205.66 L334.31,203.72 L335.01,201.84 L335.71,200.09 L336.41,198.58 L337.11,197.28 L337.81,196.15 L338.50,195.22 L339.20,194.57 L339.90,194.37 L340.60,194.19 L341.30,193.88 L342.00,193.83 L342.69,194.13 L343.39,194.72 L344.09,195.51 L344.79,196.44 L345.49,197.45 L346.19,198.44 L346.88,199.37 L347.58,200.16 L348.28,200.89 L348.98,201.64 L349.68,202.39 L350.38,203.13 L351.07,203.86 L351.77,204.58 L352.47,205.28 L353.17,205.95 L353.87,206.59 L354.56,207.20" fill="none" stroke="#161616" stroke-width="1.05" stroke-linejoin="round"/>
<path d="M55.00,230.00 L55.70,229.62 L56.40,229.53 L57.09,229.93 L57.79,230.69 L58.49,231.74 L59.19,232.99 L59.89,234.33 L60.59,235.69 L61.28,236.98 L61.98,238.09 L62.68,239.04 L63.38,239.96 L64.08,240.87 L64.78,241.76 L65.47,242.65 L66.17,243.51 L66.87,244.37 L67.57,245.21 L68.27,246.04 L68.97,246.85 L69.66,247.66 L70.36,248.46 L71.06,249.25 L71.76,250.04 L72.46,250.81 L73.16,251.56 L73.85,252.30 L74.55,253.02 L75.25,253.71 L75.95,254.38 L76.65,255.03 L77.35,255.64 L78.04,256.23 L78.74,256.80 L79.44,257.35 L80.14,257.89 L80.84,258.42 L81.53,258.94 L82.23,259.45 L82.93,259.96 L83.63,260.47 L84.33,260.99 L85.03,261.50 L85.72,262.01 L86.42,262.52 L87.12,263.03 L87.82,263.54 L88.52,264.04 L89.22,264.54 L89.91,265.04 L90.61,265.54 L91.31,266.03 L92.01,266.52 L92.71,267.01 L93.41,267.49 L94.10,267.96 L94.80,268.44 L95.50,268.90 L96.20,269.36 L96.90,269.82 L97.60,270.27 L98.29,270.72 L98.99,271.17 L99.69,271.62 L100.39,272.06 L101.09,272.51 L101.79,272.96 L102.48,273.41 L103.18,273.85 L103.88,274.29 L104.58,274.73 L105.28,275.17 L105.97,275.60 L106.67,276.03 L107.37,276.46 L108.07,276.88 L108.77,277.29 L109.47,277.70 L110.16,278.10 L110.86,278.49 L111.56,278.88 L112.26,279.26 L112.96,279.63 L113.66,280.00 L114.35,280.35 L115.05,280.69 L115.75,281.03 L116.45,281.35 L117.15,281.66 L117.85,281.97 L118.54,282.26 L119.24,282.54 L119.94,282.82 L120.64,283.09 L121.34,283.35 L122.04,283.61 L122.73,283.86 L123.43,284.10 L124.13,284.33 L124.83,284.57 L125.53,284.80 L126.23,285.02 L126.92,285.24 L127.62,285.46 L128.32,285.67 L129.02,285.89 L129.72,286.10 L130.41,286.31 L131.11,286.52 L131.81,286.73 L132.51,286.95 L133.21,287.18 L133.91,287.41 L134.60,287.65 L135.30,287.86 L136.00,288.05 L136.70,288.21 L137.40,288.33 L138.10,288.39 L138.79,288.36 L139.49,288.06 L140.19,287.58 L140.89,287.07 L141.59,286.65 L142.29,286.44 L142.98,286.31 L143.68,286.19 L144.38,286.09 L145.08,286.01 L145.78,285.94 L146.48,285.87 L147.17,285.81 L147.87,285.76 L148.57,285.70 L149.27,285.64 L149.97,285.57 L150.67,285.49 L151.36,285.40 L152.06,285.29 L152.76,285.16 L153.46,284.99 L154.16,284.80 L154.86,284.60 L155.55,284.39 L156.25,284.18 L156.95,283.97 L157.65,283.77 L158.35,283.59 L159.04,283.44 L159.74,283.32 L160.44,283.24 L161.14,283.20 L161.84,283.25 L162.54,283.43 L163.23,283.72 L163.93,284.09 L164.63,284.53 L165.33,285.00 L166.03,285.47 L166.73,285.93 L167.42,286.35 L168.12,286.73 L168.82,287.16 L169.52,287.61 L170.22,288.10 L170.92,288.58 L171.61,289.07 L172.31,289.53 L173.01,289.95 L173.71,290.32 L174.41,290.62 L175.11,290.85 L175.80,290.98 L176.50,290.99 L177.20,290.89 L177.90,290.63 L178.60,290.22 L179.30,289.61 L179.99,288.79 L180.69,287.71 L181.39,285.81 L182.09,283.09 L182.79,279.88 L183.48,276.50 L184.18,272.12 L184.88,267.59 L185.58,263.42 L186.28,259.41 L186.98,255.89 L187.67,252.84 L188.37,250.08 L189.07,247.53 L189.77,245.12 L190.47,242.79 L191.17,240.59 L191.86,238.56 L192.56,236.73 L193.26,235.07 L193.96,233.52 L194.66,232.18 L195.36,231.17 L196.05,230.58 L196.75,230.30 L197.45,230.08 L198.15,229.73 L198.85,229.50 L199.55,229.77 L200.24,230.44 L200.94,231.42 L201.64,232.62 L202.34,233.94 L203.04,235.31 L203.74,236.62 L204.43,237.80 L205.13,238.77 L205.83,239.70 L206.53,240.61 L207.23,241.51 L207.92,242.40 L208.62,243.27 L209.32,244.12 L210.02,244.97 L210.72,245.80 L211.42,246.62 L212.11,247.43 L212.81,248.23 L213.51,249.03 L214.21,249.81 L214.91,250.59 L215.61,251.35 L216.30,252.09 L217.00,252.81 L217.70,253.52 L218.40,254.19 L219.10,254.85 L219.80,255.47 L220.49,256.07 L221.19,256.64 L221.89,257.20 L222.59,257.74 L223.29,258.27 L223.99,258.79 L224.68,259.30 L225.38,259.81 L226.08,260.33 L226.78,260.84 L227.48,261.35 L228.18,261.87 L228.87,262.38 L229.57,262.89 L230.27,263.39 L230.97,263.90 L231.67,264.40 L232.36,264.90 L233.06,265.40 L233.76,265.89 L234.46,266.38 L235.16,266.87 L235.86,267.35 L236.55,267.83 L237.25,268.30 L237.95,268.77 L238.65,269.23 L239.35,269.69 L240.05,270.14 L240.74,270.59 L241.44,271.04 L242.14,271.49 L242.84,271.94 L243.54,272.38 L244.24,272.83 L244.93,273.28 L245.63,273.72 L246.33,274.17 L247.03,274.61 L247.73,275.05 L248.43,275.48 L249.12,275.91 L249.82,276.34 L250.52,276.76 L251.22,277.17 L251.92,277.58 L252.62,277.99 L253.31,278.38 L254.01,278.77 L254.71,279.15 L255.41,279.53 L256.11,279.89 L256.80,280.25 L257.50,280.60 L258.20,280.93 L258.90,281.26 L259.60,281.57 L260.30,281.88 L260.99,282.18 L261.69,282.46 L262.39,282.74 L263.09,283.01 L263.79,283.28 L264.49,283.53 L265.18,283.78 L265.88,284.03 L266.58,284.27 L267.28,284.50 L267.98,284.73 L268.68,284.96 L269.37,285.18 L270.07,285.40 L270.77,285.61 L271.47,285.83 L272.17,286.04 L272.87,286.25 L273.56,286.46 L274.26,286.67 L274.96,286.89 L275.66,287.11 L276.36,287.35 L277.06,287.58 L277.75,287.80 L278.45,288.00 L279.15,288.17 L279.85,288.30 L280.55,288.38 L281.24,288.39 L281.94,288.17 L282.64,287.73 L283.34,287.21 L284.04,286.75 L284.74,286.48 L285.43,286.34 L286.13,286.22 L286.83,286.12 L287.53,286.03 L288.23,285.96 L288.93,285.89 L289.62,285.83 L290.32,285.77 L291.02,285.71 L291.72,285.65 L292.42,285.59 L293.12,285.51 L293.81,285.43 L294.51,285.32 L295.21,285.20 L295.91,285.04 L296.61,284.86 L297.31,284.66 L298.00,284.45 L298.70,284.24 L299.40,284.03 L300.10,283.82 L300.80,283.64 L301.50,283.48 L302.19,283.35 L302.89,283.26 L303.59,283.21 L304.29,283.22 L304.99,283.36 L305.68,283.63 L306.38,283.98 L307.08,284.40 L307.78,284.86 L308.48,285.34 L309.18,285.81 L309.87,286.24 L310.57,286.62 L311.27,287.03 L311.97,287.48 L312.67,287.96 L313.37,288.45 L314.06,288.93 L314.76,289.40 L315.46,289.83 L316.16,290.22 L316.86,290.55 L317.56,290.79 L318.25,290.95 L318.95,291.00 L319.65,290.93 L320.35,290.72 L321.05,290.35 L321.75,289.80 L322.44,289.05 L323.14,288.06 L323.84,286.45 L324.54,283.93 L325.24,280.83 L325.94,277.48 L326.63,273.47 L327.33,268.79 L328.03,264.60 L328.73,260.52 L329.43,256.83 L330.12,253.68 L330.82,250.85 L331.52,248.24 L332.22,245.80 L332.92,243.45 L333.62,241.21 L334.31,239.12 L335.01,237.23 L335.71,235.54 L336.41,233.94 L337.11,232.53 L337.81,231.42 L338.50,230.71 L339.20,230.36 L339.90,230.15 L340.60,229.84 L341.30,229.51 L342.00,229.65 L342.69,230.21 L343.39,231.11 L344.09,232.26 L344.79,233.56 L345.49,234.92 L346.19,236.26 L346.88,237.48 L347.58,238.50 L348.28,239.43 L348.98,240.35 L349.68,241.25 L350.38,242.14 L351.07,243.02 L351.77,243.88 L352.47,244.73 L353.17,245.57 L353.87,246.39 L354.56,247.20" fill="none" stroke="#161616" stroke-width="1.05" stroke-linejoin="round"/>
<path d="M55.00,262.00 L55.70,261.78 L56.40,261.70 L57.09,261.85 L57.79,262.28 L58.49,262.89 L59.19,263.61 L59.89,264.42 L60.59,265.42 L61.28,266.52 L61.98,267.67 L62.68,268.77 L63.38,269.77 L64.08,270.64 L64.78,271.48 L65.47,272.30 L66.17,273.11 L66.87,273.89 L67.57,274.66 L68.27,275.41 L68.97,276.15 L69.66,276.87 L70.36,277.58 L71.06,278.27 L71.76,278.95 L72.46,279.62 L73.16,280.28 L73.85,280.93 L74.55,281.57 L75.25,282.20 L75.95,282.82 L76.65,283.42 L77.35,284.02 L78.04,284.60 L78.74,285.18 L79.44,285.74 L80.14,286.30 L80.84,286.84 L81.53,287.37 L82.23,287.90 L82.93,288.40 L83.63,288.89 L84.33,289.37 L85.03,289.84 L85.72,290.29 L86.42,290.73 L87.12,291.17 L87.82,291.60 L88.52,292.02 L89.22,292.44 L89.91,292.86 L90.61,293.27 L91.31,293.68 L92.01,294.09 L92.71,294.48 L93.41,294.88 L94.10,295.27 L94.80,295.65 L95.50,296.03 L96.20,296.41 L96.90,296.78 L97.60,297.16 L98.29,297.53 L98.99,297.91 L99.69,298.28 L100.39,298.66 L101.09,299.04 L101.79,299.42 L102.48,299.80 L103.18,300.19 L103.88,300.57 L104.58,300.95 L105.28,301.34 L105.97,301.72 L106.67,302.11 L107.37,302.49 L108.07,302.87 L108.77,303.25 L109.47,303.63 L110.16,304.01 L110.86,304.39 L111.56,304.76 L112.26,305.13 L112.96,305.49 L113.66,305.85 L114.35,306.21 L115.05,306.56 L115.75,306.91 L116.45,307.25 L117.15,307.59 L117.85,307.93 L118.54,308.27 L119.24,308.61 L119.94,308.94 L120.64,309.27 L121.34,309.60 L122.04,309.93 L122.73,310.25 L123.43,310.57 L124.13,310.89 L124.83,311.20 L125.53,311.51 L126.23,311.82 L126.92,312.12 L127.62,312.42 L128.32,312.72 L129.02,313.01 L129.72,313.29 L130.41,313.57 L131.11,313.85 L131.81,314.12 L132.51,314.39 L133.21,314.67 L133.91,314.96 L134.60,315.25 L135.30,315.53 L136.00,315.78 L136.70,316.01 L137.40,316.19 L138.10,316.32 L138.79,316.39 L139.49,316.38 L140.19,316.24 L140.89,316.01 L141.59,315.74 L142.29,315.50 L142.98,315.34 L143.68,315.31 L144.38,315.39 L145.08,315.55 L145.78,315.75 L146.48,315.96 L147.17,316.14 L147.87,316.26 L148.57,316.30 L149.27,316.17 L149.97,315.90 L150.67,315.51 L151.36,315.06 L152.06,314.56 L152.76,314.07 L153.46,313.62 L154.16,313.25 L154.86,313.00 L155.55,312.83 L156.25,312.68 L156.95,312.55 L157.65,312.45 L158.35,312.36 L159.04,312.29 L159.74,312.24 L160.44,312.21 L161.14,312.20 L161.84,312.24 L162.54,312.40 L163.23,312.65 L163.93,312.97 L164.63,313.34 L165.33,313.74 L166.03,314.15 L166.73,314.53 L167.42,314.88 L168.12,315.19 L168.82,315.53 L169.52,315.89 L170.22,316.27 L170.92,316.65 L171.61,317.01 L172.31,317.35 L173.01,317.65 L173.71,317.90 L174.41,318.08 L175.11,318.18 L175.80,318.19 L176.50,318.13 L177.20,317.96 L177.90,317.66 L178.60,317.22 L179.30,316.59 L179.99,315.75 L180.69,314.23 L181.39,312.03 L182.09,309.39 L182.79,306.51 L183.48,302.85 L184.18,298.64 L184.88,294.62 L185.58,290.69 L186.28,286.91 L186.98,283.91 L187.67,281.83 L188.37,280.20 L189.07,278.72 L189.77,277.09 L190.47,275.17 L191.17,273.16 L191.86,271.21 L192.56,269.30 L193.26,267.34 L193.96,265.56 L194.66,264.20 L195.36,263.36 L196.05,262.78 L196.75,262.39 L197.45,262.08 L198.15,261.83 L198.85,261.71 L199.55,261.78 L200.24,262.14 L200.94,262.71 L201.64,263.40 L202.34,264.17 L203.04,265.12 L203.74,266.20 L204.43,267.34 L205.13,268.47 L205.83,269.50 L206.53,270.39 L207.23,271.24 L207.92,272.07 L208.62,272.88 L209.32,273.67 L210.02,274.44 L210.72,275.20 L211.42,275.94 L212.11,276.67 L212.81,277.38 L213.51,278.08 L214.21,278.76 L214.91,279.43 L215.61,280.10 L216.30,280.75 L217.00,281.39 L217.70,282.02 L218.40,282.64 L219.10,283.25 L219.80,283.85 L220.49,284.44 L221.19,285.02 L221.89,285.58 L222.59,286.14 L223.29,286.69 L223.99,287.22 L224.68,287.75 L225.38,288.26 L226.08,288.76 L226.78,289.24 L227.48,289.71 L228.18,290.16 L228.87,290.61 L229.57,291.05 L230.27,291.48 L230.97,291.90 L231.67,292.32 L232.36,292.74 L233.06,293.15 L233.76,293.57 L234.46,293.97 L235.16,294.37 L235.86,294.77 L236.55,295.16 L237.25,295.54 L237.95,295.92 L238.65,296.30 L239.35,296.68 L240.05,297.05 L240.74,297.43 L241.44,297.80 L242.14,298.18 L242.84,298.55 L243.54,298.93 L244.24,299.31 L244.93,299.69 L245.63,300.08 L246.33,300.46 L247.03,300.84 L247.73,301.23 L248.43,301.61 L249.12,302.00 L249.82,302.38 L250.52,302.76 L251.22,303.15 L251.92,303.53 L252.62,303.90 L253.31,304.28 L254.01,304.65 L254.71,305.02 L255.41,305.39 L256.11,305.75 L256.80,306.11 L257.50,306.46 L258.20,306.81 L258.90,307.16 L259.60,307.50 L260.30,307.84 L260.99,308.17 L261.69,308.51 L262.39,308.84 L263.09,309.18 L263.79,309.51 L264.49,309.83 L265.18,310.16 L265.88,310.48 L266.58,310.80 L267.28,311.11 L267.98,311.43 L268.68,311.73 L269.37,312.04 L270.07,312.34 L270.77,312.63 L271.47,312.92 L272.17,313.21 L272.87,313.49 L273.56,313.77 L274.26,314.04 L274.96,314.31 L275.66,314.59 L276.36,314.88 L277.06,315.17 L277.75,315.45 L278.45,315.71 L279.15,315.95 L279.85,316.14 L280.55,316.29 L281.24,316.38 L281.94,316.40 L282.64,316.29 L283.34,316.08 L284.04,315.82 L284.74,315.56 L285.43,315.37 L286.13,315.30 L286.83,315.36 L287.53,315.50 L288.23,315.69 L288.93,315.90 L289.62,316.09 L290.32,316.24 L291.02,316.30 L291.72,316.22 L292.42,315.99 L293.12,315.63 L293.81,315.19 L294.51,314.70 L295.21,314.21 L295.91,313.74 L296.61,313.35 L297.31,313.06 L298.00,312.88 L298.70,312.72 L299.40,312.59 L300.10,312.47 L300.80,312.38 L301.50,312.31 L302.19,312.25 L302.89,312.22 L303.59,312.20 L304.29,312.22 L304.99,312.34 L305.68,312.57 L306.38,312.87 L307.08,313.23 L307.78,313.63 L308.48,314.03 L309.18,314.43 L309.87,314.79 L310.57,315.10 L311.27,315.43 L311.97,315.79 L312.67,316.16 L313.37,316.54 L314.06,316.91 L314.76,317.26 L315.46,317.57 L316.16,317.83 L316.86,318.03 L317.56,318.16 L318.25,318.20 L318.95,318.15 L319.65,318.02 L320.35,317.76 L321.05,317.36 L321.75,316.79 L322.44,316.03 L323.14,314.75 L323.84,312.72 L324.54,310.18 L325.24,307.35 L325.94,303.98 L326.63,299.86 L327.33,295.71 L328.03,291.82 L328.73,287.93 L329.43,284.65 L330.12,282.37 L330.82,280.64 L331.52,279.14 L332.22,277.59 L332.92,275.74 L333.62,273.73 L334.31,271.75 L335.01,269.86 L335.71,267.89 L336.41,266.04 L337.11,264.53 L337.81,263.56 L338.50,262.92 L339.20,262.49 L339.90,262.17 L340.60,261.89 L341.30,261.73 L342.00,261.73 L342.69,262.01 L343.39,262.53 L344.09,263.19 L344.79,263.93 L345.49,264.83 L346.19,265.88 L346.88,267.01 L347.58,268.15 L348.28,269.22 L348.98,270.15 L349.68,271.00 L350.38,271.84 L351.07,272.65 L351.77,273.45 L352.47,274.23 L353.17,274.99 L353.87,275.73 L354.56,276.46" fill="none" stroke="#161616" stroke-width="1.05" stroke-linejoin="round"/>
</g>
<rect x="40.4" y="20.9" width="314.00" height="312.90" fill="none" stroke="#000" stroke-width="1.3"/>
<path d="M55.00,333.8 v-7.5 M55.00,20.9 v7.5 M69.27,333.8 v-3.9 M69.27,20.9 v3.9 M83.53,333.8 v-3.9 M83.53,20.9 v3.9 M97.80,333.8 v-3.9 M97.80,20.9 v3.9 M112.06,333.8 v-3.9 M112.06,20.9 v3.9 M126.33,333.8 v-7.5 M126.33,20.9 v7.5 M140.59,333.8 v-3.9 M140.59,20.9 v3.9 M154.86,333.8 v-3.9 M154.86,20.9 v3.9 M169.12,333.8 v-3.9 M169.12,20.9 v3.9 M183.39,333.8 v-3.9 M183.39,20.9 v3.9 M197.65,333.8 v-7.5 M197.65,20.9 v7.5 M211.92,333.8 v-3.9 M211.92,20.9 v3.9 M226.18,333.8 v-3.9 M226.18,20.9 v3.9 M240.45,333.8 v-3.9 M240.45,20.9 v3.9 M254.71,333.8 v-3.9 M254.71,20.9 v3.9 M268.98,333.8 v-7.5 M268.98,20.9 v7.5 M283.24,333.8 v-3.9 M283.24,20.9 v3.9 M297.50,333.8 v-3.9 M297.50,20.9 v3.9 M311.77,333.8 v-3.9 M311.77,20.9 v3.9 M326.04,333.8 v-3.9 M326.04,20.9 v3.9 M340.30,333.8 v-7.5 M340.30,20.9 v7.5 M354.56,333.8 v-3.9 M354.56,20.9 v3.9 M40.4,23.25 h3.9 M354.4,23.25 h-3.9 M40.4,49.12 h3.9 M354.4,49.12 h-3.9 M40.4,75.00 h7.5 M354.4,75.00 h-7.5 M40.4,100.88 h3.9 M354.4,100.88 h-3.9 M40.4,126.75 h3.9 M354.4,126.75 h-3.9 M40.4,152.62 h3.9 M354.4,152.62 h-3.9 M40.4,178.50 h7.5 M354.4,178.50 h-7.5 M40.4,204.38 h3.9 M354.4,204.38 h-3.9 M40.4,230.25 h3.9 M354.4,230.25 h-3.9 M40.4,256.12 h3.9 M354.4,256.12 h-3.9 M40.4,282.00 h7.5 M354.4,282.00 h-7.5 M40.4,307.88 h3.9 M354.4,307.88 h-3.9 M40.4,333.75 h3.9 M354.4,333.75 h-3.9" fill="none" stroke="#000" stroke-width="1"/>
<g font-family="Liberation Mono, monospace" font-size="12.3" fill="#000" stroke="#000" stroke-width="0.12" style="filter:grayscale(1)">
<g font-family="Liberation Serif, serif" font-size="13.2"><text x="59.0" y="43.3" textLength="16.8" lengthAdjust="spacingAndGlyphs">WY</text><text x="81.8" y="43.3" textLength="22.8" lengthAdjust="spacingAndGlyphs">Ant</text><text x="109.7" y="43.3" textLength="31.6" lengthAdjust="spacingAndGlyphs">RRab</text></g>
<text transform="translate(55.20,348.9) scale(1.1,1)" font-family="Liberation Serif, serif" font-size="12.6" text-anchor="middle">0</text>
<text transform="translate(126.53,348.9) scale(1.2,1)" font-family="Liberation Serif, serif" font-size="12.6" text-anchor="middle">0.5</text>
<text transform="translate(197.85,348.9) scale(1.1,1)" font-family="Liberation Serif, serif" font-size="12.6" text-anchor="middle">1</text>
<text transform="translate(269.18,348.9) scale(1.2,1)" font-family="Liberation Serif, serif" font-size="12.6" text-anchor="middle">1.5</text>
<text transform="translate(340.50,348.9) scale(1.1,1)" font-family="Liberation Serif, serif" font-size="12.6" text-anchor="middle">2</text>
<text transform="translate(33.6,79.30) scale(1.1,1)" font-family="Liberation Serif, serif" font-size="12.6" text-anchor="end">8</text>
<text transform="translate(33.6,182.80) scale(1.1,1)" font-family="Liberation Serif, serif" font-size="12.6" text-anchor="end">10</text>
<text transform="translate(33.6,286.30) scale(1.1,1)" font-family="Liberation Serif, serif" font-size="12.6" text-anchor="end">12</text>
<text x="179.1" y="364" font-family="Liberation Serif, serif" font-size="13.2" textLength="36.8" lengthAdjust="spacingAndGlyphs">Phase</text>
<g transform="translate(9.9,234.6) rotate(-90)" font-family="Liberation Serif, serif" font-size="13.2"><text x="0" y="0" textLength="57" lengthAdjust="spacingAndGlyphs">Vegamag</text><text x="63.6" y="0" textLength="7.6" lengthAdjust="spacingAndGlyphs">+</text><text x="79.6" y="0" textLength="34" lengthAdjust="spacingAndGlyphs">offset</text></g>
</g>
</svg>
</body></html>
